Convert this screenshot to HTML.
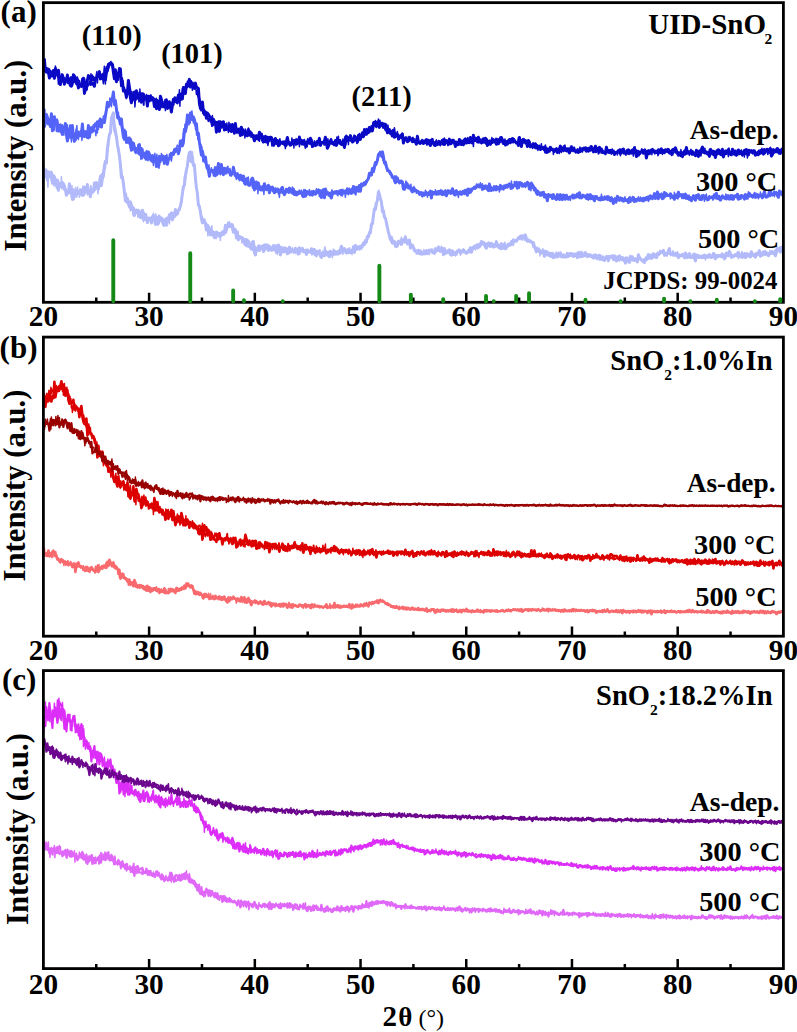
<!DOCTYPE html>
<html><head><meta charset="utf-8"><title>XRD</title>
<style>html,body{margin:0;padding:0;background:#fff;width:797px;height:1032px;overflow:hidden}svg{display:block}
text{font-family:"Liberation Serif",serif}</style></head>
<body><svg width="797" height="1032" viewBox="0 0 797 1032">
<rect width="797" height="1032" fill="#fff"/>
<polyline fill="none" stroke="#b2bafa" stroke-width="3.0" stroke-linejoin="round" points="43.4,178.0 44.4,169.4 45.4,176.8 46.4,171.0 47.4,180.1 48.4,171.7 49.4,175.7 50.4,176.8 51.4,172.1 52.4,183.3 53.4,175.4 54.4,176.8 55.4,180.0 56.4,185.1 57.4,180.0 58.4,190.3 59.4,183.7 60.4,183.3 61.4,186.8 62.4,185.8 63.4,183.6 64.4,186.4 65.4,189.7 66.4,195.3 67.4,191.4 68.4,192.7 69.4,183.7 70.4,191.2 71.4,192.6 72.4,199.4 73.4,199.2 74.4,194.4 75.4,195.8 76.4,193.5 77.4,190.8 78.4,193.0 79.4,191.2 80.4,193.3 81.4,194.2 82.4,190.8 83.4,195.1 84.4,187.1 85.4,191.0 86.4,191.7 87.4,184.6 88.4,193.1 89.4,193.4 90.4,196.8 91.4,190.4 92.4,192.1 93.4,191.6 94.4,183.0 95.4,189.0 96.4,182.4 97.4,187.6 98.4,188.3 99.4,185.7 100.4,176.3 101.4,185.5 102.4,178.0 103.4,176.4 104.4,165.9 105.4,161.3 106.4,163.1 107.4,148.7 108.4,141.2 109.4,134.8 110.4,132.9 111.4,117.9 112.4,115.5 113.4,112.8 114.4,130.2 115.4,132.3 116.4,136.6 117.4,144.3 118.4,149.4 119.4,155.8 120.4,164.4 121.4,177.7 122.4,176.8 123.4,183.2 124.4,192.1 125.4,200.8 126.4,200.8 127.4,198.3 128.4,203.9 129.4,205.2 130.4,201.9 131.4,204.9 132.4,209.4 133.4,207.8 134.4,215.6 135.4,212.0 136.4,210.1 137.4,212.2 138.4,210.3 139.4,211.9 140.4,217.4 141.4,215.4 142.4,210.2 143.4,212.8 144.4,219.6 145.4,214.5 146.4,217.6 147.4,222.6 148.4,218.6 149.4,218.6 150.4,218.3 151.4,222.9 152.4,217.1 153.4,215.3 154.4,219.4 155.4,224.3 156.4,220.4 157.4,224.4 158.4,223.6 159.4,216.5 160.4,220.4 161.4,220.1 162.4,220.7 163.4,224.7 164.4,225.4 165.4,223.2 166.4,224.3 167.4,217.9 168.4,221.4 169.4,214.7 170.4,216.1 171.4,212.7 172.4,219.8 173.4,214.0 174.4,216.9 175.4,209.6 176.4,213.4 177.4,214.0 178.4,210.4 179.4,208.9 180.4,206.3 181.4,200.8 182.4,193.8 183.4,186.3 184.4,185.3 185.4,175.5 186.4,170.0 187.4,165.8 188.4,156.9 189.4,152.6 190.4,151.8 191.4,161.8 192.4,157.1 193.4,165.6 194.4,164.9 195.4,178.0 196.4,187.7 197.4,193.3 198.4,205.0 199.4,206.8 200.4,211.8 201.4,218.6 202.4,222.8 203.4,221.4 204.4,221.2 205.4,223.7 206.4,229.9 207.4,225.0 208.4,226.7 209.4,228.2 210.4,234.9 211.4,234.2 212.4,231.3 213.4,232.5 214.4,235.0 215.4,233.6 216.4,232.1 217.4,232.7 218.4,234.5 219.4,233.3 220.4,234.9 221.4,233.6 222.4,231.9 223.4,234.2 224.4,233.2 225.4,225.5 226.4,230.1 227.4,226.2 228.4,223.0 229.4,226.6 230.4,225.1 231.4,226.7 232.4,224.9 233.4,232.3 234.4,230.6 235.4,229.6 236.4,238.1 237.4,232.4 238.4,239.9 239.4,236.5 240.4,236.9 241.4,237.7 242.4,237.8 243.4,238.9 244.4,243.0 245.4,242.6 246.4,239.4 247.4,244.6 248.4,240.9 249.4,246.4 250.4,244.4 251.4,245.3 252.4,249.2 253.4,241.5 254.4,252.4 255.4,254.9 256.4,250.2 257.4,249.1 258.4,246.1 259.4,250.6 260.4,247.5 261.4,247.3 262.4,246.1 263.4,251.6 264.4,250.2 265.4,244.7 266.4,247.9 267.4,245.0 268.4,250.5 269.4,246.1 270.4,248.2 271.4,249.8 272.4,248.0 273.4,245.6 274.4,247.7 275.4,245.7 276.4,252.5 277.4,251.4 278.4,245.1 279.4,246.7 280.4,254.9 281.4,251.2 282.4,248.9 283.4,251.9 284.4,250.6 285.4,251.7 286.4,249.0 287.4,253.8 288.4,250.6 289.4,247.2 290.4,249.9 291.4,249.3 292.4,251.0 293.4,250.8 294.4,250.5 295.4,248.3 296.4,250.8 297.4,249.0 298.4,254.1 299.4,247.8 300.4,249.9 301.4,249.4 302.4,248.4 303.4,251.7 304.4,251.6 305.4,251.4 306.4,254.5 307.4,249.9 308.4,252.3 309.4,251.6 310.4,252.2 311.4,248.8 312.4,249.1 313.4,253.8 314.4,249.4 315.4,254.6 316.4,255.6 317.4,251.1 318.4,253.2 319.4,253.0 320.4,256.0 321.4,257.5 322.4,254.7 323.4,254.9 324.4,255.7 325.4,251.0 326.4,253.0 327.4,255.1 328.4,252.2 329.4,256.8 330.4,251.2 331.4,252.8 332.4,253.4 333.4,254.5 334.4,251.0 335.4,252.1 336.4,253.6 337.4,252.9 338.4,253.8 339.4,250.7 340.4,250.0 341.4,246.2 342.4,249.2 343.4,250.7 344.4,248.5 345.4,250.5 346.4,252.9 347.4,250.0 348.4,252.7 349.4,252.1 350.4,250.4 351.4,251.6 352.4,251.7 353.4,246.8 354.4,252.6 355.4,245.4 356.4,249.2 357.4,247.1 358.4,246.8 359.4,247.9 360.4,246.2 361.4,246.0 362.4,245.6 363.4,243.0 364.4,244.3 365.4,240.5 366.4,242.1 367.4,236.6 368.4,237.0 369.4,232.5 370.4,232.9 371.4,224.2 372.4,223.9 373.4,216.0 374.4,208.7 375.4,209.4 376.4,203.6 377.4,200.4 378.4,191.9 379.4,193.9 380.4,199.1 381.4,201.3 382.4,211.5 383.4,210.5 384.4,217.4 385.4,218.2 386.4,222.7 387.4,227.4 388.4,231.8 389.4,235.7 390.4,239.5 391.4,237.2 392.4,243.0 393.4,242.9 394.4,241.5 395.4,244.0 396.4,246.6 397.4,245.8 398.4,241.3 399.4,242.1 400.4,241.7 401.4,244.4 402.4,241.0 403.4,239.7 404.4,241.0 405.4,236.8 406.4,241.9 407.4,243.9 408.4,243.4 409.4,240.0 410.4,248.1 411.4,245.5 412.4,245.2 413.4,247.1 414.4,250.8 415.4,250.8 416.4,251.5 417.4,253.1 418.4,250.4 419.4,253.8 420.4,250.8 421.4,253.2 422.4,254.2 423.4,253.2 424.4,253.7 425.4,251.5 426.4,250.7 427.4,253.7 428.4,251.5 429.4,250.1 430.4,250.5 431.4,250.0 432.4,252.4 433.4,252.0 434.4,253.4 435.4,248.8 436.4,250.7 437.4,250.4 438.4,247.0 439.4,250.4 440.4,251.5 441.4,249.1 442.4,248.4 443.4,254.7 444.4,248.5 445.4,253.5 446.4,251.6 447.4,252.0 448.4,250.5 449.4,249.9 450.4,254.3 451.4,255.2 452.4,250.8 453.4,254.4 454.4,252.5 455.4,254.0 456.4,252.4 457.4,251.7 458.4,250.3 459.4,250.0 460.4,252.8 461.4,252.5 462.4,250.7 463.4,249.7 464.4,250.9 465.4,252.6 466.4,253.1 467.4,252.9 468.4,250.9 469.4,251.6 470.4,247.8 471.4,252.2 472.4,249.2 473.4,247.2 474.4,246.5 475.4,245.8 476.4,246.6 477.4,248.0 478.4,244.7 479.4,246.9 480.4,245.0 481.4,241.5 482.4,242.2 483.4,242.4 484.4,243.3 485.4,247.2 486.4,248.2 487.4,244.8 488.4,244.9 489.4,243.2 490.4,246.6 491.4,243.4 492.4,244.2 493.4,245.3 494.4,246.7 495.4,245.9 496.4,241.6 497.4,246.3 498.4,245.2 499.4,246.6 500.4,248.5 501.4,243.6 502.4,246.8 503.4,248.1 504.4,244.0 505.4,248.8 506.4,247.4 507.4,246.4 508.4,244.0 509.4,245.3 510.4,245.0 511.4,241.6 512.4,241.1 513.4,239.9 514.4,241.2 515.4,240.7 516.4,241.1 517.4,239.6 518.4,237.8 519.4,238.0 520.4,236.1 521.4,239.0 522.4,235.7 523.4,236.0 524.4,237.8 525.4,234.9 526.4,239.2 527.4,241.2 528.4,240.6 529.4,241.3 530.4,241.6 531.4,241.8 532.4,243.0 533.4,242.6 534.4,246.7 535.4,249.0 536.4,251.9 537.4,248.8 538.4,250.8 539.4,251.7 540.4,250.9 541.4,251.4 542.4,252.0 543.4,252.7 544.4,256.3 545.4,251.1 546.4,252.2 547.4,252.0 548.4,255.1 549.4,255.6 550.4,253.2 551.4,256.5 552.4,253.3 553.4,257.7 554.4,255.4 555.4,256.9 556.4,253.1 557.4,257.0 558.4,255.7 559.4,254.6 560.4,252.9 561.4,256.8 562.4,256.7 563.4,254.9 564.4,257.0 565.4,257.0 566.4,257.1 567.4,253.5 568.4,256.3 569.4,255.3 570.4,253.8 571.4,255.1 572.4,253.9 573.4,256.6 574.4,254.4 575.4,255.2 576.4,256.0 577.4,257.6 578.4,255.6 579.4,252.4 580.4,256.9 581.4,254.9 582.4,256.5 583.4,254.9 584.4,254.2 585.4,252.6 586.4,255.4 587.4,256.7 588.4,254.6 589.4,254.8 590.4,254.8 591.4,255.9 592.4,256.6 593.4,258.0 594.4,256.3 595.4,257.3 596.4,255.4 597.4,258.9 598.4,257.5 599.4,255.2 600.4,256.0 601.4,257.3 602.4,259.6 603.4,257.8 604.4,260.5 605.4,258.6 606.4,256.4 607.4,256.6 608.4,260.7 609.4,256.6 610.4,256.6 611.4,256.4 612.4,255.8 613.4,259.3 614.4,259.6 615.4,256.3 616.4,261.0 617.4,259.9 618.4,257.7 619.4,255.9 620.4,257.8 621.4,257.9 622.4,259.8 623.4,258.1 624.4,260.4 625.4,263.1 626.4,257.8 627.4,258.2 628.4,261.4 629.4,262.5 630.4,256.3 631.4,258.6 632.4,256.9 633.4,260.4 634.4,260.0 635.4,258.6 636.4,260.4 637.4,262.0 638.4,254.7 639.4,257.3 640.4,258.7 641.4,259.9 642.4,260.5 643.4,260.0 644.4,262.5 645.4,259.3 646.4,257.6 647.4,257.1 648.4,254.6 649.4,257.4 650.4,258.3 651.4,255.0 652.4,258.0 653.4,253.8 654.4,256.8 655.4,254.9 656.4,257.7 657.4,255.0 658.4,254.5 659.4,253.1 660.4,251.6 661.4,252.2 662.4,251.4 663.4,250.4 664.4,255.0 665.4,254.6 666.4,253.8 667.4,253.9 668.4,250.7 669.4,248.5 670.4,254.2 671.4,254.3 672.4,254.6 673.4,255.3 674.4,255.2 675.4,253.1 676.4,255.6 677.4,255.7 678.4,257.6 679.4,256.2 680.4,255.7 681.4,255.8 682.4,254.3 683.4,255.3 684.4,257.5 685.4,252.9 686.4,254.7 687.4,257.6 688.4,255.2 689.4,253.6 690.4,257.2 691.4,257.5 692.4,257.1 693.4,256.9 694.4,254.0 695.4,260.9 696.4,255.1 697.4,255.2 698.4,257.5 699.4,257.5 700.4,256.5 701.4,256.8 702.4,257.6 703.4,257.1 704.4,255.0 705.4,256.7 706.4,257.0 707.4,257.0 708.4,256.3 709.4,254.6 710.4,257.1 711.4,257.5 712.4,256.9 713.4,253.5 714.4,256.8 715.4,258.8 716.4,257.0 717.4,255.3 718.4,256.6 719.4,255.9 720.4,255.5 721.4,256.9 722.4,256.5 723.4,254.7 724.4,258.9 725.4,257.5 726.4,253.0 727.4,255.6 728.4,255.7 729.4,251.4 730.4,253.6 731.4,257.5 732.4,255.6 733.4,256.3 734.4,255.9 735.4,255.6 736.4,254.6 737.4,253.3 738.4,252.4 739.4,254.0 740.4,256.7 741.4,256.9 742.4,257.4 743.4,254.9 744.4,253.7 745.4,257.6 746.4,256.8 747.4,255.9 748.4,255.7 749.4,254.1 750.4,256.9 751.4,251.8 752.4,254.1 753.4,255.7 754.4,254.7 755.4,257.2 756.4,255.2 757.4,253.2 758.4,253.0 759.4,250.6 760.4,256.2 761.4,254.3 762.4,255.1 763.4,251.9 764.4,252.0 765.4,254.6 766.4,252.7 767.4,253.3 768.4,255.8 769.4,253.9 770.4,253.7 771.4,253.3 772.4,251.9 773.4,253.6 774.4,252.5 775.4,255.8 776.4,252.6 777.4,248.3 778.4,250.1 779.4,248.7 780.4,252.2 781.4,249.1 782.4,246.8 783.4,247.8"/><polyline fill="none" stroke="#b2bafa" stroke-width="1.5" stroke-linejoin="round" points="43.4,180.4 43.9,166.0 44.4,175.3 44.9,172.4 45.4,173.1 45.9,174.2 46.4,169.0 46.9,175.0 47.4,173.6 47.9,187.1 48.4,178.0 48.9,176.7 49.4,177.4 49.9,176.6 50.4,175.7 50.9,178.1 51.4,181.1 51.9,179.2 52.4,183.2 52.9,180.0 53.4,181.0 53.9,186.0 54.4,183.2 54.9,180.2 55.4,181.4 55.9,183.9 56.4,188.4 56.9,181.8 57.4,182.1 57.9,186.1 58.4,180.5 58.9,182.6 59.4,186.5 59.9,185.8 60.4,184.7 60.9,186.8 61.4,176.6 61.9,188.9 62.4,183.3 62.9,181.7 63.4,188.2 63.9,190.0 64.4,186.9 64.9,185.4 65.4,189.2 65.9,189.3 66.4,194.1 66.9,192.4 67.4,191.0 67.9,194.1 68.4,190.4 68.9,188.5 69.4,193.4 69.9,193.6 70.4,191.5 70.9,190.0 71.4,193.4 71.9,185.4 72.4,195.3 72.9,194.9 73.4,188.7 73.9,194.0 74.4,191.0 74.9,196.3 75.4,187.8 75.9,191.1 76.4,195.9 76.9,197.1 77.4,186.9 77.9,191.7 78.4,193.9 78.9,190.9 79.4,197.3 79.9,188.7 80.4,193.2 80.9,188.9 81.4,196.1 81.9,191.6 82.4,190.4 82.9,186.2 83.4,196.3 83.9,193.4 84.4,193.3 84.9,194.4 85.4,192.0 85.9,189.1 86.4,188.6 86.9,188.6 87.4,195.0 87.9,186.6 88.4,189.2 88.9,190.0 89.4,191.6 89.9,192.6 90.4,187.1 90.9,185.6 91.4,190.5 91.9,193.9 92.4,192.2 92.9,190.3 93.4,188.4 93.9,189.8 94.4,187.9 94.9,190.7 95.4,185.6 95.9,188.0 96.4,187.0 96.9,188.6 97.4,187.3 97.9,193.8 98.4,190.2 98.9,189.7 99.4,178.8 99.9,183.1 100.4,181.5 100.9,183.7 101.4,173.8 101.9,182.3 102.4,180.1 102.9,171.2 103.4,170.1 103.9,168.3 104.4,168.3 104.9,167.4 105.4,168.7 105.9,158.9 106.4,158.3 106.9,153.1 107.4,154.5 107.9,148.2 108.4,146.7 108.9,136.2 109.4,135.5 109.9,130.4 110.4,133.9 110.9,128.3 111.4,122.3 111.9,118.3 112.4,118.0 112.9,113.0 113.4,113.0 113.9,119.7 114.4,128.9 114.9,124.6 115.4,127.1 115.9,129.0 116.4,132.4 116.9,141.5 117.4,145.9 117.9,146.8 118.4,151.1 118.9,153.9 119.4,157.6 119.9,156.7 120.4,163.6 120.9,168.8 121.4,169.5 121.9,173.4 122.4,175.4 122.9,179.8 123.4,186.5 123.9,186.5 124.4,190.7 124.9,196.2 125.4,197.7 125.9,202.5 126.4,193.2 126.9,203.1 127.4,200.4 127.9,203.2 128.4,206.1 128.9,207.5 129.4,208.1 129.9,206.2 130.4,210.9 130.9,206.0 131.4,206.9 131.9,210.1 132.4,206.7 132.9,214.9 133.4,212.1 133.9,215.8 134.4,209.9 134.9,209.3 135.4,211.3 135.9,213.3 136.4,210.0 136.9,213.1 137.4,212.4 137.9,217.4 138.4,211.4 138.9,216.6 139.4,212.2 139.9,211.7 140.4,212.8 140.9,211.8 141.4,216.0 141.9,218.9 142.4,216.8 142.9,218.5 143.4,221.7 143.9,218.2 144.4,218.3 144.9,217.2 145.4,213.7 145.9,220.5 146.4,213.7 146.9,220.6 147.4,218.9 147.9,222.3 148.4,219.1 148.9,217.1 149.4,220.5 149.9,217.9 150.4,219.0 150.9,219.6 151.4,219.0 151.9,218.8 152.4,217.0 152.9,218.7 153.4,213.2 153.9,218.6 154.4,215.7 154.9,222.1 155.4,222.5 155.9,213.7 156.4,219.5 156.9,218.9 157.4,216.5 157.9,220.9 158.4,218.4 158.9,214.9 159.4,219.1 159.9,219.6 160.4,220.4 160.9,216.8 161.4,222.0 161.9,222.4 162.4,217.4 162.9,218.8 163.4,220.5 163.9,219.2 164.4,225.5 164.9,221.4 165.4,218.0 165.9,218.5 166.4,220.2 166.9,226.2 167.4,219.1 167.9,219.5 168.4,220.0 168.9,218.1 169.4,223.9 169.9,215.9 170.4,219.0 170.9,217.1 171.4,218.1 171.9,212.9 172.4,220.5 172.9,215.1 173.4,215.2 173.9,212.2 174.4,212.4 174.9,215.4 175.4,216.0 175.9,214.9 176.4,215.6 176.9,213.8 177.4,211.3 177.9,212.8 178.4,211.4 178.9,208.7 179.4,209.9 179.9,210.3 180.4,206.1 180.9,202.4 181.4,202.6 181.9,202.7 182.4,194.1 182.9,191.3 183.4,188.2 183.9,188.5 184.4,177.0 184.9,179.4 185.4,178.3 185.9,170.0 186.4,173.3 186.9,168.3 187.4,163.1 187.9,162.9 188.4,156.3 188.9,156.7 189.4,161.2 189.9,153.2 190.4,160.3 190.9,155.6 191.4,158.7 191.9,156.7 192.4,151.8 192.9,158.5 193.4,163.7 193.9,163.6 194.4,166.6 194.9,175.3 195.4,177.2 195.9,178.8 196.4,185.4 196.9,193.2 197.4,193.5 197.9,200.5 198.4,205.3 198.9,204.7 199.4,204.6 199.9,206.6 200.4,211.7 200.9,215.7 201.4,215.7 201.9,217.8 202.4,216.6 202.9,219.7 203.4,218.9 203.9,220.4 204.4,218.9 204.9,219.2 205.4,223.0 205.9,222.4 206.4,223.7 206.9,228.6 207.4,227.5 207.9,235.9 208.4,231.6 208.9,228.5 209.4,232.6 209.9,232.1 210.4,230.0 210.9,234.9 211.4,230.8 211.9,225.7 212.4,235.6 212.9,232.5 213.4,238.0 213.9,233.1 214.4,231.9 214.9,238.7 215.4,232.3 215.9,235.4 216.4,238.4 216.9,235.2 217.4,234.7 217.9,235.1 218.4,236.9 218.9,233.0 219.4,236.4 219.9,236.3 220.4,240.4 220.9,233.9 221.4,232.3 221.9,235.9 222.4,232.8 222.9,234.0 223.4,233.2 223.9,235.1 224.4,230.3 224.9,231.2 225.4,224.9 225.9,228.0 226.4,232.9 226.9,226.7 227.4,225.8 227.9,223.6 228.4,227.0 228.9,225.4 229.4,221.8 229.9,225.8 230.4,225.0 230.9,226.4 231.4,223.6 231.9,229.7 232.4,227.2 232.9,226.6 233.4,226.3 233.9,227.8 234.4,231.2 234.9,229.6 235.4,233.6 235.9,233.4 236.4,236.1 236.9,235.7 237.4,234.4 237.9,231.0 238.4,236.6 238.9,238.4 239.4,237.6 239.9,239.1 240.4,237.4 240.9,238.2 241.4,237.4 241.9,243.0 242.4,240.8 242.9,239.8 243.4,238.4 243.9,241.4 244.4,245.3 244.9,243.5 245.4,241.2 245.9,246.3 246.4,246.6 246.9,246.0 247.4,245.9 247.9,246.9 248.4,245.9 248.9,246.6 249.4,243.5 249.9,248.6 250.4,246.0 250.9,250.1 251.4,241.5 251.9,247.6 252.4,248.4 252.9,245.7 253.4,247.6 253.9,248.4 254.4,248.2 254.9,245.9 255.4,246.9 255.9,249.5 256.4,250.2 256.9,247.8 257.4,247.8 257.9,248.2 258.4,250.0 258.9,245.7 259.4,245.1 259.9,248.3 260.4,245.7 260.9,246.8 261.4,248.2 261.9,249.1 262.4,245.8 262.9,249.8 263.4,244.4 263.9,249.3 264.4,244.8 264.9,245.5 265.4,249.5 265.9,247.3 266.4,246.5 266.9,247.3 267.4,249.2 267.9,248.1 268.4,248.2 268.9,250.4 269.4,246.8 269.9,247.3 270.4,247.2 270.9,250.8 271.4,250.5 271.9,251.1 272.4,248.4 272.9,248.2 273.4,250.4 273.9,247.9 274.4,250.5 274.9,250.3 275.4,247.5 275.9,248.8 276.4,248.8 276.9,252.7 277.4,254.5 277.9,249.1 278.4,249.4 278.9,244.7 279.4,249.9 279.9,249.5 280.4,247.3 280.9,251.2 281.4,246.4 281.9,249.2 282.4,249.9 282.9,247.2 283.4,251.5 283.9,251.9 284.4,247.0 284.9,247.0 285.4,251.0 285.9,249.8 286.4,247.4 286.9,249.3 287.4,249.7 287.9,249.7 288.4,251.6 288.9,250.8 289.4,253.5 289.9,252.8 290.4,251.4 290.9,252.2 291.4,252.7 291.9,251.5 292.4,247.7 292.9,251.9 293.4,250.3 293.9,253.4 294.4,250.4 294.9,251.3 295.4,250.9 295.9,253.6 296.4,250.7 296.9,249.8 297.4,251.0 297.9,249.5 298.4,250.7 298.9,250.4 299.4,251.0 299.9,254.3 300.4,249.7 300.9,250.6 301.4,250.2 301.9,251.9 302.4,248.4 302.9,249.4 303.4,250.7 303.9,251.9 304.4,250.8 304.9,249.9 305.4,249.3 305.9,252.0 306.4,253.9 306.9,251.7 307.4,251.5 307.9,252.1 308.4,249.5 308.9,250.8 309.4,250.9 309.9,252.0 310.4,251.5 310.9,249.3 311.4,253.8 311.9,254.9 312.4,251.3 312.9,252.6 313.4,252.4 313.9,253.4 314.4,249.2 314.9,255.1 315.4,251.2 315.9,254.6 316.4,252.4 316.9,251.6 317.4,252.1 317.9,254.1 318.4,250.8 318.9,251.8 319.4,251.7 319.9,249.4 320.4,255.1 320.9,253.8 321.4,252.7 321.9,255.0 322.4,251.1 322.9,252.8 323.4,256.2 323.9,254.8 324.4,248.9 324.9,246.8 325.4,251.1 325.9,255.1 326.4,252.2 326.9,252.7 327.4,254.3 327.9,251.5 328.4,253.6 328.9,254.7 329.4,254.1 329.9,253.9 330.4,252.1 330.9,254.1 331.4,252.4 331.9,255.5 332.4,257.8 332.9,251.7 333.4,249.1 333.9,252.3 334.4,253.7 334.9,254.9 335.4,254.9 335.9,251.4 336.4,251.4 336.9,255.0 337.4,250.7 337.9,254.6 338.4,252.2 338.9,253.9 339.4,253.7 339.9,253.8 340.4,253.8 340.9,250.5 341.4,252.8 341.9,252.2 342.4,252.7 342.9,254.2 343.4,251.5 343.9,250.6 344.4,250.5 344.9,251.2 345.4,253.0 345.9,250.1 346.4,253.5 346.9,251.9 347.4,250.8 347.9,248.8 348.4,251.5 348.9,252.2 349.4,247.7 349.9,252.8 350.4,253.5 350.9,251.1 351.4,251.2 351.9,254.5 352.4,252.3 352.9,248.4 353.4,249.8 353.9,249.4 354.4,249.3 354.9,245.3 355.4,250.6 355.9,248.0 356.4,249.2 356.9,248.5 357.4,250.1 357.9,247.8 358.4,246.8 358.9,248.8 359.4,250.1 359.9,246.9 360.4,249.6 360.9,247.4 361.4,245.7 361.9,248.9 362.4,244.5 362.9,247.2 363.4,244.1 363.9,245.3 364.4,241.9 364.9,242.0 365.4,244.6 365.9,242.3 366.4,241.2 366.9,239.4 367.4,239.8 367.9,235.5 368.4,234.7 368.9,234.9 369.4,232.1 369.9,230.6 370.4,229.9 370.9,227.9 371.4,225.7 371.9,226.7 372.4,223.2 372.9,221.2 373.4,216.6 373.9,213.3 374.4,209.3 374.9,208.6 375.4,203.1 375.9,203.0 376.4,202.8 376.9,201.9 377.4,198.6 377.9,193.1 378.4,193.3 378.9,190.1 379.4,193.3 379.9,193.4 380.4,197.4 380.9,202.6 381.4,202.1 381.9,206.9 382.4,206.0 382.9,207.7 383.4,212.7 383.9,215.7 384.4,214.2 384.9,217.4 385.4,217.1 385.9,221.2 386.4,225.0 386.9,225.4 387.4,226.7 387.9,227.2 388.4,232.0 388.9,234.4 389.4,235.7 389.9,236.8 390.4,235.9 390.9,242.2 391.4,240.6 391.9,241.3 392.4,243.4 392.9,239.4 393.4,243.3 393.9,243.7 394.4,244.9 394.9,246.8 395.4,245.6 395.9,242.1 396.4,244.4 396.9,245.1 397.4,244.7 397.9,242.1 398.4,241.0 398.9,244.1 399.4,243.4 399.9,242.5 400.4,239.6 400.9,244.8 401.4,237.2 401.9,240.9 402.4,244.5 402.9,240.8 403.4,241.3 403.9,239.1 404.4,243.0 404.9,239.0 405.4,241.6 405.9,241.6 406.4,240.0 406.9,243.3 407.4,240.0 407.9,241.4 408.4,242.7 408.9,242.3 409.4,243.9 409.9,244.9 410.4,243.3 410.9,243.3 411.4,243.7 411.9,244.4 412.4,246.7 412.9,245.9 413.4,247.9 413.9,248.2 414.4,248.1 414.9,251.7 415.4,249.5 415.9,251.6 416.4,254.0 416.9,250.3 417.4,252.0 417.9,249.8 418.4,251.6 418.9,250.2 419.4,251.9 419.9,251.7 420.4,252.7 420.9,254.9 421.4,252.9 421.9,253.4 422.4,252.3 422.9,252.0 423.4,251.1 423.9,249.6 424.4,252.4 424.9,254.6 425.4,252.9 425.9,251.3 426.4,254.5 426.9,251.3 427.4,251.0 427.9,250.0 428.4,250.3 428.9,251.3 429.4,254.6 429.9,251.2 430.4,249.9 430.9,250.5 431.4,251.0 431.9,248.7 432.4,251.3 432.9,252.1 433.4,251.5 433.9,251.8 434.4,249.0 434.9,248.3 435.4,252.7 435.9,252.3 436.4,248.4 436.9,250.9 437.4,250.6 437.9,251.4 438.4,250.8 438.9,249.8 439.4,250.8 439.9,250.7 440.4,250.4 440.9,247.8 441.4,246.1 441.9,249.4 442.4,248.2 442.9,251.0 443.4,251.8 443.9,251.1 444.4,250.3 444.9,251.0 445.4,252.7 445.9,249.9 446.4,252.5 446.9,252.2 447.4,251.7 447.9,253.5 448.4,250.4 448.9,252.9 449.4,250.3 449.9,250.6 450.4,250.2 450.9,252.6 451.4,250.6 451.9,252.2 452.4,250.5 452.9,253.9 453.4,255.1 453.9,252.8 454.4,255.0 454.9,253.4 455.4,255.9 455.9,252.9 456.4,250.4 456.9,255.1 457.4,252.7 457.9,251.4 458.4,252.0 458.9,250.6 459.4,252.7 459.9,251.4 460.4,255.2 460.9,254.0 461.4,250.5 461.9,250.6 462.4,251.9 462.9,249.8 463.4,252.4 463.9,252.4 464.4,251.2 464.9,251.4 465.4,252.8 465.9,254.0 466.4,253.9 466.9,251.5 467.4,252.6 467.9,250.0 468.4,251.5 468.9,249.2 469.4,251.5 469.9,248.4 470.4,248.6 470.9,249.8 471.4,250.4 471.9,247.2 472.4,248.3 472.9,249.1 473.4,249.0 473.9,247.2 474.4,248.4 474.9,247.6 475.4,249.9 475.9,248.4 476.4,245.3 476.9,243.7 477.4,246.9 477.9,248.1 478.4,246.3 478.9,247.1 479.4,244.7 479.9,243.2 480.4,246.0 480.9,244.8 481.4,245.5 481.9,242.3 482.4,244.5 482.9,243.3 483.4,245.4 483.9,243.4 484.4,243.3 484.9,243.4 485.4,246.2 485.9,244.4 486.4,243.2 486.9,242.9 487.4,242.9 487.9,246.7 488.4,241.9 488.9,243.4 489.4,245.7 489.9,246.6 490.4,244.7 490.9,246.1 491.4,246.1 491.9,246.6 492.4,245.2 492.9,247.7 493.4,245.6 493.9,247.7 494.4,243.8 494.9,246.9 495.4,243.7 495.9,243.4 496.4,246.5 496.9,244.6 497.4,246.5 497.9,244.4 498.4,248.4 498.9,246.1 499.4,244.5 499.9,246.5 500.4,247.7 500.9,245.3 501.4,247.3 501.9,249.6 502.4,247.9 502.9,246.7 503.4,245.9 503.9,247.6 504.4,244.5 504.9,242.3 505.4,245.8 505.9,245.1 506.4,249.1 506.9,246.6 507.4,244.6 507.9,244.1 508.4,246.3 508.9,243.9 509.4,243.9 509.9,244.3 510.4,244.1 510.9,243.7 511.4,243.4 511.9,244.7 512.4,244.9 512.9,239.5 513.4,245.4 513.9,241.4 514.4,242.8 514.9,239.6 515.4,240.9 515.9,240.4 516.4,240.0 516.9,240.8 517.4,240.2 517.9,237.5 518.4,238.5 518.9,239.5 519.4,239.2 519.9,237.5 520.4,237.4 520.9,237.4 521.4,235.9 521.9,235.6 522.4,239.8 522.9,237.0 523.4,237.8 523.9,236.6 524.4,239.8 524.9,240.6 525.4,237.9 525.9,239.2 526.4,237.5 526.9,241.5 527.4,240.5 527.9,238.2 528.4,241.5 528.9,240.5 529.4,240.9 529.9,241.1 530.4,239.9 530.9,240.5 531.4,242.8 531.9,242.4 532.4,241.8 532.9,246.9 533.4,244.4 533.9,244.6 534.4,245.2 534.9,247.9 535.4,249.0 535.9,248.6 536.4,250.1 536.9,247.0 537.4,249.0 537.9,249.3 538.4,250.3 538.9,251.4 539.4,248.0 539.9,255.9 540.4,250.4 540.9,252.5 541.4,253.5 541.9,253.8 542.4,253.1 542.9,248.7 543.4,251.7 543.9,254.6 544.4,252.3 544.9,252.3 545.4,250.5 545.9,255.9 546.4,255.0 546.9,253.0 547.4,254.2 547.9,254.4 548.4,252.9 548.9,254.2 549.4,255.1 549.9,255.6 550.4,256.7 550.9,255.0 551.4,254.3 551.9,255.6 552.4,254.2 552.9,253.3 553.4,256.9 553.9,254.7 554.4,255.5 554.9,256.3 555.4,253.7 555.9,256.3 556.4,256.1 556.9,255.3 557.4,256.1 557.9,254.4 558.4,252.3 558.9,255.1 559.4,254.2 559.9,256.8 560.4,255.9 560.9,254.7 561.4,255.6 561.9,257.5 562.4,257.1 562.9,256.0 563.4,256.1 563.9,255.0 564.4,255.2 564.9,256.2 565.4,255.1 565.9,255.7 566.4,253.6 566.9,252.7 567.4,252.7 567.9,254.5 568.4,257.0 568.9,256.8 569.4,253.5 569.9,252.6 570.4,256.1 570.9,255.5 571.4,252.8 571.9,256.3 572.4,255.0 572.9,256.6 573.4,255.1 573.9,255.9 574.4,255.0 574.9,253.1 575.4,254.1 575.9,253.5 576.4,255.6 576.9,252.9 577.4,252.1 577.9,255.4 578.4,256.0 578.9,256.5 579.4,255.9 579.9,252.1 580.4,253.3 580.9,253.5 581.4,254.3 581.9,251.2 582.4,254.4 582.9,254.9 583.4,253.1 583.9,254.8 584.4,256.4 584.9,254.8 585.4,256.4 585.9,256.4 586.4,255.6 586.9,255.7 587.4,254.7 587.9,257.1 588.4,254.7 588.9,254.5 589.4,256.7 589.9,254.7 590.4,256.5 590.9,257.5 591.4,256.2 591.9,256.4 592.4,257.7 592.9,257.5 593.4,254.3 593.9,254.7 594.4,258.7 594.9,257.4 595.4,253.9 595.9,255.1 596.4,257.2 596.9,255.8 597.4,258.0 597.9,257.5 598.4,258.1 598.9,255.7 599.4,258.4 599.9,260.4 600.4,256.4 600.9,259.5 601.4,259.0 601.9,258.6 602.4,257.5 602.9,256.0 603.4,256.4 603.9,258.8 604.4,259.1 604.9,259.5 605.4,259.1 605.9,259.1 606.4,257.1 606.9,256.0 607.4,258.1 607.9,258.5 608.4,257.9 608.9,255.6 609.4,257.1 609.9,255.7 610.4,258.1 610.9,256.4 611.4,257.7 611.9,258.4 612.4,258.1 612.9,260.0 613.4,256.4 613.9,254.8 614.4,259.4 614.9,260.1 615.4,260.2 615.9,258.5 616.4,258.9 616.9,258.3 617.4,256.3 617.9,257.4 618.4,259.0 618.9,257.5 619.4,261.1 619.9,256.1 620.4,257.8 620.9,260.1 621.4,257.6 621.9,256.9 622.4,256.6 622.9,257.6 623.4,260.9 623.9,259.4 624.4,259.6 624.9,258.1 625.4,260.2 625.9,259.2 626.4,257.7 626.9,258.5 627.4,259.5 627.9,260.9 628.4,259.2 628.9,260.1 629.4,262.3 629.9,258.3 630.4,257.7 630.9,261.0 631.4,260.2 631.9,259.5 632.4,260.1 632.9,259.2 633.4,260.5 633.9,259.3 634.4,261.0 634.9,258.2 635.4,258.7 635.9,260.1 636.4,259.3 636.9,261.0 637.4,259.9 637.9,259.2 638.4,260.3 638.9,259.3 639.4,257.8 639.9,258.4 640.4,258.9 640.9,259.3 641.4,260.1 641.9,261.3 642.4,260.7 642.9,262.4 643.4,261.6 643.9,259.3 644.4,261.9 644.9,261.1 645.4,258.5 645.9,259.5 646.4,260.5 646.9,259.1 647.4,260.0 647.9,258.9 648.4,259.2 648.9,257.5 649.4,258.3 649.9,257.0 650.4,258.4 650.9,254.7 651.4,257.4 651.9,258.5 652.4,257.4 652.9,256.3 653.4,256.9 653.9,254.6 654.4,254.4 654.9,254.9 655.4,255.0 655.9,256.4 656.4,253.5 656.9,256.1 657.4,252.2 657.9,253.1 658.4,254.1 658.9,255.6 659.4,252.9 659.9,250.5 660.4,254.1 660.9,253.3 661.4,251.7 661.9,251.7 662.4,252.1 662.9,253.2 663.4,253.9 663.9,250.8 664.4,256.2 664.9,252.8 665.4,252.3 665.9,253.9 666.4,253.1 666.9,256.3 667.4,254.6 667.9,252.5 668.4,252.5 668.9,252.4 669.4,252.7 669.9,254.2 670.4,252.3 670.9,255.7 671.4,253.3 671.9,253.3 672.4,255.0 672.9,250.8 673.4,252.4 673.9,254.7 674.4,254.0 674.9,254.1 675.4,254.8 675.9,253.4 676.4,254.1 676.9,252.5 677.4,251.9 677.9,256.5 678.4,253.4 678.9,253.9 679.4,257.0 679.9,256.6 680.4,254.4 680.9,254.5 681.4,255.3 681.9,254.1 682.4,256.4 682.9,255.9 683.4,255.9 683.9,256.9 684.4,257.0 684.9,258.7 685.4,258.2 685.9,253.6 686.4,257.5 686.9,254.6 687.4,254.2 687.9,257.3 688.4,255.3 688.9,255.9 689.4,257.9 689.9,255.4 690.4,255.1 690.9,256.8 691.4,258.1 691.9,257.1 692.4,254.1 692.9,255.4 693.4,256.1 693.9,259.1 694.4,257.6 694.9,257.6 695.4,258.1 695.9,255.9 696.4,257.0 696.9,257.0 697.4,254.9 697.9,256.3 698.4,257.1 698.9,254.7 699.4,257.5 699.9,257.4 700.4,257.8 700.9,255.2 701.4,256.4 701.9,258.4 702.4,257.4 702.9,255.1 703.4,256.6 703.9,258.3 704.4,256.1 704.9,256.8 705.4,259.9 705.9,256.1 706.4,256.0 706.9,254.7 707.4,255.2 707.9,258.3 708.4,255.9 708.9,254.4 709.4,254.8 709.9,256.1 710.4,257.2 710.9,255.0 711.4,257.1 711.9,255.4 712.4,256.6 712.9,256.8 713.4,256.9 713.9,255.4 714.4,255.7 714.9,256.7 715.4,254.1 715.9,256.2 716.4,256.7 716.9,257.4 717.4,255.8 717.9,255.6 718.4,256.1 718.9,254.8 719.4,255.5 719.9,256.4 720.4,256.2 720.9,254.3 721.4,255.3 721.9,252.7 722.4,256.9 722.9,254.9 723.4,256.0 723.9,254.1 724.4,255.5 724.9,256.3 725.4,257.0 725.9,253.6 726.4,256.8 726.9,255.3 727.4,254.4 727.9,256.2 728.4,255.1 728.9,255.1 729.4,254.5 729.9,255.8 730.4,255.5 730.9,255.2 731.4,254.0 731.9,254.6 732.4,255.9 732.9,257.2 733.4,255.3 733.9,257.3 734.4,255.3 734.9,253.7 735.4,256.2 735.9,253.8 736.4,255.8 736.9,256.7 737.4,254.7 737.9,255.0 738.4,258.7 738.9,255.5 739.4,255.5 739.9,256.2 740.4,254.9 740.9,254.9 741.4,255.6 741.9,251.5 742.4,257.0 742.9,253.4 743.4,253.4 743.9,255.7 744.4,254.9 744.9,253.1 745.4,255.2 745.9,253.2 746.4,253.8 746.9,252.6 747.4,253.6 747.9,255.3 748.4,254.9 748.9,255.1 749.4,256.0 749.9,254.6 750.4,253.6 750.9,254.2 751.4,256.9 751.9,254.6 752.4,254.9 752.9,254.3 753.4,254.8 753.9,255.0 754.4,254.3 754.9,254.1 755.4,253.1 755.9,253.0 756.4,254.8 756.9,255.2 757.4,255.4 757.9,254.2 758.4,252.8 758.9,254.9 759.4,254.8 759.9,251.7 760.4,255.0 760.9,254.7 761.4,256.2 761.9,252.1 762.4,251.8 762.9,254.8 763.4,251.0 763.9,252.5 764.4,251.9 764.9,252.0 765.4,250.6 765.9,253.0 766.4,254.6 766.9,253.8 767.4,253.8 767.9,252.5 768.4,255.1 768.9,253.7 769.4,254.4 769.9,250.6 770.4,253.2 770.9,251.0 771.4,253.0 771.9,252.7 772.4,250.7 772.9,252.4 773.4,253.7 773.9,252.6 774.4,252.6 774.9,250.3 775.4,250.4 775.9,249.6 776.4,251.2 776.9,252.5 777.4,251.3 777.9,250.4 778.4,248.6 778.9,250.6 779.4,249.4 779.9,246.8 780.4,246.9 780.9,248.6 781.4,247.6 781.9,251.0 782.4,248.5 782.9,246.7 783.4,247.3"/>
<polyline fill="none" stroke="#5464f8" stroke-width="3.0" stroke-linejoin="round" points="43.4,119.6 44.4,126.7 45.4,122.4 46.4,114.6 47.4,117.3 48.4,124.0 49.4,120.8 50.4,126.4 51.4,113.7 52.4,130.8 53.4,130.1 54.4,116.7 55.4,121.9 56.4,121.7 57.4,124.1 58.4,131.1 59.4,126.0 60.4,124.8 61.4,131.6 62.4,134.4 63.4,127.2 64.4,130.3 65.4,123.5 66.4,134.4 67.4,141.0 68.4,135.4 69.4,133.6 70.4,125.7 71.4,132.7 72.4,125.6 73.4,137.2 74.4,141.3 75.4,139.7 76.4,134.9 77.4,136.4 78.4,131.9 79.4,135.7 80.4,135.7 81.4,134.7 82.4,124.0 83.4,135.8 84.4,136.5 85.4,131.6 86.4,136.3 87.4,137.6 88.4,125.4 89.4,137.2 90.4,131.1 91.4,127.6 92.4,131.7 93.4,126.7 94.4,126.8 95.4,123.8 96.4,124.5 97.4,121.8 98.4,123.7 99.4,121.0 100.4,119.0 101.4,126.9 102.4,120.8 103.4,120.0 104.4,122.5 105.4,115.8 106.4,110.0 107.4,102.3 108.4,106.9 109.4,103.0 110.4,104.3 111.4,99.6 112.4,98.5 113.4,92.1 114.4,104.6 115.4,100.5 116.4,108.6 117.4,115.6 118.4,116.9 119.4,119.1 120.4,124.1 121.4,118.9 122.4,129.2 123.4,136.9 124.4,139.3 125.4,131.4 126.4,142.4 127.4,142.1 128.4,138.2 129.4,138.0 130.4,143.6 131.4,150.2 132.4,147.6 133.4,143.0 134.4,147.7 135.4,152.0 136.4,148.8 137.4,148.5 138.4,152.9 139.4,144.4 140.4,154.5 141.4,148.5 142.4,153.8 143.4,156.0 144.4,154.7 145.4,152.9 146.4,154.7 147.4,159.4 148.4,152.0 149.4,154.0 150.4,158.6 151.4,160.7 152.4,158.0 153.4,156.5 154.4,161.2 155.4,157.5 156.4,166.5 157.4,164.1 158.4,166.3 159.4,156.3 160.4,158.2 161.4,159.0 162.4,155.7 163.4,158.3 164.4,163.5 165.4,156.6 166.4,158.8 167.4,164.3 168.4,159.3 169.4,159.1 170.4,156.6 171.4,153.4 172.4,153.3 173.4,154.5 174.4,150.5 175.4,151.6 176.4,148.9 177.4,149.1 178.4,153.7 179.4,149.1 180.4,140.9 181.4,142.1 182.4,145.9 183.4,142.5 184.4,129.3 185.4,131.6 186.4,126.9 187.4,115.1 188.4,120.4 189.4,122.8 190.4,113.1 191.4,114.9 192.4,119.7 193.4,116.9 194.4,119.6 195.4,125.1 196.4,123.7 197.4,134.8 198.4,133.2 199.4,141.9 200.4,148.5 201.4,155.0 202.4,151.0 203.4,157.9 204.4,161.2 205.4,157.0 206.4,164.7 207.4,167.9 208.4,170.5 209.4,176.2 210.4,170.7 211.4,170.4 212.4,170.5 213.4,170.8 214.4,172.4 215.4,175.8 216.4,167.7 217.4,171.0 218.4,163.6 219.4,165.8 220.4,171.4 221.4,164.5 222.4,171.9 223.4,174.7 224.4,168.3 225.4,168.8 226.4,171.1 227.4,169.8 228.4,171.6 229.4,170.1 230.4,175.0 231.4,173.8 232.4,173.0 233.4,167.2 234.4,172.0 235.4,174.6 236.4,176.9 237.4,173.6 238.4,177.6 239.4,178.8 240.4,175.3 241.4,179.6 242.4,177.8 243.4,176.0 244.4,179.7 245.4,184.3 246.4,182.5 247.4,182.3 248.4,185.1 249.4,185.4 250.4,184.5 251.4,179.5 252.4,178.1 253.4,180.8 254.4,189.9 255.4,187.7 256.4,182.0 257.4,188.5 258.4,183.0 259.4,187.5 260.4,189.6 261.4,187.2 262.4,189.8 263.4,190.2 264.4,183.7 265.4,188.1 266.4,189.7 267.4,187.3 268.4,185.3 269.4,192.7 270.4,189.8 271.4,187.8 272.4,187.2 273.4,189.5 274.4,192.8 275.4,188.7 276.4,191.4 277.4,191.0 278.4,189.9 279.4,190.6 280.4,190.8 281.4,188.4 282.4,187.3 283.4,192.7 284.4,194.6 285.4,192.6 286.4,189.2 287.4,191.4 288.4,190.2 289.4,188.1 290.4,189.1 291.4,190.3 292.4,193.1 293.4,189.1 294.4,194.6 295.4,192.0 296.4,194.9 297.4,194.4 298.4,192.6 299.4,192.4 300.4,192.9 301.4,193.0 302.4,194.0 303.4,196.7 304.4,193.9 305.4,196.1 306.4,194.7 307.4,191.7 308.4,193.7 309.4,194.1 310.4,194.6 311.4,191.7 312.4,195.1 313.4,191.3 314.4,192.3 315.4,194.2 316.4,193.1 317.4,190.8 318.4,189.8 319.4,191.6 320.4,191.2 321.4,197.6 322.4,190.4 323.4,189.6 324.4,197.8 325.4,189.1 326.4,191.5 327.4,193.9 328.4,192.9 329.4,193.5 330.4,196.3 331.4,198.0 332.4,193.3 333.4,193.6 334.4,192.2 335.4,191.7 336.4,191.9 337.4,193.3 338.4,191.7 339.4,193.4 340.4,191.7 341.4,190.3 342.4,191.8 343.4,191.9 344.4,191.2 345.4,191.1 346.4,193.0 347.4,188.8 348.4,193.4 349.4,189.9 350.4,190.7 351.4,193.4 352.4,192.5 353.4,186.4 354.4,190.7 355.4,192.5 356.4,187.3 357.4,188.0 358.4,191.3 359.4,185.4 360.4,191.2 361.4,184.0 362.4,184.4 363.4,183.6 364.4,182.7 365.4,184.0 366.4,181.9 367.4,180.0 368.4,178.6 369.4,173.2 370.4,173.5 371.4,175.1 372.4,168.6 373.4,171.8 374.4,166.5 375.4,162.6 376.4,163.4 377.4,160.3 378.4,154.8 379.4,153.3 380.4,152.5 381.4,153.8 382.4,151.9 383.4,156.7 384.4,162.9 385.4,162.1 386.4,166.6 387.4,169.7 388.4,170.5 389.4,171.2 390.4,173.0 391.4,174.5 392.4,177.4 393.4,177.0 394.4,180.1 395.4,182.8 396.4,181.1 397.4,178.0 398.4,181.8 399.4,181.2 400.4,181.2 401.4,180.9 402.4,182.2 403.4,189.1 404.4,189.3 405.4,187.3 406.4,182.9 407.4,185.6 408.4,188.0 409.4,186.1 410.4,188.6 411.4,190.3 412.4,191.8 413.4,190.4 414.4,190.7 415.4,190.2 416.4,190.4 417.4,191.7 418.4,191.7 419.4,193.8 420.4,193.3 421.4,192.7 422.4,196.0 423.4,193.0 424.4,194.8 425.4,194.6 426.4,192.6 427.4,193.6 428.4,194.0 429.4,192.4 430.4,191.0 431.4,198.0 432.4,192.0 433.4,192.5 434.4,192.5 435.4,192.8 436.4,194.3 437.4,194.1 438.4,191.6 439.4,193.2 440.4,193.8 441.4,192.2 442.4,194.6 443.4,193.1 444.4,194.2 445.4,190.8 446.4,195.8 447.4,192.4 448.4,190.9 449.4,191.1 450.4,191.3 451.4,193.3 452.4,188.7 453.4,191.0 454.4,194.7 455.4,195.0 456.4,190.9 457.4,193.1 458.4,193.2 459.4,192.4 460.4,191.9 461.4,194.3 462.4,192.2 463.4,192.9 464.4,193.7 465.4,190.3 466.4,190.1 467.4,195.3 468.4,189.2 469.4,192.6 470.4,192.3 471.4,190.0 472.4,188.8 473.4,188.8 474.4,187.1 475.4,187.7 476.4,186.6 477.4,185.4 478.4,185.1 479.4,186.9 480.4,185.4 481.4,185.2 482.4,189.3 483.4,186.3 484.4,188.0 485.4,185.9 486.4,186.2 487.4,189.3 488.4,190.6 489.4,183.9 490.4,190.3 491.4,190.5 492.4,189.1 493.4,190.0 494.4,186.9 495.4,189.3 496.4,186.5 497.4,187.9 498.4,187.5 499.4,188.2 500.4,185.4 501.4,188.1 502.4,188.0 503.4,189.1 504.4,185.9 505.4,187.5 506.4,185.2 507.4,187.1 508.4,184.8 509.4,183.9 510.4,184.6 511.4,188.2 512.4,187.9 513.4,185.4 514.4,185.3 515.4,185.7 516.4,182.3 517.4,188.3 518.4,183.1 519.4,182.6 520.4,184.4 521.4,183.1 522.4,185.3 523.4,186.0 524.4,184.3 525.4,185.3 526.4,184.1 527.4,182.3 528.4,183.3 529.4,189.0 530.4,185.6 531.4,183.1 532.4,185.0 533.4,186.3 534.4,190.0 535.4,189.8 536.4,192.9 537.4,194.4 538.4,192.8 539.4,193.4 540.4,195.3 541.4,193.1 542.4,194.0 543.4,192.2 544.4,197.0 545.4,194.6 546.4,196.9 547.4,200.8 548.4,194.4 549.4,196.1 550.4,195.3 551.4,195.2 552.4,198.5 553.4,194.6 554.4,198.0 555.4,197.7 556.4,199.5 557.4,194.6 558.4,195.6 559.4,199.5 560.4,194.6 561.4,198.0 562.4,199.6 563.4,195.0 564.4,195.7 565.4,199.0 566.4,195.2 567.4,198.7 568.4,199.2 569.4,197.2 570.4,196.9 571.4,196.8 572.4,195.6 573.4,198.1 574.4,197.9 575.4,196.5 576.4,197.0 577.4,194.0 578.4,194.7 579.4,192.7 580.4,195.3 581.4,197.9 582.4,196.9 583.4,195.6 584.4,195.8 585.4,195.9 586.4,198.5 587.4,194.8 588.4,199.0 589.4,198.0 590.4,194.6 591.4,198.4 592.4,198.7 593.4,196.9 594.4,200.8 595.4,196.5 596.4,197.3 597.4,198.5 598.4,199.1 599.4,198.0 600.4,200.0 601.4,197.5 602.4,199.5 603.4,198.5 604.4,198.9 605.4,197.3 606.4,198.9 607.4,196.6 608.4,196.8 609.4,199.1 610.4,200.8 611.4,197.7 612.4,200.4 613.4,203.5 614.4,200.6 615.4,200.7 616.4,199.4 617.4,196.4 618.4,199.0 619.4,199.8 620.4,197.8 621.4,200.1 622.4,198.5 623.4,201.2 624.4,200.0 625.4,200.2 626.4,200.5 627.4,199.6 628.4,202.6 629.4,198.0 630.4,198.5 631.4,199.8 632.4,200.1 633.4,197.6 634.4,201.6 635.4,199.6 636.4,201.0 637.4,198.9 638.4,199.1 639.4,200.4 640.4,199.2 641.4,198.7 642.4,200.3 643.4,200.9 644.4,199.0 645.4,199.8 646.4,197.5 647.4,199.2 648.4,196.8 649.4,198.5 650.4,195.8 651.4,197.6 652.4,198.6 653.4,196.8 654.4,193.6 655.4,198.5 656.4,194.8 657.4,192.0 658.4,198.7 659.4,194.4 660.4,196.6 661.4,195.9 662.4,198.7 663.4,198.2 664.4,192.6 665.4,196.3 666.4,193.8 667.4,195.5 668.4,195.4 669.4,195.5 670.4,193.8 671.4,197.0 672.4,197.4 673.4,197.4 674.4,199.3 675.4,195.9 676.4,194.8 677.4,196.6 678.4,192.2 679.4,196.1 680.4,194.6 681.4,194.8 682.4,194.6 683.4,194.8 684.4,197.4 685.4,194.1 686.4,195.4 687.4,197.2 688.4,196.7 689.4,199.5 690.4,197.5 691.4,200.7 692.4,198.9 693.4,195.7 694.4,197.3 695.4,200.2 696.4,195.4 697.4,196.0 698.4,194.6 699.4,197.5 700.4,199.3 701.4,199.6 702.4,197.4 703.4,195.4 704.4,198.1 705.4,197.4 706.4,199.0 707.4,198.0 708.4,199.6 709.4,196.7 710.4,197.7 711.4,197.4 712.4,196.8 713.4,198.3 714.4,194.7 715.4,195.0 716.4,193.3 717.4,197.5 718.4,198.7 719.4,198.1 720.4,200.0 721.4,197.5 722.4,195.8 723.4,197.8 724.4,197.5 725.4,197.5 726.4,199.0 727.4,195.7 728.4,195.8 729.4,197.0 730.4,199.0 731.4,195.7 732.4,199.2 733.4,199.2 734.4,196.2 735.4,195.8 736.4,196.6 737.4,194.2 738.4,199.3 739.4,197.0 740.4,198.5 741.4,195.5 742.4,196.9 743.4,196.2 744.4,199.1 745.4,194.6 746.4,198.3 747.4,196.3 748.4,196.2 749.4,193.3 750.4,195.8 751.4,195.3 752.4,196.9 753.4,195.1 754.4,194.8 755.4,197.3 756.4,196.1 757.4,194.9 758.4,195.9 759.4,196.3 760.4,195.1 761.4,195.2 762.4,197.8 763.4,195.1 764.4,191.5 765.4,196.4 766.4,197.1 767.4,196.5 768.4,196.3 769.4,191.3 770.4,193.1 771.4,194.6 772.4,194.6 773.4,194.2 774.4,192.1 775.4,193.0 776.4,193.4 777.4,195.4 778.4,197.3 779.4,191.1 780.4,193.7 781.4,192.0 782.4,195.0 783.4,193.7"/><polyline fill="none" stroke="#5464f8" stroke-width="1.5" stroke-linejoin="round" points="43.4,117.7 43.9,115.4 44.4,116.2 44.9,109.2 45.4,124.9 45.9,122.9 46.4,117.9 46.9,122.3 47.4,120.8 47.9,118.1 48.4,124.0 48.9,119.6 49.4,119.8 49.9,118.4 50.4,123.1 50.9,121.3 51.4,123.7 51.9,119.7 52.4,122.5 52.9,119.0 53.4,125.3 53.9,123.1 54.4,123.8 54.9,124.3 55.4,119.6 55.9,126.4 56.4,131.5 56.9,119.1 57.4,119.5 57.9,121.0 58.4,130.0 58.9,128.0 59.4,131.8 59.9,130.8 60.4,129.1 60.9,129.5 61.4,127.9 61.9,131.7 62.4,124.7 62.9,127.2 63.4,129.6 63.9,135.1 64.4,126.2 64.9,125.2 65.4,127.2 65.9,132.9 66.4,129.3 66.9,135.3 67.4,124.8 67.9,136.0 68.4,136.3 68.9,128.2 69.4,134.1 69.9,137.9 70.4,134.0 70.9,137.2 71.4,141.9 71.9,134.6 72.4,132.7 72.9,131.0 73.4,135.9 73.9,133.0 74.4,133.1 74.9,133.3 75.4,136.0 75.9,130.1 76.4,128.6 76.9,125.6 77.4,138.2 77.9,134.4 78.4,139.5 78.9,134.4 79.4,131.9 79.9,136.1 80.4,134.2 80.9,130.2 81.4,131.5 81.9,140.5 82.4,135.7 82.9,135.9 83.4,133.6 83.9,132.2 84.4,137.5 84.9,134.1 85.4,131.9 85.9,134.0 86.4,131.3 86.9,134.9 87.4,138.0 87.9,131.2 88.4,138.7 88.9,131.5 89.4,134.0 89.9,130.5 90.4,132.4 90.9,132.9 91.4,130.8 91.9,129.4 92.4,128.9 92.9,127.8 93.4,124.7 93.9,128.5 94.4,130.2 94.9,131.4 95.4,130.2 95.9,135.8 96.4,128.4 96.9,125.6 97.4,133.0 97.9,123.1 98.4,129.5 98.9,122.8 99.4,126.7 99.9,118.6 100.4,127.5 100.9,123.3 101.4,119.8 101.9,127.5 102.4,123.4 102.9,119.9 103.4,116.1 103.9,117.1 104.4,115.4 104.9,117.0 105.4,115.9 105.9,109.5 106.4,108.3 106.9,106.6 107.4,102.3 107.9,103.3 108.4,103.6 108.9,104.7 109.4,105.5 109.9,97.9 110.4,102.2 110.9,98.8 111.4,106.8 111.9,99.9 112.4,101.6 112.9,97.0 113.4,97.6 113.9,101.8 114.4,101.4 114.9,105.6 115.4,101.5 115.9,110.7 116.4,107.7 116.9,117.9 117.4,113.0 117.9,118.9 118.4,112.3 118.9,119.6 119.4,116.8 119.9,119.6 120.4,122.7 120.9,123.2 121.4,126.7 121.9,129.9 122.4,131.3 122.9,130.6 123.4,128.1 123.9,131.3 124.4,134.5 124.9,129.6 125.4,139.7 125.9,137.5 126.4,138.3 126.9,142.9 127.4,142.8 127.9,142.1 128.4,139.0 128.9,143.7 129.4,144.4 129.9,141.1 130.4,147.7 130.9,146.4 131.4,139.1 131.9,146.0 132.4,142.1 132.9,149.9 133.4,149.3 133.9,143.7 134.4,144.8 134.9,148.2 135.4,147.6 135.9,153.6 136.4,151.6 136.9,149.0 137.4,152.2 137.9,144.7 138.4,152.4 138.9,154.5 139.4,151.8 139.9,150.5 140.4,154.8 140.9,159.4 141.4,154.4 141.9,150.6 142.4,158.8 142.9,148.9 143.4,156.4 143.9,153.4 144.4,158.2 144.9,153.1 145.4,159.9 145.9,157.0 146.4,151.1 146.9,150.5 147.4,155.8 147.9,160.8 148.4,157.5 148.9,157.5 149.4,156.7 149.9,159.8 150.4,158.9 150.9,158.7 151.4,155.1 151.9,161.7 152.4,162.4 152.9,154.6 153.4,165.5 153.9,160.9 154.4,157.4 154.9,153.3 155.4,161.1 155.9,160.9 156.4,157.6 156.9,154.2 157.4,162.9 157.9,157.9 158.4,158.4 158.9,168.3 159.4,166.2 159.9,162.8 160.4,158.7 160.9,162.0 161.4,153.4 161.9,160.5 162.4,158.0 162.9,156.5 163.4,155.7 163.9,161.9 164.4,160.7 164.9,160.9 165.4,162.8 165.9,157.7 166.4,156.4 166.9,154.5 167.4,158.3 167.9,161.1 168.4,158.0 168.9,159.8 169.4,154.1 169.9,155.7 170.4,154.4 170.9,152.6 171.4,161.1 171.9,157.7 172.4,152.6 172.9,152.0 173.4,153.6 173.9,149.0 174.4,153.9 174.9,148.4 175.4,150.5 175.9,148.1 176.4,149.2 176.9,146.3 177.4,145.1 177.9,146.3 178.4,146.5 178.9,147.0 179.4,147.3 179.9,150.7 180.4,147.8 180.9,143.5 181.4,145.0 181.9,139.4 182.4,143.9 182.9,139.7 183.4,132.7 183.9,137.0 184.4,135.7 184.9,124.2 185.4,128.1 185.9,127.3 186.4,121.6 186.9,122.4 187.4,121.0 187.9,123.1 188.4,120.4 188.9,125.0 189.4,115.2 189.9,118.8 190.4,115.9 190.9,116.5 191.4,112.7 191.9,110.9 192.4,114.5 192.9,119.6 193.4,122.9 193.9,121.5 194.4,122.6 194.9,120.4 195.4,128.6 195.9,130.0 196.4,127.1 196.9,130.8 197.4,130.6 197.9,139.6 198.4,138.8 198.9,139.5 199.4,143.0 199.9,145.1 200.4,144.8 200.9,144.4 201.4,146.2 201.9,146.9 202.4,154.8 202.9,161.5 203.4,152.7 203.9,159.3 204.4,161.6 204.9,159.1 205.4,163.5 205.9,161.1 206.4,168.4 206.9,164.6 207.4,167.5 207.9,169.9 208.4,167.8 208.9,164.8 209.4,168.6 209.9,172.3 210.4,170.2 210.9,171.1 211.4,167.8 211.9,171.1 212.4,172.7 212.9,171.0 213.4,175.9 213.9,170.4 214.4,168.3 214.9,166.8 215.4,174.0 215.9,170.8 216.4,173.6 216.9,172.2 217.4,175.2 217.9,174.3 218.4,170.0 218.9,171.7 219.4,173.8 219.9,167.8 220.4,174.7 220.9,174.1 221.4,173.5 221.9,170.5 222.4,171.8 222.9,168.2 223.4,171.1 223.9,169.5 224.4,171.2 224.9,169.8 225.4,171.7 225.9,174.0 226.4,167.9 226.9,173.6 227.4,166.6 227.9,166.3 228.4,171.6 228.9,172.1 229.4,173.4 229.9,168.4 230.4,172.5 230.9,173.1 231.4,176.1 231.9,172.9 232.4,174.7 232.9,171.2 233.4,173.3 233.9,172.9 234.4,175.9 234.9,172.0 235.4,172.6 235.9,176.2 236.4,179.4 236.9,176.2 237.4,176.3 237.9,175.0 238.4,178.7 238.9,177.6 239.4,180.7 239.9,177.6 240.4,174.9 240.9,176.1 241.4,175.4 241.9,175.2 242.4,181.4 242.9,180.7 243.4,176.3 243.9,183.8 244.4,180.6 244.9,178.2 245.4,181.7 245.9,181.0 246.4,179.8 246.9,177.5 247.4,182.4 247.9,183.3 248.4,177.1 248.9,184.6 249.4,185.0 249.9,182.8 250.4,184.3 250.9,183.7 251.4,182.6 251.9,183.9 252.4,188.0 252.9,181.9 253.4,185.9 253.9,185.9 254.4,184.1 254.9,184.9 255.4,182.9 255.9,184.3 256.4,186.4 256.9,187.3 257.4,184.7 257.9,193.7 258.4,185.7 258.9,187.4 259.4,186.7 259.9,186.5 260.4,190.4 260.9,186.6 261.4,190.7 261.9,190.4 262.4,185.7 262.9,190.4 263.4,186.8 263.9,194.4 264.4,187.6 264.9,186.5 265.4,184.4 265.9,185.9 266.4,187.6 266.9,186.7 267.4,186.3 267.9,187.6 268.4,188.8 268.9,192.5 269.4,185.7 269.9,188.3 270.4,187.5 270.9,186.4 271.4,187.0 271.9,187.9 272.4,191.5 272.9,189.6 273.4,188.9 273.9,191.5 274.4,190.9 274.9,189.8 275.4,191.2 275.9,188.7 276.4,191.9 276.9,191.6 277.4,189.8 277.9,188.1 278.4,194.1 278.9,191.1 279.4,197.5 279.9,189.6 280.4,192.9 280.9,190.2 281.4,191.7 281.9,193.0 282.4,189.5 282.9,191.1 283.4,191.7 283.9,191.6 284.4,192.7 284.9,193.6 285.4,193.3 285.9,192.1 286.4,190.9 286.9,189.2 287.4,190.1 287.9,190.6 288.4,193.2 288.9,191.0 289.4,189.2 289.9,193.2 290.4,190.2 290.9,190.3 291.4,191.5 291.9,193.0 292.4,187.0 292.9,189.7 293.4,192.5 293.9,191.4 294.4,190.4 294.9,191.1 295.4,195.1 295.9,191.3 296.4,193.7 296.9,193.9 297.4,191.4 297.9,193.2 298.4,191.4 298.9,191.1 299.4,190.1 299.9,194.2 300.4,191.6 300.9,191.3 301.4,190.1 301.9,196.2 302.4,194.0 302.9,192.2 303.4,191.1 303.9,189.4 304.4,193.1 304.9,193.1 305.4,189.7 305.9,194.9 306.4,194.2 306.9,190.7 307.4,191.5 307.9,191.8 308.4,193.0 308.9,192.4 309.4,189.4 309.9,195.7 310.4,193.3 310.9,195.3 311.4,195.3 311.9,192.3 312.4,193.4 312.9,194.2 313.4,194.3 313.9,192.5 314.4,191.6 314.9,192.9 315.4,191.2 315.9,191.7 316.4,188.8 316.9,193.0 317.4,190.8 317.9,191.8 318.4,192.8 318.9,193.5 319.4,196.6 319.9,193.3 320.4,190.1 320.9,193.2 321.4,191.8 321.9,193.7 322.4,191.6 322.9,191.6 323.4,192.0 323.9,191.7 324.4,189.4 324.9,191.7 325.4,193.0 325.9,195.3 326.4,192.4 326.9,192.3 327.4,194.1 327.9,194.0 328.4,196.1 328.9,194.1 329.4,193.0 329.9,195.6 330.4,195.9 330.9,192.1 331.4,193.3 331.9,189.8 332.4,192.3 332.9,191.3 333.4,192.6 333.9,192.1 334.4,192.7 334.9,192.8 335.4,193.9 335.9,193.4 336.4,191.9 336.9,190.6 337.4,195.3 337.9,195.7 338.4,192.1 338.9,194.1 339.4,190.1 339.9,190.1 340.4,192.5 340.9,195.7 341.4,191.0 341.9,191.3 342.4,195.9 342.9,189.3 343.4,193.9 343.9,193.6 344.4,192.2 344.9,192.8 345.4,197.3 345.9,190.2 346.4,191.6 346.9,191.6 347.4,190.7 347.9,189.4 348.4,194.7 348.9,192.0 349.4,188.3 349.9,190.1 350.4,192.1 350.9,191.9 351.4,188.4 351.9,190.8 352.4,191.3 352.9,191.4 353.4,191.3 353.9,187.1 354.4,193.7 354.9,190.5 355.4,193.3 355.9,195.0 356.4,189.4 356.9,187.2 357.4,190.9 357.9,188.8 358.4,188.1 358.9,186.8 359.4,191.4 359.9,187.4 360.4,185.4 360.9,186.7 361.4,185.0 361.9,186.9 362.4,185.4 362.9,183.7 363.4,186.1 363.9,183.3 364.4,185.2 364.9,185.6 365.4,182.1 365.9,180.9 366.4,181.8 366.9,182.3 367.4,180.0 367.9,179.5 368.4,178.4 368.9,178.2 369.4,177.9 369.9,174.7 370.4,174.3 370.9,174.3 371.4,172.1 371.9,172.6 372.4,172.3 372.9,170.3 373.4,168.2 373.9,166.9 374.4,170.2 374.9,167.6 375.4,163.0 375.9,162.2 376.4,165.4 376.9,163.2 377.4,159.3 377.9,159.7 378.4,153.9 378.9,155.4 379.4,156.0 379.9,151.2 380.4,153.1 380.9,156.2 381.4,157.3 381.9,155.0 382.4,157.3 382.9,160.3 383.4,157.7 383.9,157.2 384.4,160.6 384.9,161.4 385.4,165.6 385.9,165.1 386.4,164.8 386.9,171.3 387.4,167.5 387.9,170.2 388.4,171.6 388.9,172.8 389.4,172.8 389.9,174.4 390.4,174.2 390.9,172.7 391.4,175.5 391.9,176.2 392.4,176.7 392.9,177.8 393.4,177.0 393.9,180.7 394.4,181.5 394.9,175.7 395.4,179.7 395.9,178.9 396.4,176.0 396.9,181.3 397.4,179.9 397.9,180.6 398.4,180.3 398.9,183.4 399.4,183.8 399.9,182.5 400.4,183.3 400.9,182.2 401.4,182.8 401.9,181.5 402.4,183.0 402.9,181.9 403.4,183.9 403.9,184.8 404.4,184.2 404.9,185.9 405.4,188.5 405.9,181.1 406.4,184.8 406.9,184.2 407.4,184.7 407.9,183.6 408.4,186.3 408.9,186.1 409.4,185.9 409.9,186.9 410.4,186.7 410.9,184.3 411.4,190.1 411.9,188.3 412.4,187.6 412.9,189.9 413.4,188.7 413.9,186.6 414.4,191.7 414.9,187.9 415.4,190.4 415.9,191.2 416.4,193.3 416.9,193.3 417.4,191.9 417.9,190.7 418.4,191.5 418.9,194.0 419.4,195.3 419.9,193.6 420.4,191.9 420.9,194.7 421.4,192.7 421.9,192.8 422.4,193.1 422.9,194.6 423.4,194.2 423.9,195.4 424.4,195.9 424.9,194.7 425.4,190.3 425.9,191.3 426.4,194.1 426.9,193.8 427.4,197.2 427.9,193.7 428.4,193.5 428.9,195.2 429.4,195.3 429.9,193.3 430.4,194.3 430.9,191.8 431.4,192.0 431.9,195.3 432.4,191.2 432.9,194.7 433.4,194.3 433.9,194.4 434.4,194.6 434.9,194.0 435.4,189.7 435.9,191.4 436.4,192.0 436.9,194.3 437.4,191.1 437.9,191.8 438.4,192.3 438.9,194.9 439.4,190.6 439.9,190.7 440.4,193.8 440.9,189.5 441.4,193.3 441.9,192.1 442.4,190.4 442.9,192.2 443.4,191.3 443.9,193.1 444.4,193.4 444.9,195.1 445.4,192.8 445.9,193.0 446.4,191.9 446.9,192.8 447.4,194.4 447.9,189.8 448.4,193.8 448.9,192.0 449.4,192.9 449.9,193.3 450.4,194.1 450.9,193.2 451.4,192.2 451.9,193.3 452.4,192.8 452.9,192.5 453.4,193.1 453.9,194.1 454.4,193.0 454.9,193.0 455.4,190.8 455.9,192.6 456.4,189.9 456.9,193.9 457.4,191.4 457.9,194.8 458.4,197.4 458.9,192.2 459.4,194.8 459.9,193.4 460.4,191.9 460.9,191.5 461.4,193.6 461.9,194.8 462.4,193.1 462.9,190.2 463.4,190.8 463.9,191.9 464.4,194.3 464.9,192.5 465.4,192.4 465.9,193.6 466.4,191.3 466.9,191.3 467.4,190.9 467.9,188.3 468.4,191.6 468.9,191.3 469.4,191.9 469.9,188.4 470.4,188.8 470.9,191.3 471.4,190.1 471.9,191.5 472.4,187.9 472.9,189.3 473.4,187.8 473.9,189.0 474.4,187.5 474.9,188.7 475.4,189.2 475.9,188.2 476.4,184.1 476.9,187.9 477.4,186.8 477.9,184.2 478.4,184.2 478.9,185.4 479.4,186.1 479.9,184.5 480.4,182.7 480.9,185.7 481.4,185.7 481.9,189.3 482.4,183.8 482.9,189.8 483.4,188.9 483.9,186.9 484.4,189.3 484.9,187.2 485.4,188.8 485.9,186.5 486.4,188.0 486.9,186.6 487.4,186.0 487.9,188.2 488.4,187.7 488.9,189.7 489.4,190.9 489.9,188.7 490.4,189.1 490.9,189.3 491.4,186.4 491.9,189.3 492.4,188.9 492.9,188.8 493.4,187.1 493.9,185.7 494.4,188.3 494.9,189.1 495.4,190.6 495.9,190.2 496.4,190.6 496.9,188.9 497.4,190.0 497.9,187.8 498.4,189.0 498.9,189.4 499.4,192.0 499.9,188.2 500.4,185.8 500.9,189.8 501.4,186.3 501.9,187.4 502.4,186.9 502.9,185.8 503.4,189.1 503.9,187.9 504.4,185.9 504.9,186.9 505.4,186.0 505.9,187.4 506.4,185.8 506.9,185.1 507.4,185.2 507.9,185.4 508.4,186.4 508.9,184.5 509.4,185.7 509.9,186.4 510.4,189.2 510.9,186.9 511.4,181.0 511.9,184.7 512.4,184.8 512.9,185.8 513.4,187.6 513.9,186.3 514.4,181.6 514.9,185.5 515.4,185.1 515.9,185.6 516.4,186.9 516.9,183.2 517.4,186.5 517.9,182.3 518.4,184.8 518.9,185.3 519.4,188.2 519.9,183.6 520.4,182.1 520.9,185.8 521.4,183.7 521.9,187.1 522.4,183.7 522.9,183.5 523.4,186.7 523.9,185.0 524.4,186.4 524.9,182.8 525.4,187.5 525.9,184.2 526.4,186.4 526.9,183.7 527.4,182.9 527.9,185.0 528.4,185.7 528.9,187.9 529.4,186.1 529.9,186.8 530.4,186.8 530.9,190.7 531.4,185.0 531.9,188.5 532.4,186.7 532.9,187.7 533.4,186.9 533.9,190.0 534.4,186.8 534.9,187.1 535.4,189.2 535.9,188.2 536.4,191.4 536.9,192.1 537.4,189.9 537.9,192.6 538.4,190.7 538.9,192.0 539.4,192.5 539.9,195.6 540.4,193.1 540.9,192.1 541.4,192.4 541.9,196.0 542.4,192.0 542.9,194.1 543.4,194.5 543.9,191.7 544.4,194.9 544.9,197.4 545.4,196.4 545.9,194.9 546.4,197.4 546.9,197.3 547.4,199.6 547.9,195.5 548.4,196.2 548.9,196.9 549.4,196.7 549.9,197.1 550.4,196.9 550.9,196.1 551.4,194.8 551.9,196.4 552.4,195.2 552.9,195.8 553.4,196.6 553.9,198.2 554.4,198.8 554.9,196.0 555.4,198.1 555.9,198.8 556.4,197.6 556.9,195.2 557.4,194.5 557.9,198.9 558.4,199.1 558.9,198.2 559.4,196.2 559.9,200.0 560.4,199.6 560.9,197.7 561.4,197.4 561.9,194.8 562.4,198.8 562.9,195.3 563.4,198.7 563.9,198.7 564.4,197.7 564.9,199.9 565.4,197.0 565.9,198.4 566.4,198.6 566.9,197.8 567.4,196.7 567.9,199.2 568.4,197.9 568.9,196.9 569.4,196.9 569.9,197.3 570.4,200.5 570.9,197.2 571.4,196.6 571.9,195.3 572.4,195.0 572.9,194.0 573.4,197.1 573.9,196.8 574.4,195.2 574.9,194.4 575.4,196.1 575.9,195.8 576.4,194.6 576.9,197.0 577.4,196.7 577.9,196.4 578.4,197.6 578.9,195.5 579.4,198.5 579.9,194.9 580.4,197.2 580.9,197.4 581.4,196.1 581.9,197.0 582.4,194.6 582.9,194.3 583.4,196.3 583.9,195.5 584.4,197.5 584.9,196.7 585.4,197.6 585.9,197.2 586.4,197.1 586.9,197.0 587.4,196.4 587.9,196.3 588.4,200.1 588.9,194.4 589.4,196.9 589.9,198.7 590.4,197.9 590.9,199.4 591.4,198.2 591.9,195.6 592.4,197.0 592.9,195.5 593.4,199.1 593.9,199.9 594.4,197.1 594.9,198.7 595.4,197.3 595.9,195.8 596.4,197.4 596.9,195.7 597.4,197.3 597.9,198.5 598.4,199.4 598.9,200.3 599.4,197.9 599.9,198.8 600.4,199.1 600.9,199.4 601.4,194.3 601.9,197.5 602.4,199.9 602.9,197.1 603.4,199.1 603.9,200.1 604.4,196.1 604.9,198.7 605.4,199.3 605.9,199.1 606.4,196.8 606.9,199.7 607.4,198.4 607.9,200.5 608.4,199.9 608.9,198.5 609.4,199.7 609.9,198.4 610.4,198.4 610.9,197.2 611.4,199.2 611.9,200.8 612.4,199.8 612.9,199.6 613.4,198.7 613.9,198.9 614.4,200.8 614.9,197.4 615.4,202.8 615.9,199.6 616.4,202.9 616.9,201.4 617.4,199.1 617.9,200.8 618.4,200.1 618.9,200.4 619.4,200.9 619.9,198.9 620.4,198.8 620.9,199.1 621.4,197.7 621.9,199.3 622.4,200.1 622.9,200.1 623.4,200.0 623.9,199.2 624.4,200.9 624.9,196.7 625.4,199.2 625.9,199.3 626.4,201.1 626.9,200.7 627.4,200.9 627.9,199.8 628.4,201.2 628.9,198.3 629.4,199.9 629.9,196.6 630.4,202.3 630.9,202.1 631.4,198.9 631.9,198.5 632.4,196.6 632.9,197.5 633.4,199.9 633.9,199.5 634.4,197.6 634.9,199.0 635.4,198.8 635.9,200.5 636.4,200.8 636.9,199.5 637.4,199.9 637.9,199.8 638.4,196.7 638.9,200.0 639.4,199.7 639.9,200.9 640.4,197.1 640.9,200.9 641.4,198.8 641.9,200.1 642.4,201.4 642.9,197.4 643.4,197.5 643.9,200.8 644.4,197.6 644.9,197.7 645.4,199.9 645.9,198.6 646.4,199.9 646.9,199.0 647.4,198.4 647.9,199.7 648.4,201.4 648.9,197.8 649.4,200.0 649.9,199.3 650.4,197.6 650.9,198.0 651.4,195.8 651.9,196.1 652.4,197.2 652.9,196.6 653.4,198.4 653.9,194.5 654.4,195.8 654.9,195.2 655.4,195.8 655.9,197.6 656.4,194.0 656.9,196.9 657.4,194.7 657.9,195.1 658.4,197.0 658.9,195.0 659.4,196.4 659.9,195.6 660.4,195.2 660.9,194.9 661.4,192.9 661.9,194.3 662.4,195.7 662.9,195.7 663.4,193.3 663.9,197.0 664.4,196.3 664.9,193.6 665.4,194.0 665.9,196.3 666.4,193.0 666.9,194.5 667.4,195.6 667.9,195.5 668.4,195.6 668.9,196.3 669.4,194.6 669.9,195.1 670.4,198.9 670.9,193.8 671.4,195.2 671.9,196.1 672.4,195.0 672.9,197.8 673.4,196.2 673.9,197.2 674.4,192.3 674.9,197.9 675.4,197.9 675.9,195.2 676.4,198.2 676.9,196.8 677.4,197.8 677.9,199.1 678.4,196.7 678.9,195.1 679.4,196.6 679.9,194.8 680.4,195.5 680.9,195.6 681.4,195.7 681.9,198.5 682.4,198.1 682.9,195.6 683.4,198.6 683.9,194.5 684.4,196.1 684.9,196.9 685.4,198.9 685.9,198.3 686.4,197.9 686.9,199.2 687.4,198.4 687.9,199.4 688.4,196.2 688.9,195.0 689.4,196.9 689.9,198.7 690.4,197.9 690.9,198.9 691.4,198.7 691.9,198.4 692.4,198.9 692.9,196.7 693.4,199.3 693.9,196.3 694.4,197.6 694.9,195.7 695.4,198.6 695.9,195.6 696.4,199.9 696.9,195.9 697.4,198.3 697.9,197.7 698.4,196.6 698.9,199.7 699.4,197.3 699.9,200.1 700.4,196.4 700.9,196.7 701.4,195.0 701.9,198.7 702.4,199.2 702.9,198.2 703.4,197.7 703.9,196.5 704.4,201.3 704.9,199.0 705.4,195.2 705.9,197.4 706.4,194.0 706.9,200.2 707.4,200.7 707.9,200.0 708.4,197.7 708.9,197.0 709.4,195.8 709.9,198.6 710.4,196.7 710.9,197.2 711.4,196.8 711.9,197.3 712.4,199.0 712.9,200.2 713.4,197.9 713.9,197.7 714.4,196.1 714.9,195.9 715.4,196.1 715.9,198.9 716.4,198.0 716.9,199.0 717.4,198.2 717.9,197.0 718.4,195.7 718.9,197.0 719.4,195.4 719.9,200.4 720.4,197.9 720.9,196.9 721.4,200.4 721.9,196.9 722.4,198.2 722.9,197.2 723.4,197.9 723.9,196.8 724.4,198.1 724.9,199.4 725.4,195.4 725.9,194.0 726.4,199.2 726.9,197.5 727.4,198.5 727.9,196.8 728.4,199.4 728.9,199.8 729.4,195.4 729.9,198.1 730.4,196.2 730.9,194.7 731.4,196.6 731.9,197.8 732.4,195.0 732.9,195.1 733.4,198.7 733.9,196.9 734.4,197.5 734.9,195.2 735.4,195.9 735.9,197.0 736.4,197.0 736.9,196.9 737.4,199.0 737.9,196.9 738.4,194.4 738.9,195.3 739.4,196.5 739.9,198.4 740.4,195.5 740.9,195.9 741.4,196.4 741.9,195.4 742.4,195.2 742.9,196.1 743.4,197.8 743.9,197.1 744.4,195.9 744.9,196.9 745.4,194.4 745.9,197.7 746.4,197.3 746.9,196.6 747.4,193.8 747.9,199.1 748.4,191.8 748.9,194.6 749.4,194.7 749.9,197.0 750.4,193.8 750.9,196.3 751.4,195.7 751.9,195.4 752.4,197.1 752.9,197.9 753.4,196.4 753.9,195.3 754.4,192.4 754.9,197.8 755.4,195.2 755.9,192.9 756.4,195.8 756.9,197.7 757.4,195.3 757.9,193.8 758.4,198.7 758.9,196.3 759.4,195.9 759.9,196.8 760.4,192.1 760.9,195.2 761.4,195.0 761.9,198.5 762.4,194.3 762.9,194.3 763.4,193.1 763.9,193.9 764.4,194.7 764.9,195.4 765.4,194.6 765.9,197.8 766.4,195.6 766.9,195.8 767.4,196.8 767.9,195.7 768.4,193.9 768.9,192.4 769.4,195.1 769.9,193.4 770.4,196.5 770.9,193.4 771.4,191.2 771.9,194.5 772.4,195.9 772.9,194.0 773.4,194.5 773.9,194.5 774.4,196.7 774.9,194.6 775.4,194.0 775.9,193.2 776.4,191.6 776.9,196.0 777.4,195.6 777.9,192.5 778.4,194.7 778.9,194.3 779.4,193.2 779.9,193.2 780.4,194.7 780.9,191.8 781.4,192.8 781.9,193.4 782.4,193.4 782.9,193.1 783.4,193.7"/>
<polyline fill="none" stroke="#0a0ac6" stroke-width="3.0" stroke-linejoin="round" points="43.4,62.9 44.4,59.5 45.4,70.8 46.4,72.2 47.4,68.8 48.4,72.1 49.4,78.0 50.4,76.1 51.4,75.4 52.4,75.9 53.4,70.5 54.4,78.2 55.4,68.6 56.4,74.4 57.4,74.6 58.4,70.2 59.4,77.1 60.4,84.6 61.4,77.6 62.4,75.0 63.4,80.1 64.4,84.2 65.4,81.7 66.4,80.8 67.4,75.1 68.4,82.3 69.4,82.1 70.4,85.5 71.4,86.2 72.4,83.5 73.4,74.8 74.4,76.0 75.4,77.6 76.4,83.4 77.4,79.5 78.4,88.0 79.4,84.1 80.4,84.8 81.4,86.4 82.4,85.0 83.4,78.2 84.4,93.4 85.4,89.5 86.4,89.5 87.4,80.3 88.4,75.6 89.4,76.4 90.4,77.6 91.4,84.3 92.4,83.3 93.4,84.3 94.4,86.2 95.4,79.4 96.4,78.5 97.4,75.3 98.4,75.2 99.4,71.6 100.4,78.8 101.4,78.6 102.4,76.1 103.4,74.1 104.4,78.0 105.4,80.0 106.4,72.2 107.4,70.9 108.4,64.3 109.4,63.7 110.4,63.1 111.4,64.3 112.4,64.5 113.4,72.3 114.4,78.7 115.4,69.8 116.4,81.7 117.4,74.6 118.4,75.5 119.4,68.6 120.4,69.0 121.4,85.2 122.4,81.0 123.4,91.0 124.4,89.8 125.4,92.0 126.4,97.1 127.4,92.3 128.4,80.5 129.4,86.9 130.4,98.0 131.4,102.8 132.4,95.6 133.4,94.0 134.4,92.0 135.4,99.7 136.4,90.8 137.4,93.0 138.4,98.4 139.4,98.3 140.4,97.1 141.4,102.3 142.4,93.7 143.4,94.1 144.4,97.1 145.4,98.9 146.4,97.4 147.4,106.1 148.4,96.3 149.4,100.9 150.4,96.3 151.4,100.0 152.4,97.6 153.4,98.5 154.4,106.6 155.4,100.0 156.4,108.7 157.4,100.8 158.4,102.9 159.4,109.5 160.4,96.3 161.4,99.2 162.4,105.2 163.4,106.7 164.4,106.9 165.4,103.6 166.4,99.8 167.4,108.4 168.4,107.3 169.4,101.8 170.4,106.3 171.4,112.1 172.4,105.1 173.4,99.3 174.4,101.0 175.4,100.3 176.4,101.9 177.4,102.8 178.4,95.0 179.4,94.9 180.4,99.8 181.4,97.7 182.4,98.8 183.4,87.5 184.4,87.9 185.4,93.4 186.4,84.3 187.4,86.6 188.4,83.5 189.4,79.4 190.4,87.1 191.4,83.0 192.4,83.0 193.4,85.7 194.4,88.4 195.4,83.1 196.4,87.0 197.4,87.7 198.4,88.4 199.4,103.4 200.4,108.2 201.4,110.0 202.4,102.0 203.4,111.7 204.4,114.5 205.4,111.9 206.4,118.3 207.4,113.0 208.4,114.4 209.4,116.4 210.4,117.8 211.4,117.8 212.4,125.3 213.4,119.3 214.4,122.1 215.4,122.3 216.4,132.2 217.4,122.2 218.4,126.9 219.4,131.4 220.4,121.7 221.4,123.0 222.4,124.8 223.4,121.7 224.4,130.0 225.4,124.6 226.4,129.6 227.4,128.1 228.4,126.7 229.4,130.1 230.4,126.7 231.4,131.5 232.4,124.6 233.4,126.8 234.4,133.2 235.4,123.4 236.4,131.6 237.4,129.3 238.4,129.2 239.4,129.1 240.4,135.4 241.4,127.3 242.4,134.7 243.4,133.9 244.4,131.5 245.4,132.8 246.4,135.4 247.4,131.9 248.4,129.5 249.4,135.0 250.4,132.0 251.4,133.5 252.4,135.2 253.4,137.4 254.4,140.8 255.4,136.8 256.4,136.5 257.4,138.8 258.4,137.5 259.4,132.2 260.4,135.6 261.4,134.1 262.4,140.0 263.4,142.0 264.4,139.8 265.4,136.3 266.4,141.9 267.4,137.3 268.4,141.1 269.4,137.4 270.4,137.2 271.4,137.4 272.4,141.6 273.4,140.0 274.4,143.2 275.4,138.4 276.4,143.5 277.4,140.5 278.4,145.7 279.4,145.1 280.4,141.8 281.4,142.7 282.4,143.2 283.4,143.8 284.4,141.9 285.4,145.6 286.4,141.3 287.4,137.5 288.4,143.4 289.4,142.5 290.4,145.1 291.4,144.5 292.4,143.2 293.4,143.2 294.4,143.3 295.4,141.2 296.4,139.7 297.4,140.8 298.4,142.8 299.4,137.0 300.4,141.9 301.4,140.4 302.4,142.8 303.4,140.9 304.4,143.2 305.4,142.4 306.4,146.4 307.4,142.1 308.4,142.3 309.4,143.0 310.4,138.2 311.4,140.2 312.4,146.6 313.4,144.2 314.4,143.1 315.4,145.7 316.4,142.4 317.4,142.2 318.4,142.1 319.4,138.4 320.4,145.2 321.4,142.4 322.4,142.6 323.4,142.0 324.4,141.2 325.4,137.2 326.4,143.2 327.4,148.2 328.4,145.3 329.4,142.1 330.4,140.5 331.4,142.9 332.4,143.7 333.4,142.5 334.4,144.8 335.4,140.5 336.4,145.4 337.4,143.2 338.4,141.5 339.4,142.1 340.4,143.6 341.4,144.5 342.4,142.6 343.4,143.5 344.4,147.5 345.4,137.4 346.4,136.1 347.4,140.7 348.4,137.7 349.4,140.0 350.4,135.6 351.4,139.5 352.4,142.0 353.4,141.3 354.4,135.9 355.4,137.6 356.4,140.2 357.4,142.1 358.4,135.3 359.4,135.2 360.4,139.4 361.4,135.3 362.4,132.9 363.4,136.8 364.4,129.6 365.4,131.1 366.4,134.3 367.4,130.0 368.4,132.6 369.4,127.4 370.4,131.1 371.4,129.4 372.4,130.8 373.4,125.5 374.4,124.3 375.4,124.3 376.4,126.4 377.4,121.9 378.4,122.9 379.4,127.4 380.4,124.8 381.4,125.2 382.4,123.3 383.4,127.4 384.4,124.1 385.4,124.3 386.4,126.5 387.4,132.8 388.4,131.1 389.4,129.6 390.4,131.6 391.4,133.9 392.4,136.0 393.4,130.3 394.4,137.2 395.4,136.8 396.4,133.8 397.4,135.0 398.4,137.4 399.4,136.2 400.4,137.4 401.4,135.2 402.4,133.9 403.4,143.1 404.4,138.6 405.4,138.9 406.4,139.7 407.4,141.7 408.4,141.0 409.4,137.2 410.4,139.4 411.4,140.0 412.4,141.7 413.4,139.3 414.4,141.6 415.4,141.6 416.4,144.2 417.4,136.3 418.4,142.0 419.4,142.6 420.4,143.4 421.4,142.1 422.4,140.5 423.4,143.5 424.4,143.0 425.4,140.6 426.4,139.6 427.4,143.5 428.4,140.6 429.4,143.7 430.4,145.5 431.4,142.9 432.4,143.0 433.4,142.8 434.4,145.3 435.4,145.4 436.4,142.7 437.4,144.1 438.4,142.7 439.4,141.6 440.4,144.1 441.4,142.4 442.4,140.9 443.4,139.6 444.4,144.6 445.4,140.7 446.4,140.4 447.4,142.1 448.4,144.1 449.4,139.1 450.4,143.9 451.4,143.4 452.4,140.2 453.4,140.3 454.4,142.2 455.4,146.5 456.4,142.1 457.4,144.8 458.4,144.5 459.4,139.4 460.4,142.6 461.4,144.5 462.4,141.4 463.4,144.7 464.4,139.9 465.4,138.9 466.4,140.7 467.4,142.6 468.4,140.3 469.4,142.7 470.4,137.5 471.4,139.2 472.4,143.0 473.4,135.2 474.4,140.6 475.4,138.2 476.4,138.5 477.4,139.4 478.4,137.2 479.4,142.1 480.4,141.6 481.4,143.0 482.4,141.0 483.4,138.9 484.4,142.2 485.4,138.3 486.4,139.3 487.4,145.4 488.4,143.4 489.4,142.2 490.4,144.3 491.4,140.7 492.4,142.5 493.4,139.7 494.4,140.6 495.4,141.5 496.4,144.3 497.4,139.9 498.4,143.4 499.4,141.3 500.4,137.8 501.4,137.5 502.4,139.9 503.4,143.5 504.4,141.8 505.4,145.0 506.4,141.7 507.4,144.2 508.4,141.8 509.4,139.5 510.4,142.8 511.4,139.8 512.4,138.5 513.4,139.8 514.4,140.5 515.4,141.8 516.4,143.0 517.4,142.5 518.4,145.5 519.4,137.4 520.4,141.0 521.4,146.6 522.4,140.9 523.4,139.3 524.4,140.5 525.4,140.4 526.4,141.7 527.4,146.5 528.4,140.5 529.4,142.3 530.4,146.8 531.4,144.9 532.4,145.3 533.4,144.3 534.4,147.3 535.4,143.7 536.4,148.1 537.4,146.7 538.4,146.5 539.4,146.1 540.4,149.5 541.4,148.7 542.4,147.6 543.4,149.0 544.4,147.0 545.4,152.0 546.4,152.4 547.4,152.2 548.4,150.6 549.4,151.2 550.4,147.4 551.4,149.4 552.4,149.7 553.4,149.9 554.4,151.4 555.4,149.3 556.4,148.7 557.4,152.6 558.4,149.5 559.4,148.9 560.4,146.1 561.4,147.4 562.4,149.7 563.4,150.7 564.4,146.6 565.4,150.1 566.4,150.8 567.4,149.1 568.4,150.3 569.4,152.9 570.4,148.6 571.4,146.7 572.4,149.3 573.4,148.3 574.4,149.9 575.4,151.3 576.4,151.6 577.4,150.4 578.4,152.5 579.4,150.3 580.4,151.5 581.4,150.1 582.4,149.9 583.4,148.2 584.4,149.2 585.4,147.9 586.4,148.4 587.4,149.1 588.4,151.2 589.4,148.4 590.4,150.2 591.4,146.6 592.4,148.6 593.4,151.9 594.4,150.3 595.4,146.2 596.4,150.0 597.4,149.9 598.4,148.2 599.4,147.3 600.4,149.0 601.4,148.9 602.4,152.5 603.4,152.4 604.4,152.6 605.4,153.6 606.4,147.2 607.4,151.1 608.4,152.4 609.4,150.5 610.4,150.6 611.4,150.3 612.4,152.3 613.4,151.9 614.4,154.5 615.4,152.8 616.4,152.4 617.4,152.0 618.4,150.5 619.4,152.2 620.4,153.6 621.4,152.9 622.4,149.9 623.4,149.0 624.4,153.3 625.4,152.3 626.4,152.5 627.4,150.2 628.4,153.3 629.4,153.3 630.4,151.3 631.4,153.0 632.4,150.0 633.4,151.6 634.4,147.8 635.4,151.2 636.4,156.6 637.4,153.1 638.4,155.1 639.4,152.8 640.4,152.1 641.4,152.1 642.4,150.9 643.4,153.1 644.4,150.2 645.4,151.7 646.4,158.1 647.4,152.6 648.4,150.7 649.4,153.7 650.4,152.5 651.4,151.1 652.4,149.4 653.4,151.3 654.4,150.8 655.4,151.8 656.4,152.4 657.4,152.3 658.4,149.8 659.4,152.7 660.4,152.5 661.4,148.9 662.4,152.4 663.4,151.6 664.4,152.6 665.4,149.7 666.4,151.2 667.4,151.4 668.4,149.5 669.4,152.9 670.4,151.4 671.4,152.8 672.4,150.0 673.4,149.3 674.4,149.8 675.4,147.8 676.4,150.6 677.4,153.0 678.4,155.1 679.4,154.6 680.4,154.9 681.4,154.9 682.4,156.6 683.4,152.8 684.4,154.3 685.4,153.8 686.4,147.4 687.4,152.9 688.4,152.7 689.4,153.4 690.4,151.6 691.4,151.1 692.4,151.6 693.4,154.1 694.4,153.6 695.4,155.6 696.4,150.2 697.4,154.9 698.4,156.5 699.4,150.9 700.4,152.8 701.4,149.5 702.4,147.1 703.4,149.9 704.4,152.7 705.4,153.0 706.4,151.8 707.4,153.9 708.4,153.3 709.4,156.4 710.4,149.7 711.4,150.8 712.4,151.4 713.4,151.3 714.4,151.6 715.4,157.4 716.4,151.9 717.4,153.9 718.4,149.7 719.4,151.2 720.4,154.3 721.4,154.6 722.4,149.3 723.4,156.9 724.4,153.5 725.4,151.0 726.4,153.5 727.4,151.3 728.4,149.6 729.4,153.0 730.4,154.3 731.4,154.8 732.4,149.2 733.4,150.6 734.4,152.2 735.4,154.7 736.4,155.3 737.4,151.8 738.4,150.1 739.4,153.8 740.4,151.6 741.4,153.5 742.4,154.8 743.4,153.9 744.4,150.5 745.4,150.1 746.4,149.5 747.4,154.1 748.4,154.9 749.4,150.5 750.4,151.5 751.4,150.6 752.4,152.3 753.4,150.8 754.4,150.8 755.4,155.1 756.4,154.3 757.4,152.5 758.4,154.7 759.4,151.1 760.4,153.3 761.4,150.3 762.4,150.7 763.4,154.1 764.4,149.6 765.4,151.2 766.4,149.6 767.4,149.3 768.4,151.9 769.4,151.9 770.4,148.6 771.4,156.0 772.4,154.7 773.4,149.6 774.4,152.2 775.4,151.6 776.4,150.0 777.4,148.5 778.4,151.1 779.4,150.7 780.4,153.4 781.4,151.2 782.4,148.8 783.4,149.4"/><polyline fill="none" stroke="#0a0ac6" stroke-width="1.5" stroke-linejoin="round" points="43.4,67.2 43.9,69.6 44.4,68.6 44.9,63.6 45.4,71.5 45.9,70.4 46.4,67.5 46.9,71.6 47.4,71.2 47.9,71.3 48.4,70.7 48.9,72.8 49.4,68.8 49.9,71.1 50.4,70.3 50.9,74.3 51.4,72.8 51.9,71.9 52.4,70.6 52.9,72.7 53.4,73.9 53.9,73.2 54.4,78.8 54.9,78.1 55.4,65.9 55.9,69.0 56.4,75.1 56.9,74.6 57.4,77.0 57.9,77.3 58.4,84.1 58.9,73.5 59.4,76.3 59.9,84.7 60.4,80.4 60.9,80.8 61.4,77.2 61.9,73.8 62.4,80.3 62.9,80.5 63.4,76.3 63.9,78.4 64.4,80.7 64.9,77.8 65.4,80.7 65.9,81.3 66.4,81.0 66.9,79.0 67.4,82.6 67.9,83.5 68.4,81.5 68.9,77.5 69.4,82.7 69.9,78.5 70.4,83.2 70.9,76.7 71.4,83.5 71.9,80.5 72.4,76.5 72.9,79.9 73.4,81.4 73.9,82.3 74.4,78.3 74.9,78.0 75.4,82.6 75.9,80.5 76.4,83.1 76.9,85.0 77.4,77.0 77.9,83.6 78.4,87.1 78.9,82.1 79.4,80.4 79.9,85.8 80.4,84.2 80.9,86.5 81.4,82.3 81.9,78.6 82.4,83.3 82.9,82.2 83.4,86.4 83.9,84.4 84.4,78.3 84.9,79.8 85.4,86.8 85.9,86.0 86.4,81.4 86.9,83.4 87.4,84.8 87.9,84.6 88.4,85.8 88.9,83.4 89.4,82.0 89.9,81.2 90.4,85.3 90.9,73.7 91.4,80.4 91.9,80.4 92.4,74.9 92.9,80.3 93.4,76.4 93.9,81.1 94.4,77.4 94.9,79.8 95.4,81.5 95.9,78.5 96.4,74.0 96.9,71.6 97.4,83.0 97.9,76.3 98.4,74.2 98.9,77.1 99.4,75.8 99.9,79.6 100.4,76.7 100.9,76.9 101.4,74.5 101.9,79.3 102.4,73.9 102.9,80.6 103.4,83.7 103.9,71.0 104.4,66.2 104.9,77.3 105.4,84.1 105.9,68.8 106.4,66.7 106.9,73.1 107.4,66.1 107.9,66.2 108.4,65.5 108.9,68.1 109.4,63.2 109.9,65.7 110.4,63.9 110.9,61.4 111.4,64.3 111.9,62.4 112.4,67.4 112.9,64.2 113.4,66.0 113.9,77.7 114.4,72.5 114.9,73.3 115.4,76.2 115.9,73.1 116.4,74.5 116.9,77.5 117.4,77.5 117.9,72.3 118.4,80.2 118.9,75.2 119.4,73.9 119.9,75.1 120.4,77.8 120.9,86.4 121.4,77.9 121.9,84.4 122.4,77.9 122.9,86.8 123.4,90.9 123.9,87.9 124.4,87.4 124.9,91.1 125.4,93.3 125.9,93.7 126.4,98.6 126.9,93.0 127.4,90.6 127.9,92.4 128.4,92.9 128.9,93.7 129.4,93.5 129.9,94.5 130.4,88.7 130.9,97.4 131.4,93.2 131.9,91.6 132.4,98.1 132.9,100.8 133.4,98.4 133.9,97.6 134.4,94.2 134.9,107.0 135.4,100.5 135.9,93.8 136.4,95.1 136.9,98.0 137.4,92.6 137.9,98.4 138.4,96.3 138.9,101.9 139.4,101.1 139.9,89.0 140.4,98.2 140.9,92.8 141.4,101.9 141.9,98.9 142.4,100.2 142.9,95.0 143.4,104.6 143.9,105.3 144.4,95.2 144.9,99.9 145.4,96.5 145.9,98.6 146.4,94.5 146.9,104.7 147.4,95.4 147.9,97.6 148.4,100.2 148.9,96.4 149.4,97.7 149.9,96.7 150.4,98.1 150.9,94.8 151.4,97.4 151.9,98.4 152.4,98.2 152.9,99.8 153.4,99.0 153.9,102.7 154.4,99.6 154.9,100.5 155.4,99.2 155.9,100.1 156.4,98.3 156.9,104.6 157.4,99.9 157.9,101.7 158.4,105.8 158.9,106.4 159.4,104.1 159.9,99.0 160.4,106.8 160.9,106.3 161.4,100.9 161.9,107.7 162.4,102.9 162.9,101.5 163.4,105.3 163.9,104.3 164.4,105.5 164.9,99.7 165.4,110.6 165.9,103.0 166.4,100.2 166.9,107.1 167.4,104.2 167.9,106.6 168.4,104.6 168.9,105.7 169.4,106.7 169.9,103.6 170.4,108.1 170.9,104.3 171.4,102.8 171.9,105.4 172.4,106.1 172.9,103.5 173.4,100.9 173.9,105.0 174.4,97.1 174.9,98.9 175.4,101.7 175.9,96.9 176.4,100.7 176.9,99.9 177.4,102.3 177.9,96.2 178.4,96.5 178.9,98.9 179.4,89.7 179.9,106.3 180.4,94.0 180.9,93.3 181.4,97.7 181.9,94.4 182.4,88.4 182.9,95.3 183.4,95.4 183.9,90.7 184.4,90.5 184.9,92.1 185.4,87.0 185.9,90.1 186.4,88.3 186.9,84.5 187.4,81.2 187.9,83.9 188.4,81.0 188.9,85.9 189.4,82.5 189.9,84.1 190.4,82.2 190.9,83.1 191.4,80.7 191.9,86.0 192.4,90.3 192.9,84.7 193.4,84.5 193.9,86.4 194.4,86.0 194.9,85.9 195.4,89.1 195.9,88.5 196.4,94.4 196.9,91.0 197.4,93.2 197.9,96.7 198.4,94.9 198.9,102.2 199.4,98.0 199.9,99.3 200.4,102.1 200.9,104.2 201.4,101.7 201.9,107.0 202.4,103.3 202.9,113.4 203.4,110.1 203.9,109.4 204.4,109.5 204.9,112.0 205.4,113.3 205.9,111.7 206.4,112.8 206.9,115.6 207.4,115.3 207.9,120.2 208.4,121.4 208.9,118.7 209.4,120.6 209.9,115.9 210.4,122.1 210.9,120.6 211.4,122.6 211.9,126.2 212.4,115.5 212.9,123.2 213.4,119.7 213.9,125.0 214.4,120.0 214.9,122.7 215.4,125.0 215.9,126.4 216.4,125.1 216.9,122.8 217.4,123.6 217.9,127.8 218.4,125.4 218.9,120.7 219.4,127.9 219.9,126.7 220.4,128.1 220.9,124.7 221.4,128.0 221.9,122.8 222.4,127.4 222.9,124.5 223.4,127.8 223.9,128.8 224.4,124.0 224.9,125.9 225.4,126.2 225.9,129.4 226.4,128.2 226.9,123.0 227.4,127.6 227.9,128.5 228.4,132.4 228.9,122.2 229.4,125.6 229.9,130.9 230.4,124.0 230.9,124.7 231.4,129.6 231.9,131.2 232.4,126.9 232.9,130.3 233.4,129.4 233.9,133.3 234.4,129.5 234.9,132.3 235.4,127.4 235.9,129.5 236.4,129.9 236.9,133.4 237.4,132.1 237.9,128.7 238.4,132.7 238.9,133.1 239.4,130.9 239.9,130.7 240.4,131.0 240.9,127.3 241.4,132.3 241.9,132.6 242.4,129.9 242.9,134.2 243.4,128.9 243.9,131.2 244.4,131.5 244.9,138.0 245.4,129.0 245.9,134.6 246.4,135.7 246.9,134.4 247.4,136.6 247.9,131.2 248.4,128.1 248.9,136.0 249.4,131.2 249.9,133.5 250.4,131.5 250.9,137.2 251.4,136.9 251.9,133.1 252.4,137.3 252.9,135.5 253.4,134.9 253.9,135.6 254.4,135.1 254.9,137.2 255.4,136.6 255.9,135.1 256.4,138.6 256.9,134.8 257.4,137.1 257.9,137.6 258.4,140.4 258.9,135.6 259.4,141.3 259.9,137.6 260.4,136.8 260.9,135.8 261.4,139.1 261.9,138.0 262.4,135.3 262.9,135.4 263.4,137.0 263.9,136.9 264.4,141.5 264.9,142.4 265.4,141.3 265.9,140.3 266.4,138.6 266.9,139.9 267.4,142.1 267.9,145.4 268.4,142.6 268.9,139.9 269.4,140.8 269.9,139.7 270.4,139.2 270.9,140.8 271.4,141.8 271.9,145.9 272.4,141.7 272.9,145.0 273.4,146.1 273.9,142.1 274.4,145.8 274.9,143.7 275.4,141.0 275.9,142.7 276.4,142.2 276.9,141.6 277.4,141.7 277.9,142.6 278.4,143.3 278.9,140.2 279.4,142.3 279.9,138.7 280.4,143.0 280.9,143.9 281.4,142.8 281.9,143.1 282.4,143.9 282.9,140.9 283.4,142.0 283.9,143.8 284.4,145.0 284.9,143.6 285.4,148.6 285.9,142.5 286.4,145.0 286.9,145.7 287.4,142.4 287.9,140.8 288.4,140.0 288.9,143.2 289.4,145.4 289.9,143.5 290.4,143.2 290.9,142.0 291.4,144.2 291.9,137.9 292.4,143.4 292.9,143.0 293.4,139.8 293.9,148.0 294.4,139.7 294.9,140.5 295.4,140.2 295.9,145.5 296.4,140.9 296.9,144.5 297.4,144.3 297.9,143.6 298.4,140.0 298.9,141.6 299.4,146.8 299.9,140.0 300.4,141.1 300.9,142.6 301.4,144.8 301.9,143.6 302.4,144.7 302.9,140.6 303.4,145.1 303.9,144.3 304.4,139.4 304.9,146.5 305.4,148.2 305.9,141.2 306.4,143.1 306.9,146.1 307.4,139.6 307.9,138.5 308.4,140.0 308.9,141.7 309.4,141.7 309.9,144.3 310.4,143.5 310.9,140.2 311.4,144.2 311.9,147.1 312.4,145.6 312.9,145.1 313.4,143.0 313.9,145.1 314.4,140.8 314.9,144.6 315.4,142.7 315.9,145.4 316.4,143.9 316.9,140.5 317.4,143.2 317.9,145.6 318.4,140.4 318.9,141.6 319.4,141.2 319.9,139.6 320.4,145.0 320.9,145.7 321.4,144.6 321.9,143.4 322.4,142.7 322.9,143.4 323.4,141.2 323.9,144.8 324.4,145.1 324.9,144.8 325.4,141.7 325.9,143.0 326.4,142.4 326.9,146.7 327.4,143.2 327.9,138.7 328.4,143.7 328.9,146.9 329.4,144.3 329.9,144.7 330.4,142.9 330.9,138.6 331.4,138.9 331.9,140.1 332.4,142.5 332.9,143.5 333.4,144.3 333.9,142.1 334.4,144.8 334.9,142.2 335.4,141.3 335.9,144.6 336.4,140.9 336.9,137.0 337.4,140.6 337.9,143.0 338.4,136.3 338.9,142.0 339.4,142.1 339.9,139.8 340.4,139.7 340.9,141.8 341.4,141.5 341.9,145.2 342.4,143.2 342.9,139.0 343.4,140.3 343.9,143.4 344.4,145.7 344.9,142.4 345.4,142.0 345.9,145.0 346.4,140.8 346.9,140.0 347.4,137.5 347.9,139.2 348.4,144.6 348.9,136.9 349.4,139.7 349.9,136.6 350.4,139.7 350.9,141.1 351.4,138.6 351.9,140.5 352.4,140.4 352.9,139.7 353.4,142.2 353.9,140.2 354.4,137.9 354.9,137.0 355.4,136.6 355.9,139.2 356.4,137.4 356.9,143.5 357.4,141.6 357.9,137.3 358.4,136.9 358.9,140.8 359.4,133.4 359.9,136.1 360.4,138.7 360.9,134.7 361.4,135.2 361.9,135.0 362.4,136.6 362.9,135.1 363.4,135.2 363.9,135.1 364.4,133.5 364.9,135.3 365.4,131.3 365.9,129.5 366.4,128.5 366.9,128.5 367.4,130.4 367.9,133.2 368.4,131.2 368.9,129.3 369.4,128.0 369.9,128.7 370.4,128.6 370.9,127.7 371.4,125.5 371.9,126.8 372.4,129.1 372.9,122.3 373.4,125.5 373.9,121.4 374.4,125.4 374.9,123.3 375.4,120.4 375.9,124.4 376.4,127.5 376.9,124.0 377.4,125.8 377.9,123.2 378.4,119.1 378.9,124.1 379.4,122.2 379.9,120.2 380.4,124.6 380.9,123.8 381.4,122.5 381.9,125.6 382.4,122.8 382.9,126.2 383.4,123.7 383.9,127.1 384.4,124.5 384.9,129.9 385.4,128.1 385.9,130.8 386.4,127.0 386.9,128.2 387.4,131.3 387.9,125.0 388.4,128.7 388.9,133.2 389.4,132.5 389.9,133.9 390.4,131.8 390.9,133.7 391.4,131.6 391.9,130.6 392.4,130.2 392.9,132.6 393.4,132.8 393.9,132.9 394.4,127.7 394.9,130.8 395.4,133.8 395.9,135.6 396.4,134.2 396.9,134.0 397.4,131.6 397.9,139.8 398.4,134.3 398.9,139.7 399.4,139.6 399.9,137.5 400.4,136.1 400.9,137.5 401.4,135.3 401.9,138.1 402.4,137.7 402.9,138.8 403.4,139.7 403.9,141.3 404.4,137.5 404.9,140.2 405.4,137.0 405.9,136.9 406.4,137.6 406.9,137.0 407.4,140.7 407.9,140.7 408.4,141.4 408.9,139.2 409.4,139.8 409.9,138.4 410.4,137.5 410.9,140.5 411.4,140.4 411.9,138.1 412.4,141.2 412.9,137.2 413.4,140.2 413.9,139.5 414.4,139.9 414.9,139.0 415.4,142.8 415.9,142.2 416.4,143.5 416.9,141.7 417.4,139.3 417.9,141.1 418.4,139.7 418.9,142.7 419.4,144.0 419.9,142.5 420.4,141.0 420.9,141.4 421.4,142.4 421.9,139.6 422.4,142.4 422.9,142.5 423.4,141.2 423.9,141.4 424.4,142.5 424.9,140.8 425.4,140.8 425.9,143.6 426.4,142.7 426.9,145.2 427.4,140.6 427.9,139.2 428.4,144.0 428.9,144.0 429.4,141.1 429.9,139.8 430.4,142.3 430.9,139.4 431.4,141.8 431.9,138.6 432.4,142.0 432.9,138.8 433.4,142.1 433.9,145.1 434.4,142.0 434.9,143.8 435.4,141.4 435.9,141.0 436.4,139.9 436.9,144.3 437.4,142.4 437.9,145.4 438.4,140.5 438.9,142.1 439.4,142.7 439.9,145.0 440.4,145.7 440.9,141.4 441.4,140.5 441.9,139.5 442.4,144.8 442.9,142.4 443.4,141.4 443.9,142.4 444.4,138.1 444.9,139.5 445.4,144.1 445.9,143.2 446.4,142.8 446.9,140.8 447.4,143.5 447.9,145.6 448.4,140.4 448.9,142.5 449.4,141.7 449.9,143.1 450.4,142.5 450.9,142.3 451.4,141.0 451.9,142.5 452.4,141.4 452.9,142.3 453.4,142.4 453.9,143.6 454.4,141.5 454.9,141.9 455.4,144.4 455.9,142.1 456.4,142.0 456.9,144.0 457.4,143.0 457.9,142.7 458.4,142.9 458.9,140.3 459.4,143.3 459.9,144.8 460.4,143.5 460.9,139.8 461.4,142.9 461.9,140.8 462.4,141.9 462.9,142.5 463.4,140.1 463.9,144.4 464.4,141.9 464.9,143.3 465.4,142.9 465.9,144.0 466.4,143.6 466.9,138.8 467.4,141.3 467.9,137.4 468.4,140.2 468.9,142.1 469.4,142.3 469.9,142.9 470.4,139.9 470.9,141.0 471.4,140.5 471.9,142.4 472.4,142.9 472.9,139.5 473.4,146.6 473.9,140.0 474.4,139.3 474.9,141.0 475.4,141.3 475.9,140.9 476.4,138.9 476.9,142.6 477.4,140.1 477.9,142.8 478.4,142.5 478.9,138.0 479.4,138.5 479.9,138.5 480.4,140.8 480.9,140.5 481.4,140.9 481.9,139.1 482.4,141.3 482.9,143.1 483.4,138.4 483.9,140.5 484.4,141.3 484.9,140.7 485.4,140.6 485.9,144.1 486.4,143.3 486.9,142.6 487.4,139.8 487.9,145.1 488.4,141.9 488.9,140.3 489.4,140.7 489.9,140.4 490.4,145.0 490.9,141.6 491.4,141.4 491.9,137.5 492.4,142.6 492.9,139.4 493.4,139.3 493.9,142.3 494.4,139.8 494.9,142.7 495.4,143.2 495.9,138.2 496.4,141.0 496.9,138.5 497.4,141.2 497.9,142.9 498.4,138.9 498.9,144.4 499.4,140.7 499.9,139.2 500.4,141.1 500.9,142.6 501.4,138.9 501.9,141.3 502.4,138.9 502.9,143.4 503.4,141.5 503.9,140.5 504.4,143.1 504.9,139.0 505.4,140.6 505.9,144.5 506.4,141.1 506.9,143.6 507.4,141.6 507.9,140.1 508.4,140.8 508.9,141.4 509.4,140.6 509.9,139.8 510.4,139.9 510.9,138.7 511.4,141.5 511.9,141.9 512.4,142.6 512.9,138.1 513.4,142.7 513.9,141.2 514.4,138.8 514.9,141.4 515.4,142.7 515.9,142.2 516.4,142.5 516.9,142.9 517.4,142.8 517.9,141.2 518.4,137.7 518.9,139.9 519.4,141.9 519.9,140.4 520.4,142.5 520.9,142.7 521.4,141.4 521.9,144.7 522.4,139.8 522.9,143.2 523.4,140.9 523.9,140.5 524.4,143.0 524.9,141.0 525.4,143.8 525.9,140.4 526.4,142.7 526.9,141.3 527.4,142.5 527.9,142.4 528.4,141.3 528.9,144.6 529.4,141.4 529.9,142.0 530.4,145.4 530.9,145.7 531.4,145.4 531.9,145.0 532.4,148.5 532.9,142.7 533.4,143.7 533.9,143.4 534.4,146.9 534.9,146.0 535.4,147.6 535.9,147.6 536.4,145.7 536.9,144.8 537.4,144.7 537.9,150.4 538.4,148.4 538.9,148.0 539.4,146.5 539.9,147.0 540.4,146.9 540.9,147.2 541.4,143.8 541.9,148.0 542.4,147.6 542.9,149.0 543.4,149.0 543.9,150.3 544.4,149.0 544.9,150.6 545.4,144.9 545.9,147.6 546.4,152.6 546.9,147.6 547.4,149.3 547.9,151.1 548.4,148.4 548.9,151.3 549.4,147.6 549.9,146.8 550.4,147.8 550.9,147.2 551.4,150.0 551.9,149.5 552.4,150.6 552.9,148.3 553.4,154.5 553.9,149.9 554.4,150.0 554.9,150.9 555.4,149.7 555.9,149.0 556.4,150.2 556.9,151.7 557.4,151.2 557.9,151.7 558.4,149.1 558.9,148.7 559.4,153.5 559.9,149.7 560.4,150.9 560.9,151.4 561.4,152.5 561.9,147.7 562.4,149.3 562.9,149.3 563.4,149.6 563.9,145.9 564.4,149.9 564.9,145.1 565.4,150.6 565.9,151.0 566.4,151.1 566.9,148.0 567.4,151.7 567.9,148.6 568.4,148.0 568.9,148.4 569.4,148.6 569.9,150.4 570.4,151.5 570.9,146.5 571.4,149.1 571.9,151.6 572.4,150.4 572.9,150.9 573.4,147.4 573.9,151.6 574.4,147.2 574.9,150.2 575.4,152.2 575.9,153.1 576.4,150.7 576.9,151.3 577.4,148.7 577.9,148.9 578.4,151.7 578.9,149.6 579.4,149.3 579.9,147.1 580.4,149.7 580.9,150.5 581.4,148.0 581.9,148.5 582.4,152.0 582.9,149.6 583.4,148.7 583.9,147.2 584.4,148.1 584.9,148.7 585.4,151.4 585.9,148.0 586.4,152.1 586.9,147.4 587.4,148.3 587.9,150.4 588.4,148.5 588.9,147.5 589.4,148.7 589.9,149.7 590.4,146.0 590.9,148.5 591.4,148.8 591.9,148.4 592.4,150.4 592.9,148.2 593.4,148.7 593.9,149.5 594.4,150.8 594.9,149.3 595.4,152.4 595.9,148.4 596.4,152.3 596.9,148.7 597.4,150.0 597.9,151.1 598.4,154.1 598.9,152.2 599.4,150.0 599.9,153.0 600.4,150.5 600.9,149.5 601.4,151.7 601.9,151.2 602.4,152.7 602.9,150.2 603.4,151.8 603.9,152.3 604.4,151.8 604.9,151.3 605.4,150.2 605.9,153.0 606.4,151.7 606.9,152.4 607.4,151.0 607.9,151.7 608.4,149.9 608.9,151.9 609.4,153.1 609.9,152.0 610.4,153.3 610.9,152.4 611.4,154.2 611.9,151.6 612.4,149.1 612.9,152.7 613.4,151.7 613.9,150.3 614.4,153.1 614.9,152.5 615.4,152.8 615.9,151.4 616.4,152.3 616.9,152.4 617.4,155.0 617.9,150.8 618.4,152.0 618.9,152.6 619.4,149.0 619.9,149.2 620.4,155.7 620.9,148.9 621.4,152.9 621.9,150.5 622.4,150.6 622.9,148.5 623.4,150.4 623.9,153.3 624.4,149.5 624.9,152.9 625.4,152.4 625.9,155.3 626.4,151.1 626.9,154.0 627.4,153.4 627.9,151.4 628.4,149.0 628.9,154.4 629.4,149.5 629.9,151.0 630.4,153.3 630.9,153.7 631.4,150.3 631.9,151.7 632.4,151.3 632.9,153.8 633.4,156.0 633.9,148.6 634.4,153.3 634.9,146.8 635.4,151.7 635.9,149.8 636.4,155.1 636.9,151.9 637.4,150.4 637.9,150.8 638.4,150.6 638.9,151.9 639.4,151.3 639.9,152.7 640.4,154.2 640.9,152.8 641.4,149.5 641.9,148.8 642.4,150.3 642.9,153.4 643.4,151.0 643.9,150.4 644.4,151.8 644.9,149.1 645.4,149.6 645.9,152.4 646.4,151.0 646.9,150.7 647.4,152.1 647.9,150.5 648.4,150.3 648.9,150.7 649.4,152.5 649.9,151.6 650.4,149.5 650.9,151.0 651.4,152.6 651.9,154.7 652.4,149.6 652.9,152.1 653.4,151.1 653.9,152.9 654.4,152.3 654.9,154.0 655.4,152.4 655.9,150.6 656.4,150.6 656.9,152.3 657.4,152.2 657.9,155.7 658.4,154.4 658.9,149.6 659.4,152.2 659.9,149.3 660.4,148.8 660.9,152.9 661.4,152.6 661.9,149.9 662.4,154.5 662.9,150.0 663.4,149.7 663.9,152.8 664.4,152.1 664.9,151.5 665.4,151.6 665.9,152.1 666.4,151.5 666.9,151.5 667.4,148.6 667.9,149.5 668.4,152.9 668.9,150.6 669.4,152.8 669.9,154.0 670.4,151.3 670.9,152.4 671.4,155.5 671.9,153.1 672.4,155.1 672.9,154.6 673.4,153.3 673.9,151.8 674.4,150.6 674.9,150.1 675.4,152.9 675.9,152.9 676.4,151.8 676.9,153.6 677.4,151.1 677.9,154.0 678.4,152.2 678.9,152.1 679.4,152.2 679.9,152.0 680.4,156.5 680.9,149.5 681.4,152.6 681.9,154.4 682.4,153.5 682.9,151.8 683.4,155.3 683.9,150.5 684.4,150.1 684.9,153.3 685.4,149.9 685.9,148.3 686.4,153.9 686.9,153.7 687.4,153.7 687.9,151.6 688.4,152.8 688.9,150.8 689.4,155.4 689.9,153.8 690.4,153.8 690.9,149.2 691.4,153.9 691.9,155.1 692.4,154.6 692.9,153.9 693.4,152.5 693.9,152.0 694.4,153.6 694.9,153.2 695.4,153.0 695.9,152.1 696.4,155.4 696.9,150.6 697.4,152.6 697.9,151.6 698.4,154.4 698.9,155.0 699.4,154.7 699.9,153.9 700.4,150.2 700.9,156.1 701.4,153.5 701.9,152.4 702.4,152.6 702.9,152.0 703.4,153.3 703.9,153.1 704.4,152.0 704.9,148.2 705.4,152.5 705.9,153.4 706.4,153.5 706.9,152.3 707.4,153.4 707.9,154.4 708.4,151.8 708.9,155.1 709.4,149.3 709.9,150.5 710.4,151.1 710.9,148.4 711.4,150.9 711.9,154.7 712.4,154.7 712.9,152.8 713.4,155.5 713.9,153.0 714.4,151.8 714.9,153.0 715.4,152.4 715.9,153.9 716.4,150.0 716.9,154.3 717.4,151.8 717.9,154.1 718.4,150.0 718.9,151.9 719.4,152.7 719.9,154.1 720.4,150.5 720.9,155.4 721.4,153.4 721.9,151.7 722.4,154.7 722.9,152.8 723.4,154.6 723.9,156.5 724.4,153.9 724.9,151.7 725.4,151.9 725.9,153.6 726.4,153.1 726.9,151.2 727.4,151.5 727.9,153.7 728.4,156.6 728.9,148.1 729.4,153.8 729.9,152.2 730.4,153.9 730.9,154.1 731.4,152.7 731.9,150.9 732.4,150.2 732.9,149.4 733.4,154.7 733.9,152.2 734.4,151.7 734.9,152.1 735.4,150.3 735.9,153.1 736.4,154.8 736.9,154.5 737.4,149.9 737.9,154.9 738.4,151.3 738.9,149.4 739.4,150.5 739.9,151.0 740.4,152.6 740.9,150.8 741.4,150.0 741.9,152.2 742.4,155.9 742.9,151.4 743.4,153.4 743.9,152.7 744.4,157.1 744.9,149.4 745.4,154.5 745.9,150.4 746.4,151.6 746.9,152.4 747.4,158.0 747.9,151.3 748.4,149.4 748.9,154.8 749.4,151.2 749.9,152.2 750.4,152.6 750.9,152.8 751.4,152.3 751.9,153.0 752.4,153.2 752.9,154.0 753.4,151.9 753.9,151.3 754.4,150.8 754.9,153.6 755.4,152.5 755.9,153.5 756.4,153.4 756.9,155.4 757.4,152.8 757.9,153.7 758.4,150.4 758.9,150.6 759.4,151.9 759.9,150.3 760.4,153.5 760.9,150.1 761.4,152.5 761.9,148.2 762.4,150.4 762.9,151.7 763.4,151.8 763.9,149.2 764.4,152.4 764.9,153.8 765.4,153.2 765.9,151.0 766.4,151.1 766.9,150.1 767.4,153.1 767.9,154.5 768.4,151.1 768.9,149.1 769.4,152.3 769.9,153.1 770.4,147.3 770.9,152.1 771.4,155.5 771.9,153.2 772.4,152.7 772.9,152.4 773.4,153.5 773.9,150.0 774.4,150.2 774.9,152.3 775.4,150.4 775.9,151.9 776.4,148.2 776.9,152.7 777.4,152.8 777.9,151.4 778.4,151.6 778.9,154.0 779.4,149.4 779.9,149.7 780.4,149.4 780.9,150.5 781.4,149.4 781.9,151.2 782.4,150.0 782.9,148.6 783.4,148.4"/>
<polyline fill="none" stroke="#f86a6e" stroke-width="2.6" stroke-linejoin="round" points="43.4,554.0 44.4,553.9 45.4,554.5 46.4,553.2 47.4,555.9 48.4,550.5 49.4,556.4 50.4,553.4 51.4,553.7 52.4,551.9 53.4,550.7 54.4,553.4 55.4,556.2 56.4,556.4 57.4,559.3 58.4,558.7 59.4,561.0 60.4,560.8 61.4,559.1 62.4,561.3 63.4,560.7 64.4,563.5 65.4,561.6 66.4,562.3 67.4,564.0 68.4,565.2 69.4,563.5 70.4,563.9 71.4,564.9 72.4,567.1 73.4,563.5 74.4,563.5 75.4,572.0 76.4,566.0 77.4,566.7 78.4,562.4 79.4,565.9 80.4,566.8 81.4,566.3 82.4,567.0 83.4,568.0 84.4,569.4 85.4,570.9 86.4,566.9 87.4,567.1 88.4,570.9 89.4,570.3 90.4,568.3 91.4,567.2 92.4,568.4 93.4,569.9 94.4,571.1 95.4,571.9 96.4,571.1 97.4,567.3 98.4,572.1 99.4,569.5 100.4,567.6 101.4,567.1 102.4,568.7 103.4,565.8 104.4,565.6 105.4,565.9 106.4,567.9 107.4,561.9 108.4,565.9 109.4,559.8 110.4,562.0 111.4,564.2 112.4,566.1 113.4,562.4 114.4,567.3 115.4,568.4 116.4,566.8 117.4,569.0 118.4,571.1 119.4,569.7 120.4,578.7 121.4,576.2 122.4,573.7 123.4,577.8 124.4,578.3 125.4,578.0 126.4,579.3 127.4,581.5 128.4,579.7 129.4,579.5 130.4,584.9 131.4,583.1 132.4,582.2 133.4,586.3 134.4,580.1 135.4,582.5 136.4,585.9 137.4,585.6 138.4,586.1 139.4,585.0 140.4,585.2 141.4,585.7 142.4,586.4 143.4,588.5 144.4,589.4 145.4,589.0 146.4,590.7 147.4,585.8 148.4,588.6 149.4,587.3 150.4,592.1 151.4,588.9 152.4,590.5 153.4,589.9 154.4,588.4 155.4,588.3 156.4,590.7 157.4,591.1 158.4,589.2 159.4,593.0 160.4,590.3 161.4,591.7 162.4,591.0 163.4,592.2 164.4,588.3 165.4,593.2 166.4,592.3 167.4,592.4 168.4,593.2 169.4,592.2 170.4,588.8 171.4,590.2 172.4,589.2 173.4,590.0 174.4,591.7 175.4,592.9 176.4,588.0 177.4,588.3 178.4,589.9 179.4,590.4 180.4,589.7 181.4,588.0 182.4,588.9 183.4,588.2 184.4,585.7 185.4,588.3 186.4,583.5 187.4,585.5 188.4,585.4 189.4,586.2 190.4,587.4 191.4,585.4 192.4,586.7 193.4,589.8 194.4,593.8 195.4,591.4 196.4,594.0 197.4,593.6 198.4,592.3 199.4,594.8 200.4,592.8 201.4,594.6 202.4,595.1 203.4,598.5 204.4,594.1 205.4,596.8 206.4,596.5 207.4,596.2 208.4,596.1 209.4,599.0 210.4,596.2 211.4,598.5 212.4,597.2 213.4,598.7 214.4,599.1 215.4,595.8 216.4,596.8 217.4,598.1 218.4,598.5 219.4,596.4 220.4,599.0 221.4,599.8 222.4,598.3 223.4,598.7 224.4,596.7 225.4,600.0 226.4,601.1 227.4,602.4 228.4,598.7 229.4,601.1 230.4,597.8 231.4,599.2 232.4,598.8 233.4,596.7 234.4,598.1 235.4,599.2 236.4,599.4 237.4,598.9 238.4,599.7 239.4,601.1 240.4,601.5 241.4,597.1 242.4,599.6 243.4,600.5 244.4,597.3 245.4,601.3 246.4,602.6 247.4,599.1 248.4,598.0 249.4,600.5 250.4,603.1 251.4,605.1 252.4,602.2 253.4,601.8 254.4,600.8 255.4,603.0 256.4,601.2 257.4,602.5 258.4,603.8 259.4,602.7 260.4,601.4 261.4,603.3 262.4,604.4 263.4,604.6 264.4,601.0 265.4,603.8 266.4,604.0 267.4,603.1 268.4,602.2 269.4,602.8 270.4,602.7 271.4,606.5 272.4,604.3 273.4,603.8 274.4,604.7 275.4,606.0 276.4,604.3 277.4,605.5 278.4,605.4 279.4,604.0 280.4,606.6 281.4,605.1 282.4,606.2 283.4,606.5 284.4,604.4 285.4,604.1 286.4,604.3 287.4,607.7 288.4,605.3 289.4,604.8 290.4,607.2 291.4,604.6 292.4,607.7 293.4,604.7 294.4,606.0 295.4,605.7 296.4,606.1 297.4,606.8 298.4,606.7 299.4,604.5 300.4,604.7 301.4,605.8 302.4,606.9 303.4,605.6 304.4,605.4 305.4,604.0 306.4,606.8 307.4,606.5 308.4,605.1 309.4,605.9 310.4,608.0 311.4,605.7 312.4,605.6 313.4,607.2 314.4,604.5 315.4,606.1 316.4,606.3 317.4,605.7 318.4,606.1 319.4,606.2 320.4,606.8 321.4,606.4 322.4,607.4 323.4,607.5 324.4,606.7 325.4,606.4 326.4,604.3 327.4,607.8 328.4,607.0 329.4,606.9 330.4,607.8 331.4,606.1 332.4,606.0 333.4,607.4 334.4,603.0 335.4,607.5 336.4,606.9 337.4,605.2 338.4,605.7 339.4,607.6 340.4,605.8 341.4,607.3 342.4,606.8 343.4,606.5 344.4,606.3 345.4,606.2 346.4,605.9 347.4,606.6 348.4,607.2 349.4,604.2 350.4,607.7 351.4,608.4 352.4,604.6 353.4,607.3 354.4,606.2 355.4,606.8 356.4,605.9 357.4,604.8 358.4,606.5 359.4,606.0 360.4,606.2 361.4,604.7 362.4,605.4 363.4,606.4 364.4,603.8 365.4,605.4 366.4,603.2 367.4,605.4 368.4,606.4 369.4,602.5 370.4,603.4 371.4,603.8 372.4,602.0 373.4,603.5 374.4,602.5 375.4,601.5 376.4,602.4 377.4,601.2 378.4,603.2 379.4,601.7 380.4,600.9 381.4,601.2 382.4,600.4 383.4,601.4 384.4,601.8 385.4,603.6 386.4,604.0 387.4,603.1 388.4,604.9 389.4,605.1 390.4,605.1 391.4,606.7 392.4,606.3 393.4,606.3 394.4,606.7 395.4,607.6 396.4,606.2 397.4,607.0 398.4,608.0 399.4,608.5 400.4,608.1 401.4,607.9 402.4,606.8 403.4,609.1 404.4,607.6 405.4,607.5 406.4,609.3 407.4,607.9 408.4,607.8 409.4,608.9 410.4,609.4 411.4,609.2 412.4,607.5 413.4,609.2 414.4,608.7 415.4,608.7 416.4,609.6 417.4,609.8 418.4,608.0 419.4,610.1 420.4,609.2 421.4,609.3 422.4,608.8 423.4,609.6 424.4,610.2 425.4,609.2 426.4,608.4 427.4,611.7 428.4,610.7 429.4,610.4 430.4,611.1 431.4,609.3 432.4,609.6 433.4,609.2 434.4,610.1 435.4,612.7 436.4,611.6 437.4,609.7 438.4,611.5 439.4,611.2 440.4,611.6 441.4,609.9 442.4,610.5 443.4,609.6 444.4,610.6 445.4,611.3 446.4,610.4 447.4,610.6 448.4,611.4 449.4,610.3 450.4,609.8 451.4,611.3 452.4,609.2 453.4,611.8 454.4,609.9 455.4,610.4 456.4,609.7 457.4,612.0 458.4,612.0 459.4,611.1 460.4,611.3 461.4,612.2 462.4,611.1 463.4,609.9 464.4,610.2 465.4,610.5 466.4,608.8 467.4,610.7 468.4,610.6 469.4,611.4 470.4,611.0 471.4,612.2 472.4,610.5 473.4,611.2 474.4,611.8 475.4,611.0 476.4,611.2 477.4,609.7 478.4,611.2 479.4,610.9 480.4,612.0 481.4,611.0 482.4,611.3 483.4,612.5 484.4,610.1 485.4,611.2 486.4,610.1 487.4,610.7 488.4,610.9 489.4,610.4 490.4,611.7 491.4,610.4 492.4,610.7 493.4,611.0 494.4,610.8 495.4,611.2 496.4,610.3 497.4,611.8 498.4,611.2 499.4,611.2 500.4,611.1 501.4,610.6 502.4,610.7 503.4,611.0 504.4,611.5 505.4,611.1 506.4,610.2 507.4,610.8 508.4,609.6 509.4,610.6 510.4,610.1 511.4,610.2 512.4,610.2 513.4,609.4 514.4,609.8 515.4,609.9 516.4,610.2 517.4,610.3 518.4,609.8 519.4,609.5 520.4,610.9 521.4,609.0 522.4,611.7 523.4,611.0 524.4,610.2 525.4,609.6 526.4,609.7 527.4,609.4 528.4,610.8 529.4,610.4 530.4,609.5 531.4,609.8 532.4,609.9 533.4,609.5 534.4,610.1 535.4,609.7 536.4,610.6 537.4,610.1 538.4,609.2 539.4,610.1 540.4,611.1 541.4,610.1 542.4,609.7 543.4,609.1 544.4,609.6 545.4,610.4 546.4,610.2 547.4,608.8 548.4,610.4 549.4,609.0 550.4,610.1 551.4,610.0 552.4,610.2 553.4,610.1 554.4,609.6 555.4,609.6 556.4,610.5 557.4,610.1 558.4,611.1 559.4,610.2 560.4,611.0 561.4,610.4 562.4,610.0 563.4,611.6 564.4,609.5 565.4,609.9 566.4,611.0 567.4,611.3 568.4,610.6 569.4,610.3 570.4,610.4 571.4,611.4 572.4,609.2 573.4,609.1 574.4,610.0 575.4,609.7 576.4,610.2 577.4,610.4 578.4,610.1 579.4,610.7 580.4,610.5 581.4,610.3 582.4,610.5 583.4,610.6 584.4,610.3 585.4,611.7 586.4,611.2 587.4,610.1 588.4,612.1 589.4,611.3 590.4,610.5 591.4,610.9 592.4,609.9 593.4,610.4 594.4,610.4 595.4,611.5 596.4,612.7 597.4,611.6 598.4,611.3 599.4,611.1 600.4,611.7 601.4,611.6 602.4,610.4 603.4,610.4 604.4,610.8 605.4,611.7 606.4,611.0 607.4,609.3 608.4,611.5 609.4,612.4 610.4,611.5 611.4,610.8 612.4,611.6 613.4,611.8 614.4,611.4 615.4,611.1 616.4,610.1 617.4,612.2 618.4,610.7 619.4,612.0 620.4,610.6 621.4,610.4 622.4,613.1 623.4,610.1 624.4,611.6 625.4,611.0 626.4,612.4 627.4,611.3 628.4,611.4 629.4,612.9 630.4,611.1 631.4,611.3 632.4,611.8 633.4,610.6 634.4,611.7 635.4,610.9 636.4,612.3 637.4,611.5 638.4,610.2 639.4,610.9 640.4,610.6 641.4,612.3 642.4,610.8 643.4,612.2 644.4,610.9 645.4,611.5 646.4,611.5 647.4,612.9 648.4,610.8 649.4,611.3 650.4,610.7 651.4,614.2 652.4,611.5 653.4,612.0 654.4,611.2 655.4,612.0 656.4,612.0 657.4,611.2 658.4,612.0 659.4,611.3 660.4,610.8 661.4,612.7 662.4,612.2 663.4,611.6 664.4,610.4 665.4,613.0 666.4,611.3 667.4,611.1 668.4,611.5 669.4,611.9 670.4,611.1 671.4,610.5 672.4,611.8 673.4,612.0 674.4,611.1 675.4,611.7 676.4,612.4 677.4,611.8 678.4,611.2 679.4,612.1 680.4,611.0 681.4,611.7 682.4,611.8 683.4,611.8 684.4,612.2 685.4,611.2 686.4,612.0 687.4,610.4 688.4,611.8 689.4,609.9 690.4,611.4 691.4,612.2 692.4,610.1 693.4,611.5 694.4,612.2 695.4,611.6 696.4,611.2 697.4,612.3 698.4,611.7 699.4,611.8 700.4,611.4 701.4,612.2 702.4,612.2 703.4,611.6 704.4,612.3 705.4,611.8 706.4,612.5 707.4,610.2 708.4,610.8 709.4,611.4 710.4,612.6 711.4,612.7 712.4,611.8 713.4,611.6 714.4,612.8 715.4,611.7 716.4,610.9 717.4,611.5 718.4,612.4 719.4,612.1 720.4,613.2 721.4,611.8 722.4,613.1 723.4,611.3 724.4,612.1 725.4,611.8 726.4,612.7 727.4,610.6 728.4,612.5 729.4,611.9 730.4,612.4 731.4,613.7 732.4,610.9 733.4,613.0 734.4,611.9 735.4,611.3 736.4,612.2 737.4,611.3 738.4,611.4 739.4,613.0 740.4,612.5 741.4,612.2 742.4,612.9 743.4,610.8 744.4,611.9 745.4,611.2 746.4,612.4 747.4,612.4 748.4,611.1 749.4,612.9 750.4,613.6 751.4,611.6 752.4,612.5 753.4,612.3 754.4,611.3 755.4,612.2 756.4,611.9 757.4,611.3 758.4,612.6 759.4,613.0 760.4,610.7 761.4,610.9 762.4,612.0 763.4,610.9 764.4,613.2 765.4,611.7 766.4,613.1 767.4,611.6 768.4,611.9 769.4,612.2 770.4,613.2 771.4,612.7 772.4,611.0 773.4,612.0 774.4,612.1 775.4,612.3 776.4,614.0 777.4,612.8 778.4,611.7 779.4,611.8 780.4,612.1 781.4,611.4 782.4,611.9 783.4,611.5"/><polyline fill="none" stroke="#f86a6e" stroke-width="1.5" stroke-linejoin="round" points="43.4,554.1 43.9,556.4 44.4,548.2 44.9,553.0 45.4,555.4 45.9,556.2 46.4,554.9 46.9,556.6 47.4,554.3 47.9,554.9 48.4,554.2 48.9,551.8 49.4,552.3 49.9,554.7 50.4,552.9 50.9,556.5 51.4,556.6 51.9,557.6 52.4,554.2 52.9,556.9 53.4,552.6 53.9,552.8 54.4,554.6 54.9,555.0 55.4,551.6 55.9,551.9 56.4,556.4 56.9,555.0 57.4,559.7 57.9,559.1 58.4,559.8 58.9,560.4 59.4,562.3 59.9,560.7 60.4,563.2 60.9,560.3 61.4,560.9 61.9,560.2 62.4,562.6 62.9,561.7 63.4,560.1 63.9,565.5 64.4,561.2 64.9,561.8 65.4,562.8 65.9,565.5 66.4,562.2 66.9,564.0 67.4,563.1 67.9,560.4 68.4,564.8 68.9,565.4 69.4,563.3 69.9,563.9 70.4,561.4 70.9,561.6 71.4,563.9 71.9,566.0 72.4,564.2 72.9,565.8 73.4,567.2 73.9,565.8 74.4,566.9 74.9,568.6 75.4,563.9 75.9,567.5 76.4,562.9 76.9,567.2 77.4,566.8 77.9,565.6 78.4,564.7 78.9,566.6 79.4,566.1 79.9,567.1 80.4,565.5 80.9,568.3 81.4,565.7 81.9,567.2 82.4,567.3 82.9,570.4 83.4,565.8 83.9,567.9 84.4,570.9 84.9,567.8 85.4,566.9 85.9,569.7 86.4,568.9 86.9,571.0 87.4,568.0 87.9,570.1 88.4,571.0 88.9,571.7 89.4,568.1 89.9,572.5 90.4,568.5 90.9,567.4 91.4,568.4 91.9,570.3 92.4,569.4 92.9,570.8 93.4,570.8 93.9,570.5 94.4,569.6 94.9,573.1 95.4,566.2 95.9,566.9 96.4,568.9 96.9,567.4 97.4,565.0 97.9,567.7 98.4,567.5 98.9,564.4 99.4,569.7 99.9,570.2 100.4,569.9 100.9,566.8 101.4,567.7 101.9,565.4 102.4,567.4 102.9,565.7 103.4,567.3 103.9,565.9 104.4,568.0 104.9,567.4 105.4,567.9 105.9,562.9 106.4,562.3 106.9,565.6 107.4,563.7 107.9,565.0 108.4,564.6 108.9,564.2 109.4,565.3 109.9,564.6 110.4,564.5 110.9,562.4 111.4,566.7 111.9,564.3 112.4,566.1 112.9,565.1 113.4,567.0 113.9,565.5 114.4,565.9 114.9,566.1 115.4,565.2 115.9,566.1 116.4,567.5 116.9,568.4 117.4,568.0 117.9,574.3 118.4,570.0 118.9,571.9 119.4,577.1 119.9,572.8 120.4,575.6 120.9,575.9 121.4,575.0 121.9,573.5 122.4,573.7 122.9,576.5 123.4,577.5 123.9,573.8 124.4,577.8 124.9,576.9 125.4,579.7 125.9,579.0 126.4,577.8 126.9,578.8 127.4,579.9 127.9,582.3 128.4,585.2 128.9,581.5 129.4,581.4 129.9,582.6 130.4,581.9 130.9,583.2 131.4,583.1 131.9,582.8 132.4,581.9 132.9,583.6 133.4,584.9 133.9,583.9 134.4,586.3 134.9,585.7 135.4,584.3 135.9,587.3 136.4,583.3 136.9,586.9 137.4,588.1 137.9,585.2 138.4,585.6 138.9,587.4 139.4,588.3 139.9,587.0 140.4,586.9 140.9,588.0 141.4,587.3 141.9,585.3 142.4,587.0 142.9,587.4 143.4,585.4 143.9,588.3 144.4,586.8 144.9,589.2 145.4,586.1 145.9,587.1 146.4,586.4 146.9,590.5 147.4,590.7 147.9,591.1 148.4,591.2 148.9,590.5 149.4,590.6 149.9,586.9 150.4,589.9 150.9,588.8 151.4,589.1 151.9,587.9 152.4,591.6 152.9,590.0 153.4,587.7 153.9,590.6 154.4,589.8 154.9,588.4 155.4,589.5 155.9,588.8 156.4,586.7 156.9,587.8 157.4,590.7 157.9,590.5 158.4,590.5 158.9,588.4 159.4,589.3 159.9,590.3 160.4,591.2 160.9,589.1 161.4,588.9 161.9,592.0 162.4,590.6 162.9,590.0 163.4,589.6 163.9,589.8 164.4,593.0 164.9,592.2 165.4,590.3 165.9,589.2 166.4,593.3 166.9,593.2 167.4,592.8 167.9,592.3 168.4,588.5 168.9,589.4 169.4,592.0 169.9,590.8 170.4,591.6 170.9,590.4 171.4,590.2 171.9,591.9 172.4,590.5 172.9,591.0 173.4,591.3 173.9,591.2 174.4,592.4 174.9,592.6 175.4,588.7 175.9,590.2 176.4,589.5 176.9,591.4 177.4,588.7 177.9,591.2 178.4,591.0 178.9,590.7 179.4,588.4 179.9,589.3 180.4,588.0 180.9,589.8 181.4,590.3 181.9,586.7 182.4,587.3 182.9,587.9 183.4,587.0 183.9,589.5 184.4,586.9 184.9,587.1 185.4,584.9 185.9,588.3 186.4,586.2 186.9,586.8 187.4,585.8 187.9,582.7 188.4,583.4 188.9,583.9 189.4,586.4 189.9,585.1 190.4,586.6 190.9,586.5 191.4,586.7 191.9,587.8 192.4,587.2 192.9,585.7 193.4,588.1 193.9,592.5 194.4,589.9 194.9,594.0 195.4,594.7 195.9,591.9 196.4,593.5 196.9,591.3 197.4,594.5 197.9,592.5 198.4,592.0 198.9,593.4 199.4,593.4 199.9,593.4 200.4,594.6 200.9,594.2 201.4,593.7 201.9,596.0 202.4,598.1 202.9,595.1 203.4,594.3 203.9,594.0 204.4,596.3 204.9,595.3 205.4,595.8 205.9,593.3 206.4,594.6 206.9,594.7 207.4,597.6 207.9,596.1 208.4,593.3 208.9,597.4 209.4,598.3 209.9,598.7 210.4,593.4 210.9,597.4 211.4,598.4 211.9,598.2 212.4,597.2 212.9,595.3 213.4,597.1 213.9,597.4 214.4,598.6 214.9,598.8 215.4,597.7 215.9,599.2 216.4,596.8 216.9,597.3 217.4,598.2 217.9,599.0 218.4,597.9 218.9,599.9 219.4,598.9 219.9,597.2 220.4,598.5 220.9,597.3 221.4,597.2 221.9,596.6 222.4,600.2 222.9,599.6 223.4,596.4 223.9,599.8 224.4,599.6 224.9,598.0 225.4,599.1 225.9,601.2 226.4,598.8 226.9,599.0 227.4,599.9 227.9,597.2 228.4,596.9 228.9,596.7 229.4,598.4 229.9,599.6 230.4,597.5 230.9,596.9 231.4,598.8 231.9,598.2 232.4,599.5 232.9,598.6 233.4,598.6 233.9,598.9 234.4,599.1 234.9,598.0 235.4,597.9 235.9,601.3 236.4,603.2 236.9,600.9 237.4,597.7 237.9,599.8 238.4,601.2 238.9,598.0 239.4,599.4 239.9,599.6 240.4,599.0 240.9,599.2 241.4,601.5 241.9,599.8 242.4,600.1 242.9,602.5 243.4,599.5 243.9,598.3 244.4,601.4 244.9,603.1 245.4,601.0 245.9,601.2 246.4,599.4 246.9,599.9 247.4,602.8 247.9,602.6 248.4,601.9 248.9,600.5 249.4,599.9 249.9,600.2 250.4,600.1 250.9,602.2 251.4,600.6 251.9,601.0 252.4,602.5 252.9,602.5 253.4,601.9 253.9,602.4 254.4,601.9 254.9,599.8 255.4,601.9 255.9,601.6 256.4,601.8 256.9,602.5 257.4,601.6 257.9,603.7 258.4,602.2 258.9,602.6 259.4,602.9 259.9,602.4 260.4,603.4 260.9,603.5 261.4,603.5 261.9,602.0 262.4,601.9 262.9,602.2 263.4,603.0 263.9,600.9 264.4,602.1 264.9,601.9 265.4,602.4 265.9,602.2 266.4,604.2 266.9,603.8 267.4,604.4 267.9,602.4 268.4,602.6 268.9,603.2 269.4,605.4 269.9,605.5 270.4,603.0 270.9,604.4 271.4,606.1 271.9,602.7 272.4,603.7 272.9,605.3 273.4,604.8 273.9,603.0 274.4,605.7 274.9,605.2 275.4,604.9 275.9,602.9 276.4,604.1 276.9,605.7 277.4,604.8 277.9,605.2 278.4,604.1 278.9,606.0 279.4,604.2 279.9,605.5 280.4,604.9 280.9,603.5 281.4,606.1 281.9,603.3 282.4,603.9 282.9,604.8 283.4,603.3 283.9,602.9 284.4,604.7 284.9,604.4 285.4,604.6 285.9,605.4 286.4,607.2 286.9,604.5 287.4,607.5 287.9,605.2 288.4,604.9 288.9,602.3 289.4,603.5 289.9,605.4 290.4,605.7 290.9,604.3 291.4,605.5 291.9,606.1 292.4,604.7 292.9,603.7 293.4,604.3 293.9,605.0 294.4,605.7 294.9,606.2 295.4,604.5 295.9,605.5 296.4,605.2 296.9,605.6 297.4,606.6 297.9,606.9 298.4,605.1 298.9,605.0 299.4,605.0 299.9,605.2 300.4,605.3 300.9,605.6 301.4,605.3 301.9,604.8 302.4,604.7 302.9,605.9 303.4,608.3 303.9,606.5 304.4,606.6 304.9,606.3 305.4,605.8 305.9,608.0 306.4,605.7 306.9,605.1 307.4,604.9 307.9,606.3 308.4,605.2 308.9,605.3 309.4,605.3 309.9,604.9 310.4,606.4 310.9,604.6 311.4,608.5 311.9,603.6 312.4,605.0 312.9,606.4 313.4,606.7 313.9,606.0 314.4,606.7 314.9,606.6 315.4,606.5 315.9,607.0 316.4,606.7 316.9,606.4 317.4,606.4 317.9,607.3 318.4,606.4 318.9,607.1 319.4,608.0 319.9,606.9 320.4,607.7 320.9,606.2 321.4,606.9 321.9,607.1 322.4,606.9 322.9,607.1 323.4,608.0 323.9,606.4 324.4,606.0 324.9,607.0 325.4,605.3 325.9,606.7 326.4,607.8 326.9,606.7 327.4,607.2 327.9,607.0 328.4,607.8 328.9,607.2 329.4,606.9 329.9,603.6 330.4,606.2 330.9,607.3 331.4,606.6 331.9,606.0 332.4,607.5 332.9,605.9 333.4,606.4 333.9,607.3 334.4,606.2 334.9,606.8 335.4,606.6 335.9,605.5 336.4,606.1 336.9,606.3 337.4,606.0 337.9,607.6 338.4,606.6 338.9,606.0 339.4,605.3 339.9,606.3 340.4,607.7 340.9,606.2 341.4,607.2 341.9,606.9 342.4,606.0 342.9,605.6 343.4,606.9 343.9,604.9 344.4,606.9 344.9,605.4 345.4,607.2 345.9,606.0 346.4,606.3 346.9,607.3 347.4,605.4 347.9,606.4 348.4,606.0 348.9,606.7 349.4,606.9 349.9,606.5 350.4,606.4 350.9,605.8 351.4,606.7 351.9,605.9 352.4,606.2 352.9,606.3 353.4,604.9 353.9,605.1 354.4,606.2 354.9,606.0 355.4,607.1 355.9,603.9 356.4,606.1 356.9,606.8 357.4,605.9 357.9,606.5 358.4,605.8 358.9,605.7 359.4,606.5 359.9,604.6 360.4,603.8 360.9,606.1 361.4,605.7 361.9,605.7 362.4,605.8 362.9,606.0 363.4,605.0 363.9,605.7 364.4,605.5 364.9,604.2 365.4,604.9 365.9,605.1 366.4,604.1 366.9,605.4 367.4,604.2 367.9,604.9 368.4,605.3 368.9,602.7 369.4,602.7 369.9,604.1 370.4,603.3 370.9,603.7 371.4,604.6 371.9,602.6 372.4,603.6 372.9,602.5 373.4,602.0 373.9,602.7 374.4,602.3 374.9,602.8 375.4,602.0 375.9,602.2 376.4,601.7 376.9,599.7 377.4,600.7 377.9,600.5 378.4,601.4 378.9,599.7 379.4,600.7 379.9,600.2 380.4,599.1 380.9,600.5 381.4,601.4 381.9,600.8 382.4,602.1 382.9,602.0 383.4,602.3 383.9,602.0 384.4,602.6 384.9,603.3 385.4,603.2 385.9,602.5 386.4,603.6 386.9,604.3 387.4,605.1 387.9,605.2 388.4,604.0 388.9,605.6 389.4,604.1 389.9,605.1 390.4,605.2 390.9,607.3 391.4,606.9 391.9,606.8 392.4,606.3 392.9,607.9 393.4,606.9 393.9,607.6 394.4,608.3 394.9,607.3 395.4,608.0 395.9,606.1 396.4,608.1 396.9,606.5 397.4,608.2 397.9,608.1 398.4,608.3 398.9,609.8 399.4,606.2 399.9,608.5 400.4,607.9 400.9,608.8 401.4,608.5 401.9,608.4 402.4,608.0 402.9,607.9 403.4,608.8 403.9,607.4 404.4,609.4 404.9,608.2 405.4,609.0 405.9,607.8 406.4,609.1 406.9,608.7 407.4,609.5 407.9,609.8 408.4,608.5 408.9,609.1 409.4,609.2 409.9,610.1 410.4,608.1 410.9,609.6 411.4,609.1 411.9,608.3 412.4,609.0 412.9,608.8 413.4,610.1 413.9,608.6 414.4,610.1 414.9,609.0 415.4,609.9 415.9,608.2 416.4,608.9 416.9,609.6 417.4,608.8 417.9,608.4 418.4,609.6 418.9,610.2 419.4,609.6 419.9,609.5 420.4,609.9 420.9,609.4 421.4,610.4 421.9,610.5 422.4,608.8 422.9,610.5 423.4,610.3 423.9,610.0 424.4,610.3 424.9,610.9 425.4,611.3 425.9,611.1 426.4,609.7 426.9,610.9 427.4,608.7 427.9,610.6 428.4,610.5 428.9,610.7 429.4,609.4 429.9,611.1 430.4,611.0 430.9,610.2 431.4,609.1 431.9,610.4 432.4,609.5 432.9,609.0 433.4,609.6 433.9,611.9 434.4,609.1 434.9,610.0 435.4,610.4 435.9,610.9 436.4,609.5 436.9,609.6 437.4,610.9 437.9,610.5 438.4,611.2 438.9,609.5 439.4,610.3 439.9,611.0 440.4,610.5 440.9,609.6 441.4,610.5 441.9,609.1 442.4,609.9 442.9,611.0 443.4,611.1 443.9,610.8 444.4,611.0 444.9,609.4 445.4,610.1 445.9,611.3 446.4,612.2 446.9,610.9 447.4,609.9 447.9,609.9 448.4,611.5 448.9,611.4 449.4,609.8 449.9,610.8 450.4,611.7 450.9,611.7 451.4,610.3 451.9,610.6 452.4,611.1 452.9,610.0 453.4,609.6 453.9,610.3 454.4,611.7 454.9,611.6 455.4,611.2 455.9,610.0 456.4,609.4 456.9,610.1 457.4,610.9 457.9,611.6 458.4,610.3 458.9,610.9 459.4,609.6 459.9,609.4 460.4,610.9 460.9,610.1 461.4,610.2 461.9,609.3 462.4,611.5 462.9,609.7 463.4,611.0 463.9,609.9 464.4,610.7 464.9,611.9 465.4,611.1 465.9,611.1 466.4,611.6 466.9,611.4 467.4,612.0 467.9,610.0 468.4,612.0 468.9,611.1 469.4,610.3 469.9,611.5 470.4,611.4 470.9,611.1 471.4,611.7 471.9,610.1 472.4,609.9 472.9,610.7 473.4,611.9 473.9,611.5 474.4,611.1 474.9,610.7 475.4,611.1 475.9,612.0 476.4,610.7 476.9,610.7 477.4,611.5 477.9,611.6 478.4,611.3 478.9,612.2 479.4,611.3 479.9,610.5 480.4,609.6 480.9,612.0 481.4,611.1 481.9,611.4 482.4,611.5 482.9,612.1 483.4,611.9 483.9,611.9 484.4,611.4 484.9,611.0 485.4,611.3 485.9,610.6 486.4,611.4 486.9,611.9 487.4,611.6 487.9,611.2 488.4,610.5 488.9,610.5 489.4,610.6 489.9,610.8 490.4,611.4 490.9,611.4 491.4,611.4 491.9,611.7 492.4,610.3 492.9,610.8 493.4,611.3 493.9,611.5 494.4,610.5 494.9,610.4 495.4,611.7 495.9,611.4 496.4,611.2 496.9,610.6 497.4,610.1 497.9,610.8 498.4,611.0 498.9,611.1 499.4,611.4 499.9,610.8 500.4,611.6 500.9,610.4 501.4,610.9 501.9,610.7 502.4,609.4 502.9,609.7 503.4,610.2 503.9,610.7 504.4,610.8 504.9,611.4 505.4,610.5 505.9,610.2 506.4,610.7 506.9,609.6 507.4,610.3 507.9,609.7 508.4,610.4 508.9,609.8 509.4,610.0 509.9,611.6 510.4,611.0 510.9,612.0 511.4,610.4 511.9,610.1 512.4,609.6 512.9,610.1 513.4,608.9 513.9,610.2 514.4,609.7 514.9,609.2 515.4,608.8 515.9,609.4 516.4,609.8 516.9,610.0 517.4,608.9 517.9,610.0 518.4,610.2 518.9,611.5 519.4,610.2 519.9,610.6 520.4,609.4 520.9,609.9 521.4,609.4 521.9,609.3 522.4,610.2 522.9,609.7 523.4,610.9 523.9,609.8 524.4,610.1 524.9,609.0 525.4,609.1 525.9,610.3 526.4,609.3 526.9,610.7 527.4,609.2 527.9,609.2 528.4,611.1 528.9,608.6 529.4,609.4 529.9,610.2 530.4,610.2 530.9,609.0 531.4,611.3 531.9,609.5 532.4,608.5 532.9,610.4 533.4,609.5 533.9,609.9 534.4,610.3 534.9,609.2 535.4,609.3 535.9,609.7 536.4,610.4 536.9,608.9 537.4,610.8 537.9,610.1 538.4,609.1 538.9,609.9 539.4,610.2 539.9,610.7 540.4,610.5 540.9,610.7 541.4,609.8 541.9,610.4 542.4,608.0 542.9,610.6 543.4,609.9 543.9,611.0 544.4,609.5 544.9,609.6 545.4,610.0 545.9,610.5 546.4,610.2 546.9,610.7 547.4,610.0 547.9,610.7 548.4,611.9 548.9,610.9 549.4,610.4 549.9,609.0 550.4,610.5 550.9,610.8 551.4,609.9 551.9,610.8 552.4,608.6 552.9,609.6 553.4,609.5 553.9,610.5 554.4,609.6 554.9,609.5 555.4,611.2 555.9,609.2 556.4,610.5 556.9,610.9 557.4,610.0 557.9,609.6 558.4,610.1 558.9,609.8 559.4,609.7 559.9,610.4 560.4,610.2 560.9,612.4 561.4,611.2 561.9,610.4 562.4,610.7 562.9,611.5 563.4,611.2 563.9,610.4 564.4,609.8 564.9,611.6 565.4,610.4 565.9,610.6 566.4,611.4 566.9,610.6 567.4,611.3 567.9,610.3 568.4,610.6 568.9,610.4 569.4,611.9 569.9,609.5 570.4,610.4 570.9,609.9 571.4,610.0 571.9,609.7 572.4,610.0 572.9,611.4 573.4,611.6 573.9,610.1 574.4,609.8 574.9,610.3 575.4,611.8 575.9,610.6 576.4,609.2 576.9,611.2 577.4,610.6 577.9,611.1 578.4,611.0 578.9,609.8 579.4,611.4 579.9,611.2 580.4,610.3 580.9,609.2 581.4,610.0 581.9,610.0 582.4,611.3 582.9,610.4 583.4,610.5 583.9,610.8 584.4,610.5 584.9,611.1 585.4,611.1 585.9,611.5 586.4,610.0 586.9,611.1 587.4,610.7 587.9,612.4 588.4,611.9 588.9,610.7 589.4,611.6 589.9,609.7 590.4,610.2 590.9,610.8 591.4,611.2 591.9,610.2 592.4,611.0 592.9,611.9 593.4,609.9 593.9,610.1 594.4,609.7 594.9,611.8 595.4,610.3 595.9,610.8 596.4,610.4 596.9,611.0 597.4,610.8 597.9,611.2 598.4,611.2 598.9,612.2 599.4,610.4 599.9,611.2 600.4,611.0 600.9,610.5 601.4,611.7 601.9,612.3 602.4,610.3 602.9,612.8 603.4,611.0 603.9,611.0 604.4,609.3 604.9,611.2 605.4,611.0 605.9,610.9 606.4,611.6 606.9,611.0 607.4,611.4 607.9,610.7 608.4,610.4 608.9,611.2 609.4,611.5 609.9,611.6 610.4,611.2 610.9,610.7 611.4,611.2 611.9,611.0 612.4,610.3 612.9,611.4 613.4,611.1 613.9,610.4 614.4,611.0 614.9,611.6 615.4,612.2 615.9,610.0 616.4,611.0 616.9,611.6 617.4,612.0 617.9,611.5 618.4,610.5 618.9,610.9 619.4,611.2 619.9,610.7 620.4,610.5 620.9,610.4 621.4,613.0 621.9,611.3 622.4,611.1 622.9,611.7 623.4,611.3 623.9,611.2 624.4,611.4 624.9,610.8 625.4,611.0 625.9,611.9 626.4,611.7 626.9,610.6 627.4,612.3 627.9,611.1 628.4,610.3 628.9,611.8 629.4,611.8 629.9,611.6 630.4,610.7 630.9,612.2 631.4,611.7 631.9,611.6 632.4,611.5 632.9,611.6 633.4,612.9 633.9,611.1 634.4,611.6 634.9,612.2 635.4,611.9 635.9,610.9 636.4,611.4 636.9,611.2 637.4,610.5 637.9,611.3 638.4,612.1 638.9,611.6 639.4,612.2 639.9,611.8 640.4,611.0 640.9,611.8 641.4,610.3 641.9,612.3 642.4,611.2 642.9,612.6 643.4,610.6 643.9,610.8 644.4,611.2 644.9,611.3 645.4,610.4 645.9,610.6 646.4,611.8 646.9,610.9 647.4,612.1 647.9,612.6 648.4,610.5 648.9,611.2 649.4,612.7 649.9,612.2 650.4,610.6 650.9,611.8 651.4,612.6 651.9,610.1 652.4,611.8 652.9,612.3 653.4,611.2 653.9,611.1 654.4,612.1 654.9,610.5 655.4,611.9 655.9,612.4 656.4,611.6 656.9,610.5 657.4,612.6 657.9,611.6 658.4,612.0 658.9,611.0 659.4,611.5 659.9,612.3 660.4,610.6 660.9,610.7 661.4,610.2 661.9,611.9 662.4,611.9 662.9,611.0 663.4,611.8 663.9,611.6 664.4,612.9 664.9,610.8 665.4,611.8 665.9,611.3 666.4,612.9 666.9,611.9 667.4,610.8 667.9,611.9 668.4,611.5 668.9,611.0 669.4,611.9 669.9,611.7 670.4,610.9 670.9,611.4 671.4,612.4 671.9,612.3 672.4,611.6 672.9,611.4 673.4,611.9 673.9,611.6 674.4,610.9 674.9,612.1 675.4,611.2 675.9,612.7 676.4,612.1 676.9,612.2 677.4,611.5 677.9,611.8 678.4,611.3 678.9,611.5 679.4,611.0 679.9,612.7 680.4,611.0 680.9,612.9 681.4,612.2 681.9,611.1 682.4,612.6 682.9,612.0 683.4,611.2 683.9,611.9 684.4,611.5 684.9,611.3 685.4,611.7 685.9,612.0 686.4,611.6 686.9,611.8 687.4,612.3 687.9,611.7 688.4,611.5 688.9,610.9 689.4,611.8 689.9,611.5 690.4,611.7 690.9,612.3 691.4,612.4 691.9,611.8 692.4,611.4 692.9,611.9 693.4,612.0 693.9,612.0 694.4,610.9 694.9,612.0 695.4,611.2 695.9,612.0 696.4,612.1 696.9,611.9 697.4,612.6 697.9,611.9 698.4,612.1 698.9,611.3 699.4,611.8 699.9,611.7 700.4,611.9 700.9,611.8 701.4,610.3 701.9,612.4 702.4,612.3 702.9,610.5 703.4,612.0 703.9,612.5 704.4,612.4 704.9,612.4 705.4,611.8 705.9,611.6 706.4,613.1 706.9,612.2 707.4,613.0 707.9,611.9 708.4,612.5 708.9,612.5 709.4,612.4 709.9,611.1 710.4,613.5 710.9,612.1 711.4,611.7 711.9,612.1 712.4,610.8 712.9,612.8 713.4,611.7 713.9,612.1 714.4,612.1 714.9,610.8 715.4,611.8 715.9,612.8 716.4,611.5 716.9,612.1 717.4,612.6 717.9,613.0 718.4,611.4 718.9,612.7 719.4,612.4 719.9,612.4 720.4,612.6 720.9,612.5 721.4,611.4 721.9,612.3 722.4,611.6 722.9,612.2 723.4,611.8 723.9,613.0 724.4,612.6 724.9,612.4 725.4,611.6 725.9,612.3 726.4,611.3 726.9,611.5 727.4,611.0 727.9,612.6 728.4,611.7 728.9,612.6 729.4,612.8 729.9,612.7 730.4,611.8 730.9,613.0 731.4,612.8 731.9,611.3 732.4,612.3 732.9,611.6 733.4,612.0 733.9,612.9 734.4,612.3 734.9,613.1 735.4,612.5 735.9,612.6 736.4,613.2 736.9,612.9 737.4,612.6 737.9,613.0 738.4,612.9 738.9,611.2 739.4,611.4 739.9,612.2 740.4,612.8 740.9,611.6 741.4,611.0 741.9,612.1 742.4,611.7 742.9,613.1 743.4,610.6 743.9,612.6 744.4,612.5 744.9,610.4 745.4,611.5 745.9,611.9 746.4,612.3 746.9,612.1 747.4,612.5 747.9,612.2 748.4,611.6 748.9,613.2 749.4,612.3 749.9,611.6 750.4,612.4 750.9,612.0 751.4,611.8 751.9,611.7 752.4,611.2 752.9,611.5 753.4,611.3 753.9,610.8 754.4,612.4 754.9,612.3 755.4,612.0 755.9,611.4 756.4,611.6 756.9,613.1 757.4,611.6 757.9,612.7 758.4,612.3 758.9,612.4 759.4,611.8 759.9,612.0 760.4,612.1 760.9,611.4 761.4,613.0 761.9,611.6 762.4,612.2 762.9,613.2 763.4,613.1 763.9,611.7 764.4,612.5 764.9,612.8 765.4,610.9 765.9,613.4 766.4,612.5 766.9,612.0 767.4,612.1 767.9,610.7 768.4,612.6 768.9,613.1 769.4,612.0 769.9,613.2 770.4,612.6 770.9,611.3 771.4,612.5 771.9,610.9 772.4,610.9 772.9,612.6 773.4,612.5 773.9,612.1 774.4,612.1 774.9,611.2 775.4,612.8 775.9,612.1 776.4,612.0 776.9,614.4 777.4,612.3 777.9,612.1 778.4,613.4 778.9,612.3 779.4,611.9 779.9,613.1 780.4,612.1 780.9,611.7 781.4,611.9 781.9,612.2 782.4,612.8 782.9,613.0 783.4,611.4"/>
<polyline fill="none" stroke="#dc0000" stroke-width="2.6" stroke-linejoin="round" points="43.4,398.7 44.4,404.1 45.4,406.8 46.4,396.4 47.4,395.0 48.4,400.5 49.4,395.3 50.4,398.3 51.4,401.5 52.4,396.1 53.4,398.2 54.4,381.9 55.4,397.2 56.4,391.3 57.4,387.5 58.4,390.9 59.4,385.9 60.4,385.6 61.4,381.3 62.4,387.6 63.4,384.7 64.4,387.8 65.4,395.8 66.4,394.1 67.4,390.1 68.4,399.6 69.4,403.8 70.4,401.3 71.4,402.5 72.4,402.9 73.4,399.8 74.4,409.5 75.4,408.0 76.4,406.8 77.4,408.2 78.4,409.1 79.4,417.1 80.4,410.6 81.4,406.0 82.4,415.6 83.4,421.8 84.4,424.1 85.4,422.0 86.4,418.5 87.4,435.3 88.4,424.6 89.4,431.7 90.4,433.1 91.4,433.7 92.4,436.9 93.4,436.1 94.4,438.7 95.4,442.1 96.4,445.5 97.4,457.5 98.4,445.7 99.4,456.0 100.4,453.7 101.4,453.7 102.4,451.6 103.4,458.8 104.4,456.8 105.4,463.6 106.4,465.5 107.4,461.1 108.4,471.6 109.4,468.1 110.4,470.3 111.4,472.8 112.4,471.7 113.4,478.5 114.4,482.0 115.4,477.9 116.4,481.9 117.4,486.6 118.4,483.3 119.4,481.1 120.4,487.4 121.4,484.7 122.4,484.7 123.4,481.3 124.4,488.0 125.4,485.4 126.4,490.3 127.4,482.6 128.4,486.7 129.4,497.0 130.4,498.7 131.4,494.5 132.4,494.9 133.4,486.4 134.4,497.0 135.4,493.6 136.4,488.9 137.4,493.7 138.4,494.1 139.4,500.9 140.4,499.8 141.4,508.1 142.4,505.5 143.4,501.1 144.4,503.3 145.4,497.6 146.4,505.5 147.4,501.8 148.4,504.2 149.4,505.3 150.4,504.8 151.4,503.8 152.4,508.3 153.4,508.9 154.4,498.1 155.4,505.2 156.4,507.2 157.4,506.3 158.4,509.4 159.4,512.3 160.4,510.4 161.4,509.9 162.4,514.5 163.4,512.8 164.4,513.1 165.4,519.8 166.4,517.0 167.4,510.5 168.4,518.9 169.4,512.5 170.4,516.2 171.4,509.7 172.4,519.9 173.4,511.2 174.4,519.0 175.4,525.1 176.4,520.6 177.4,519.2 178.4,516.2 179.4,518.9 180.4,523.3 181.4,513.0 182.4,517.4 183.4,525.3 184.4,520.0 185.4,525.5 186.4,524.2 187.4,519.5 188.4,522.3 189.4,527.8 190.4,522.5 191.4,523.9 192.4,526.3 193.4,523.2 194.4,524.7 195.4,527.8 196.4,526.1 197.4,527.2 198.4,529.9 199.4,534.3 200.4,528.8 201.4,527.7 202.4,539.6 203.4,533.9 204.4,525.4 205.4,530.4 206.4,527.3 207.4,535.4 208.4,529.9 209.4,532.6 210.4,539.7 211.4,533.0 212.4,535.5 213.4,537.1 214.4,539.6 215.4,540.1 216.4,541.9 217.4,535.7 218.4,539.4 219.4,533.2 220.4,538.7 221.4,538.4 222.4,544.4 223.4,540.4 224.4,538.6 225.4,538.8 226.4,537.4 227.4,538.8 228.4,538.4 229.4,540.5 230.4,539.1 231.4,541.0 232.4,544.0 233.4,537.9 234.4,539.1 235.4,537.8 236.4,547.4 237.4,546.5 238.4,543.3 239.4,542.1 240.4,539.5 241.4,545.1 242.4,542.7 243.4,543.7 244.4,542.9 245.4,534.9 246.4,538.4 247.4,541.6 248.4,544.6 249.4,540.6 250.4,543.9 251.4,542.7 252.4,540.8 253.4,545.6 254.4,541.1 255.4,540.9 256.4,548.8 257.4,548.4 258.4,545.4 259.4,547.9 260.4,543.2 261.4,544.4 262.4,546.1 263.4,546.2 264.4,546.8 265.4,542.0 266.4,547.9 267.4,542.7 268.4,545.4 269.4,552.3 270.4,548.3 271.4,544.5 272.4,546.7 273.4,544.0 274.4,544.2 275.4,543.9 276.4,545.2 277.4,546.1 278.4,547.8 279.4,551.7 280.4,547.5 281.4,547.1 282.4,543.7 283.4,549.7 284.4,547.0 285.4,550.6 286.4,547.1 287.4,551.0 288.4,545.6 289.4,546.2 290.4,546.7 291.4,546.6 292.4,548.1 293.4,547.8 294.4,542.7 295.4,544.7 296.4,545.6 297.4,548.9 298.4,546.8 299.4,549.3 300.4,549.2 301.4,548.3 302.4,543.3 303.4,552.6 304.4,549.4 305.4,547.2 306.4,549.4 307.4,547.7 308.4,549.0 309.4,547.1 310.4,553.9 311.4,548.6 312.4,550.3 313.4,548.0 314.4,551.4 315.4,552.9 316.4,550.3 317.4,548.2 318.4,550.6 319.4,549.8 320.4,552.1 321.4,551.0 322.4,551.2 323.4,550.1 324.4,550.0 325.4,550.6 326.4,553.4 327.4,550.6 328.4,551.9 329.4,549.7 330.4,550.1 331.4,548.2 332.4,550.4 333.4,549.4 334.4,546.2 335.4,548.9 336.4,547.7 337.4,550.2 338.4,550.0 339.4,553.4 340.4,551.2 341.4,549.8 342.4,550.2 343.4,550.3 344.4,550.2 345.4,552.2 346.4,550.2 347.4,551.9 348.4,553.4 349.4,550.5 350.4,551.6 351.4,554.9 352.4,552.8 353.4,551.2 354.4,553.1 355.4,551.5 356.4,550.4 357.4,553.7 358.4,550.4 359.4,550.9 360.4,551.9 361.4,553.8 362.4,553.5 363.4,551.1 364.4,552.3 365.4,551.7 366.4,553.9 367.4,553.0 368.4,551.2 369.4,554.0 370.4,550.2 371.4,551.9 372.4,549.2 373.4,554.3 374.4,552.4 375.4,553.8 376.4,557.5 377.4,553.3 378.4,553.2 379.4,551.8 380.4,553.3 381.4,552.0 382.4,553.8 383.4,553.7 384.4,553.3 385.4,552.4 386.4,552.5 387.4,552.7 388.4,552.5 389.4,553.7 390.4,551.6 391.4,552.3 392.4,553.4 393.4,555.6 394.4,553.3 395.4,552.5 396.4,552.4 397.4,555.2 398.4,551.7 399.4,551.8 400.4,552.5 401.4,551.5 402.4,552.2 403.4,553.4 404.4,552.4 405.4,549.8 406.4,553.5 407.4,554.2 408.4,552.1 409.4,555.9 410.4,553.3 411.4,553.5 412.4,550.9 413.4,556.8 414.4,556.2 415.4,555.1 416.4,555.7 417.4,552.0 418.4,552.2 419.4,553.7 420.4,553.1 421.4,551.4 422.4,553.4 423.4,554.4 424.4,552.7 425.4,555.4 426.4,553.7 427.4,552.5 428.4,551.8 429.4,551.4 430.4,554.5 431.4,551.0 432.4,554.1 433.4,554.1 434.4,551.2 435.4,554.2 436.4,553.4 437.4,556.1 438.4,554.0 439.4,553.1 440.4,554.2 441.4,555.4 442.4,552.1 443.4,552.2 444.4,554.7 445.4,556.6 446.4,551.4 447.4,555.9 448.4,554.2 449.4,554.8 450.4,554.5 451.4,552.9 452.4,552.6 453.4,557.0 454.4,551.6 455.4,553.7 456.4,555.9 457.4,553.4 458.4,554.7 459.4,553.7 460.4,552.4 461.4,554.5 462.4,553.6 463.4,552.7 464.4,554.7 465.4,553.1 466.4,554.0 467.4,552.9 468.4,555.9 469.4,555.1 470.4,554.1 471.4,553.4 472.4,553.4 473.4,553.4 474.4,552.3 475.4,556.0 476.4,552.4 477.4,555.1 478.4,555.1 479.4,553.4 480.4,553.6 481.4,551.8 482.4,553.5 483.4,552.9 484.4,555.1 485.4,552.8 486.4,552.9 487.4,554.8 488.4,551.1 489.4,552.8 490.4,555.6 491.4,553.6 492.4,555.1 493.4,549.4 494.4,552.8 495.4,553.6 496.4,551.7 497.4,555.2 498.4,551.7 499.4,553.0 500.4,554.4 501.4,554.1 502.4,553.5 503.4,552.5 504.4,554.2 505.4,552.8 506.4,556.1 507.4,553.6 508.4,552.6 509.4,555.7 510.4,556.8 511.4,554.8 512.4,553.4 513.4,551.9 514.4,553.3 515.4,555.6 516.4,555.2 517.4,551.6 518.4,554.7 519.4,551.9 520.4,555.4 521.4,557.1 522.4,554.2 523.4,556.2 524.4,553.8 525.4,554.4 526.4,555.9 527.4,556.2 528.4,554.1 529.4,556.8 530.4,554.8 531.4,550.2 532.4,555.8 533.4,555.9 534.4,550.6 535.4,554.8 536.4,556.3 537.4,555.5 538.4,554.1 539.4,553.9 540.4,555.4 541.4,554.9 542.4,556.5 543.4,556.0 544.4,557.9 545.4,554.8 546.4,556.5 547.4,556.5 548.4,555.8 549.4,557.0 550.4,553.4 551.4,555.4 552.4,558.8 553.4,556.9 554.4,556.1 555.4,557.6 556.4,555.9 557.4,554.4 558.4,556.4 559.4,557.5 560.4,555.6 561.4,558.6 562.4,556.6 563.4,556.2 564.4,555.4 565.4,559.4 566.4,559.9 567.4,554.6 568.4,556.3 569.4,555.3 570.4,558.2 571.4,556.3 572.4,557.9 573.4,556.3 574.4,555.1 575.4,558.9 576.4,556.9 577.4,556.4 578.4,555.4 579.4,557.2 580.4,558.5 581.4,556.3 582.4,560.2 583.4,559.4 584.4,557.2 585.4,557.9 586.4,556.4 587.4,557.9 588.4,555.4 589.4,555.5 590.4,560.7 591.4,557.5 592.4,558.5 593.4,556.0 594.4,557.9 595.4,557.1 596.4,554.1 597.4,556.9 598.4,557.3 599.4,557.2 600.4,559.0 601.4,558.3 602.4,555.3 603.4,556.4 604.4,557.2 605.4,557.6 606.4,557.5 607.4,555.5 608.4,557.9 609.4,557.1 610.4,554.4 611.4,554.3 612.4,555.4 613.4,556.5 614.4,555.8 615.4,556.3 616.4,555.8 617.4,557.1 618.4,558.8 619.4,558.7 620.4,555.6 621.4,559.4 622.4,560.3 623.4,557.2 624.4,561.0 625.4,558.5 626.4,556.7 627.4,560.8 628.4,558.3 629.4,557.9 630.4,561.6 631.4,561.0 632.4,558.4 633.4,557.8 634.4,558.9 635.4,559.3 636.4,560.3 637.4,555.3 638.4,559.6 639.4,559.5 640.4,558.7 641.4,559.6 642.4,560.4 643.4,557.0 644.4,557.4 645.4,559.2 646.4,559.1 647.4,559.4 648.4,560.1 649.4,562.7 650.4,559.0 651.4,560.0 652.4,561.0 653.4,559.2 654.4,559.1 655.4,560.3 656.4,560.5 657.4,558.7 658.4,560.7 659.4,560.6 660.4,560.4 661.4,561.5 662.4,558.0 663.4,561.3 664.4,559.4 665.4,560.1 666.4,559.8 667.4,558.8 668.4,561.0 669.4,563.3 670.4,560.7 671.4,562.3 672.4,559.4 673.4,559.5 674.4,560.6 675.4,559.8 676.4,559.6 677.4,561.8 678.4,561.5 679.4,562.1 680.4,561.0 681.4,560.6 682.4,560.3 683.4,562.5 684.4,560.9 685.4,562.8 686.4,562.6 687.4,564.4 688.4,560.7 689.4,563.4 690.4,559.8 691.4,563.4 692.4,562.6 693.4,563.5 694.4,558.9 695.4,564.0 696.4,561.4 697.4,561.3 698.4,559.4 699.4,560.6 700.4,563.6 701.4,564.3 702.4,562.6 703.4,560.9 704.4,562.8 705.4,559.7 706.4,561.5 707.4,561.0 708.4,563.6 709.4,559.7 710.4,561.4 711.4,562.6 712.4,563.0 713.4,560.2 714.4,561.3 715.4,559.0 716.4,563.4 717.4,561.5 718.4,561.6 719.4,561.4 720.4,564.6 721.4,562.2 722.4,561.0 723.4,563.9 724.4,563.3 725.4,562.4 726.4,561.1 727.4,562.6 728.4,563.3 729.4,562.4 730.4,562.5 731.4,564.0 732.4,561.5 733.4,563.8 734.4,562.2 735.4,561.0 736.4,564.1 737.4,564.0 738.4,561.8 739.4,561.8 740.4,564.7 741.4,563.3 742.4,560.4 743.4,561.8 744.4,563.7 745.4,562.4 746.4,564.6 747.4,562.6 748.4,564.1 749.4,563.4 750.4,563.9 751.4,563.6 752.4,563.4 753.4,561.6 754.4,565.2 755.4,562.8 756.4,561.9 757.4,565.8 758.4,562.7 759.4,565.7 760.4,560.5 761.4,564.1 762.4,563.7 763.4,562.6 764.4,565.3 765.4,562.2 766.4,563.9 767.4,563.0 768.4,565.0 769.4,562.2 770.4,564.1 771.4,564.0 772.4,560.9 773.4,568.4 774.4,564.2 775.4,564.6 776.4,565.1 777.4,563.4 778.4,563.2 779.4,560.8 780.4,563.2 781.4,563.9 782.4,564.8 783.4,564.2"/><polyline fill="none" stroke="#dc0000" stroke-width="1.5" stroke-linejoin="round" points="43.4,395.7 43.9,393.0 44.4,397.1 44.9,399.4 45.4,402.0 45.9,397.5 46.4,394.4 46.9,393.2 47.4,399.2 47.9,402.5 48.4,396.6 48.9,390.2 49.4,391.1 49.9,401.3 50.4,395.3 50.9,387.2 51.4,393.7 51.9,389.1 52.4,391.0 52.9,391.4 53.4,390.2 53.9,395.1 54.4,392.5 54.9,390.2 55.4,394.0 55.9,395.5 56.4,385.5 56.9,390.9 57.4,387.9 57.9,391.0 58.4,386.5 58.9,391.5 59.4,391.1 59.9,389.9 60.4,386.8 60.9,389.2 61.4,386.2 61.9,385.1 62.4,391.3 62.9,386.2 63.4,395.3 63.9,393.8 64.4,383.6 64.9,392.8 65.4,387.9 65.9,393.0 66.4,394.0 66.9,387.2 67.4,394.9 67.9,395.7 68.4,401.3 68.9,394.0 69.4,402.3 69.9,396.2 70.4,399.9 70.9,398.7 71.4,407.9 71.9,405.1 72.4,412.5 72.9,406.2 73.4,407.4 73.9,407.7 74.4,402.8 74.9,405.2 75.4,411.1 75.9,405.2 76.4,408.0 76.9,407.8 77.4,410.8 77.9,407.8 78.4,409.2 78.9,411.2 79.4,411.3 79.9,408.3 80.4,415.3 80.9,407.9 81.4,408.9 81.9,409.5 82.4,418.7 82.9,415.3 83.4,414.7 83.9,415.8 84.4,423.0 84.9,419.0 85.4,419.2 85.9,426.8 86.4,421.1 86.9,425.0 87.4,426.9 87.9,426.2 88.4,428.7 88.9,434.8 89.4,429.5 89.9,428.2 90.4,427.5 90.9,434.6 91.4,435.4 91.9,438.7 92.4,437.2 92.9,438.2 93.4,438.3 93.9,440.0 94.4,443.2 94.9,442.3 95.4,444.8 95.9,452.0 96.4,448.0 96.9,441.9 97.4,454.1 97.9,450.3 98.4,446.8 98.9,454.1 99.4,451.9 99.9,450.7 100.4,451.6 100.9,451.3 101.4,455.8 101.9,460.2 102.4,456.5 102.9,459.9 103.4,465.7 103.9,456.3 104.4,462.1 104.9,461.1 105.4,459.5 105.9,460.4 106.4,464.5 106.9,466.8 107.4,464.4 107.9,467.1 108.4,470.0 108.9,469.4 109.4,472.0 109.9,471.4 110.4,472.2 110.9,477.2 111.4,474.0 111.9,473.2 112.4,475.7 112.9,471.2 113.4,473.7 113.9,478.0 114.4,478.2 114.9,481.7 115.4,477.4 115.9,473.3 116.4,484.7 116.9,482.6 117.4,476.3 117.9,484.5 118.4,480.9 118.9,475.6 119.4,480.5 119.9,480.8 120.4,487.9 120.9,481.0 121.4,483.3 121.9,483.8 122.4,484.1 122.9,483.0 123.4,487.0 123.9,490.2 124.4,489.3 124.9,485.0 125.4,484.8 125.9,489.2 126.4,487.1 126.9,487.8 127.4,485.0 127.9,496.6 128.4,493.8 128.9,488.3 129.4,494.5 129.9,496.2 130.4,485.2 130.9,491.2 131.4,492.1 131.9,495.6 132.4,493.6 132.9,493.7 133.4,494.6 133.9,500.8 134.4,502.1 134.9,494.2 135.4,493.4 135.9,504.7 136.4,493.9 136.9,495.5 137.4,497.7 137.9,499.3 138.4,501.3 138.9,499.7 139.4,496.2 139.9,500.7 140.4,500.2 140.9,505.4 141.4,500.0 141.9,496.3 142.4,497.4 142.9,505.2 143.4,499.5 143.9,495.1 144.4,499.9 144.9,501.9 145.4,505.7 145.9,499.4 146.4,504.7 146.9,505.3 147.4,501.1 147.9,502.9 148.4,508.9 148.9,509.0 149.4,506.7 149.9,505.4 150.4,508.1 150.9,504.6 151.4,505.0 151.9,502.9 152.4,505.8 152.9,505.8 153.4,514.5 153.9,506.0 154.4,510.5 154.9,510.9 155.4,506.8 155.9,511.0 156.4,501.4 156.9,508.4 157.4,510.9 157.9,501.6 158.4,505.5 158.9,512.2 159.4,508.6 159.9,506.4 160.4,508.8 160.9,508.6 161.4,512.5 161.9,512.0 162.4,510.2 162.9,509.3 163.4,511.3 163.9,515.6 164.4,513.0 164.9,514.1 165.4,512.1 165.9,509.1 166.4,511.0 166.9,515.2 167.4,513.9 167.9,511.3 168.4,509.5 168.9,514.7 169.4,513.7 169.9,513.9 170.4,514.3 170.9,516.3 171.4,516.6 171.9,518.8 172.4,519.0 172.9,520.4 173.4,519.2 173.9,516.2 174.4,517.3 174.9,519.1 175.4,517.1 175.9,519.8 176.4,521.8 176.9,516.5 177.4,514.1 177.9,522.7 178.4,519.6 178.9,521.8 179.4,516.3 179.9,525.1 180.4,522.5 180.9,520.3 181.4,519.9 181.9,521.4 182.4,520.7 182.9,520.6 183.4,518.4 183.9,525.2 184.4,521.8 184.9,522.2 185.4,522.4 185.9,515.8 186.4,524.0 186.9,521.7 187.4,522.0 187.9,523.2 188.4,520.5 188.9,525.7 189.4,521.6 189.9,521.3 190.4,521.6 190.9,524.6 191.4,526.5 191.9,523.0 192.4,520.7 192.9,528.1 193.4,522.5 193.9,529.0 194.4,525.8 194.9,524.3 195.4,524.7 195.9,528.0 196.4,529.5 196.9,526.8 197.4,530.2 197.9,533.6 198.4,527.6 198.9,525.3 199.4,525.8 199.9,525.2 200.4,527.5 200.9,527.5 201.4,526.2 201.9,531.5 202.4,523.2 202.9,527.0 203.4,536.3 203.9,533.9 204.4,532.8 204.9,532.9 205.4,536.7 205.9,533.6 206.4,532.7 206.9,529.5 207.4,532.8 207.9,531.3 208.4,531.7 208.9,531.9 209.4,533.9 209.9,533.4 210.4,536.8 210.9,531.2 211.4,534.5 211.9,540.0 212.4,535.5 212.9,538.8 213.4,538.8 213.9,539.5 214.4,538.3 214.9,533.0 215.4,536.1 215.9,536.0 216.4,533.2 216.9,536.2 217.4,534.4 217.9,533.5 218.4,538.5 218.9,538.0 219.4,536.6 219.9,536.1 220.4,537.2 220.9,537.8 221.4,537.9 221.9,538.9 222.4,538.1 222.9,540.3 223.4,540.7 223.9,540.4 224.4,538.0 224.9,538.2 225.4,541.0 225.9,539.5 226.4,540.0 226.9,534.0 227.4,533.6 227.9,541.2 228.4,541.3 228.9,544.0 229.4,542.5 229.9,541.3 230.4,540.9 230.9,537.5 231.4,543.2 231.9,539.6 232.4,542.4 232.9,541.7 233.4,542.0 233.9,543.6 234.4,540.3 234.9,540.6 235.4,539.5 235.9,540.8 236.4,545.7 236.9,540.9 237.4,544.7 237.9,543.9 238.4,543.7 238.9,544.0 239.4,539.7 239.9,543.1 240.4,546.0 240.9,540.7 241.4,542.3 241.9,540.8 242.4,543.3 242.9,540.1 243.4,546.4 243.9,541.8 244.4,539.2 244.9,547.0 245.4,545.1 245.9,544.2 246.4,544.3 246.9,542.3 247.4,542.6 247.9,544.9 248.4,545.4 248.9,545.5 249.4,543.9 249.9,542.4 250.4,543.1 250.9,546.1 251.4,547.0 251.9,543.0 252.4,542.8 252.9,546.7 253.4,545.6 253.9,545.7 254.4,541.2 254.9,543.4 255.4,543.2 255.9,544.9 256.4,540.7 256.9,547.4 257.4,545.3 257.9,545.6 258.4,542.1 258.9,544.7 259.4,547.8 259.9,541.4 260.4,545.6 260.9,546.5 261.4,543.5 261.9,546.8 262.4,544.4 262.9,547.8 263.4,546.3 263.9,545.7 264.4,549.6 264.9,547.1 265.4,548.1 265.9,542.7 266.4,544.0 266.9,547.2 267.4,547.4 267.9,545.3 268.4,547.1 268.9,543.2 269.4,546.0 269.9,543.1 270.4,546.3 270.9,544.6 271.4,544.2 271.9,545.8 272.4,549.5 272.9,543.5 273.4,544.4 273.9,548.0 274.4,544.9 274.9,549.5 275.4,546.3 275.9,546.0 276.4,546.6 276.9,549.6 277.4,547.3 277.9,547.1 278.4,546.5 278.9,542.8 279.4,544.2 279.9,549.2 280.4,547.8 280.9,547.2 281.4,547.5 281.9,545.1 282.4,547.0 282.9,544.4 283.4,547.2 283.9,544.9 284.4,546.0 284.9,547.4 285.4,545.8 285.9,547.9 286.4,547.5 286.9,547.4 287.4,549.4 287.9,543.7 288.4,543.5 288.9,548.0 289.4,548.7 289.9,550.9 290.4,548.4 290.9,548.6 291.4,545.2 291.9,548.6 292.4,548.4 292.9,545.0 293.4,545.4 293.9,547.0 294.4,547.8 294.9,541.4 295.4,547.5 295.9,547.8 296.4,547.1 296.9,548.0 297.4,548.4 297.9,545.6 298.4,548.4 298.9,547.2 299.4,545.8 299.9,548.2 300.4,550.7 300.9,545.0 301.4,544.7 301.9,544.7 302.4,551.8 302.9,547.5 303.4,548.0 303.9,546.6 304.4,546.3 304.9,544.3 305.4,548.6 305.9,548.8 306.4,544.5 306.9,546.4 307.4,547.0 307.9,548.4 308.4,549.0 308.9,550.7 309.4,551.2 309.9,550.7 310.4,551.3 310.9,546.5 311.4,547.8 311.9,551.0 312.4,549.5 312.9,549.0 313.4,545.3 313.9,545.5 314.4,550.5 314.9,549.8 315.4,548.6 315.9,548.4 316.4,546.0 316.9,550.0 317.4,551.3 317.9,552.4 318.4,549.5 318.9,549.1 319.4,547.5 319.9,551.8 320.4,552.8 320.9,548.5 321.4,550.2 321.9,549.9 322.4,548.7 322.9,545.2 323.4,549.2 323.9,551.0 324.4,547.3 324.9,548.4 325.4,544.0 325.9,552.4 326.4,551.0 326.9,550.2 327.4,549.6 327.9,549.0 328.4,550.1 328.9,549.7 329.4,549.8 329.9,550.2 330.4,550.6 330.9,553.1 331.4,547.8 331.9,550.9 332.4,549.3 332.9,548.5 333.4,546.3 333.9,551.6 334.4,548.8 334.9,549.3 335.4,551.5 335.9,548.8 336.4,550.7 336.9,550.6 337.4,552.2 337.9,552.6 338.4,549.3 338.9,552.5 339.4,550.7 339.9,551.2 340.4,550.6 340.9,552.4 341.4,548.9 341.9,551.5 342.4,553.1 342.9,550.7 343.4,554.7 343.9,549.9 344.4,551.6 344.9,550.5 345.4,550.3 345.9,549.4 346.4,550.5 346.9,551.3 347.4,550.1 347.9,553.0 348.4,554.1 348.9,549.0 349.4,553.0 349.9,551.9 350.4,552.0 350.9,555.8 351.4,553.7 351.9,552.3 352.4,552.1 352.9,548.2 353.4,553.1 353.9,550.6 354.4,552.2 354.9,552.1 355.4,553.5 355.9,555.3 356.4,553.6 356.9,554.1 357.4,551.7 357.9,552.8 358.4,553.4 358.9,549.8 359.4,555.5 359.9,551.0 360.4,550.2 360.9,554.9 361.4,555.7 361.9,551.2 362.4,551.3 362.9,557.4 363.4,552.6 363.9,549.2 364.4,551.5 364.9,555.7 365.4,553.5 365.9,553.7 366.4,554.5 366.9,553.6 367.4,552.0 367.9,550.1 368.4,553.3 368.9,550.9 369.4,552.6 369.9,555.4 370.4,553.5 370.9,552.8 371.4,552.8 371.9,553.9 372.4,554.2 372.9,550.7 373.4,553.1 373.9,555.5 374.4,554.0 374.9,551.6 375.4,551.8 375.9,549.7 376.4,551.6 376.9,555.3 377.4,552.8 377.9,551.6 378.4,552.0 378.9,552.7 379.4,552.7 379.9,552.4 380.4,551.7 380.9,553.9 381.4,555.2 381.9,552.1 382.4,552.1 382.9,554.7 383.4,550.7 383.9,552.1 384.4,552.4 384.9,553.2 385.4,552.5 385.9,551.6 386.4,553.4 386.9,551.2 387.4,550.4 387.9,550.0 388.4,554.1 388.9,550.4 389.4,553.6 389.9,554.0 390.4,554.2 390.9,552.7 391.4,552.2 391.9,553.1 392.4,552.1 392.9,551.1 393.4,554.8 393.9,551.7 394.4,555.6 394.9,553.8 395.4,552.4 395.9,553.7 396.4,554.8 396.9,551.1 397.4,551.7 397.9,551.5 398.4,553.3 398.9,553.6 399.4,553.1 399.9,552.0 400.4,552.3 400.9,554.7 401.4,554.6 401.9,553.3 402.4,551.2 402.9,554.0 403.4,553.5 403.9,553.4 404.4,555.5 404.9,554.2 405.4,551.7 405.9,551.7 406.4,555.0 406.9,553.4 407.4,554.3 407.9,552.9 408.4,551.8 408.9,553.5 409.4,555.3 409.9,553.7 410.4,551.6 410.9,552.8 411.4,552.5 411.9,553.4 412.4,554.6 412.9,555.9 413.4,553.5 413.9,552.7 414.4,553.4 414.9,553.3 415.4,552.7 415.9,553.3 416.4,553.3 416.9,551.7 417.4,554.0 417.9,552.8 418.4,551.9 418.9,553.9 419.4,552.6 419.9,555.6 420.4,553.9 420.9,553.4 421.4,552.2 421.9,552.7 422.4,554.4 422.9,552.3 423.4,554.3 423.9,550.4 424.4,553.5 424.9,554.4 425.4,553.7 425.9,553.3 426.4,554.6 426.9,552.1 427.4,551.9 427.9,553.4 428.4,554.9 428.9,553.9 429.4,553.0 429.9,553.7 430.4,553.9 430.9,551.6 431.4,549.5 431.9,551.9 432.4,551.3 432.9,552.5 433.4,551.7 433.9,552.1 434.4,553.9 434.9,553.4 435.4,553.3 435.9,555.5 436.4,552.7 436.9,552.8 437.4,555.0 437.9,551.8 438.4,551.1 438.9,555.1 439.4,553.8 439.9,554.2 440.4,554.2 440.9,554.6 441.4,552.7 441.9,553.3 442.4,551.9 442.9,553.6 443.4,553.7 443.9,552.8 444.4,554.3 444.9,557.4 445.4,551.9 445.9,554.5 446.4,554.7 446.9,554.9 447.4,552.4 447.9,555.1 448.4,554.3 448.9,553.3 449.4,553.0 449.9,553.8 450.4,554.7 450.9,554.7 451.4,556.6 451.9,553.0 452.4,554.4 452.9,553.0 453.4,554.6 453.9,553.7 454.4,552.7 454.9,551.8 455.4,552.5 455.9,553.9 456.4,555.5 456.9,554.6 457.4,552.0 457.9,552.9 458.4,553.6 458.9,553.4 459.4,553.6 459.9,554.6 460.4,553.8 460.9,552.6 461.4,550.9 461.9,553.1 462.4,551.3 462.9,553.3 463.4,553.9 463.9,551.7 464.4,553.3 464.9,553.0 465.4,556.0 465.9,554.1 466.4,550.9 466.9,554.0 467.4,554.0 467.9,553.2 468.4,552.9 468.9,554.2 469.4,554.3 469.9,554.0 470.4,552.1 470.9,553.1 471.4,551.4 471.9,551.4 472.4,552.7 472.9,552.0 473.4,552.9 473.9,556.8 474.4,554.1 474.9,552.3 475.4,550.6 475.9,552.3 476.4,551.5 476.9,550.5 477.4,554.4 477.9,552.8 478.4,554.0 478.9,557.6 479.4,553.8 479.9,553.6 480.4,554.0 480.9,553.1 481.4,552.4 481.9,553.2 482.4,555.0 482.9,553.2 483.4,551.7 483.9,551.9 484.4,552.2 484.9,553.6 485.4,554.2 485.9,554.2 486.4,555.2 486.9,553.3 487.4,554.8 487.9,554.1 488.4,554.6 488.9,551.2 489.4,555.4 489.9,551.7 490.4,552.2 490.9,554.8 491.4,553.3 491.9,556.1 492.4,554.0 492.9,552.5 493.4,554.0 493.9,553.3 494.4,555.9 494.9,556.0 495.4,554.9 495.9,553.4 496.4,554.0 496.9,555.3 497.4,552.9 497.9,552.9 498.4,555.1 498.9,554.9 499.4,553.7 499.9,553.6 500.4,551.4 500.9,555.6 501.4,553.9 501.9,552.1 502.4,552.5 502.9,552.9 503.4,556.3 503.9,555.0 504.4,552.3 504.9,556.6 505.4,555.9 505.9,552.7 506.4,550.6 506.9,555.4 507.4,553.4 507.9,554.0 508.4,553.5 508.9,555.9 509.4,556.2 509.9,555.3 510.4,554.1 510.9,554.6 511.4,555.1 511.9,552.2 512.4,556.0 512.9,553.9 513.4,554.7 513.9,554.6 514.4,555.6 514.9,555.9 515.4,557.4 515.9,554.0 516.4,553.3 516.9,554.7 517.4,553.7 517.9,555.7 518.4,553.5 518.9,554.8 519.4,555.9 519.9,556.0 520.4,554.9 520.9,556.6 521.4,556.4 521.9,552.5 522.4,555.2 522.9,555.0 523.4,554.4 523.9,554.0 524.4,554.9 524.9,555.4 525.4,555.2 525.9,556.7 526.4,556.2 526.9,554.2 527.4,554.0 527.9,556.1 528.4,554.1 528.9,555.3 529.4,555.7 529.9,556.4 530.4,555.8 530.9,557.0 531.4,554.5 531.9,556.0 532.4,554.3 532.9,555.4 533.4,555.4 533.9,554.0 534.4,551.8 534.9,556.5 535.4,555.8 535.9,555.5 536.4,554.4 536.9,554.9 537.4,556.0 537.9,555.4 538.4,557.0 538.9,555.6 539.4,554.4 539.9,556.3 540.4,554.7 540.9,555.8 541.4,553.1 541.9,555.1 542.4,556.3 542.9,554.7 543.4,555.6 543.9,556.4 544.4,555.7 544.9,558.0 545.4,555.3 545.9,555.5 546.4,555.5 546.9,553.1 547.4,553.7 547.9,556.5 548.4,555.3 548.9,557.6 549.4,555.7 549.9,555.6 550.4,557.2 550.9,556.2 551.4,558.0 551.9,554.5 552.4,556.5 552.9,556.8 553.4,556.7 553.9,557.5 554.4,557.3 554.9,556.0 555.4,555.3 555.9,557.3 556.4,556.1 556.9,557.3 557.4,557.9 557.9,556.4 558.4,555.0 558.9,555.8 559.4,557.2 559.9,555.9 560.4,557.8 560.9,556.3 561.4,556.4 561.9,555.5 562.4,556.2 562.9,557.8 563.4,555.9 563.9,555.9 564.4,555.3 564.9,557.4 565.4,554.4 565.9,555.5 566.4,557.6 566.9,558.3 567.4,556.1 567.9,557.7 568.4,553.8 568.9,557.4 569.4,556.8 569.9,554.9 570.4,554.1 570.9,555.8 571.4,556.8 571.9,557.0 572.4,556.7 572.9,557.6 573.4,557.5 573.9,554.8 574.4,556.1 574.9,555.9 575.4,558.0 575.9,556.0 576.4,558.0 576.9,556.8 577.4,559.7 577.9,556.6 578.4,556.7 578.9,556.6 579.4,556.9 579.9,559.9 580.4,556.1 580.9,555.6 581.4,556.5 581.9,557.7 582.4,555.5 582.9,557.9 583.4,557.8 583.9,556.6 584.4,556.5 584.9,555.8 585.4,556.5 585.9,555.8 586.4,558.5 586.9,559.1 587.4,556.6 587.9,556.9 588.4,554.5 588.9,556.3 589.4,557.4 589.9,557.4 590.4,557.2 590.9,558.1 591.4,557.2 591.9,556.6 592.4,559.2 592.9,554.6 593.4,555.6 593.9,556.2 594.4,556.2 594.9,556.1 595.4,556.9 595.9,556.3 596.4,557.1 596.9,558.0 597.4,557.3 597.9,557.4 598.4,556.0 598.9,555.8 599.4,556.9 599.9,558.5 600.4,557.8 600.9,558.8 601.4,558.7 601.9,558.8 602.4,556.4 602.9,559.0 603.4,558.4 603.9,560.2 604.4,558.3 604.9,557.9 605.4,557.4 605.9,557.8 606.4,555.4 606.9,557.3 607.4,557.6 607.9,558.9 608.4,556.8 608.9,557.9 609.4,560.1 609.9,557.0 610.4,558.8 610.9,557.1 611.4,557.7 611.9,558.4 612.4,559.0 612.9,557.2 613.4,556.6 613.9,559.9 614.4,558.2 614.9,559.0 615.4,559.2 615.9,559.0 616.4,557.7 616.9,557.9 617.4,556.1 617.9,558.3 618.4,557.5 618.9,558.1 619.4,560.6 619.9,559.1 620.4,558.3 620.9,556.5 621.4,559.2 621.9,560.3 622.4,557.3 622.9,558.9 623.4,557.7 623.9,558.2 624.4,558.0 624.9,556.4 625.4,557.8 625.9,556.4 626.4,560.3 626.9,559.9 627.4,558.7 627.9,559.0 628.4,558.7 628.9,558.9 629.4,559.0 629.9,558.4 630.4,558.5 630.9,557.1 631.4,557.5 631.9,558.1 632.4,559.1 632.9,558.4 633.4,561.3 633.9,558.7 634.4,558.5 634.9,559.5 635.4,560.3 635.9,561.4 636.4,560.3 636.9,558.3 637.4,558.9 637.9,560.5 638.4,559.5 638.9,560.2 639.4,559.1 639.9,561.3 640.4,561.1 640.9,560.7 641.4,559.5 641.9,557.3 642.4,557.7 642.9,559.8 643.4,560.3 643.9,555.8 644.4,558.9 644.9,561.0 645.4,560.7 645.9,558.9 646.4,560.4 646.9,559.6 647.4,559.3 647.9,561.1 648.4,561.1 648.9,559.0 649.4,558.5 649.9,558.1 650.4,558.0 650.9,561.5 651.4,562.2 651.9,560.1 652.4,561.2 652.9,559.0 653.4,559.8 653.9,561.1 654.4,560.3 654.9,559.9 655.4,557.9 655.9,558.2 656.4,559.5 656.9,559.3 657.4,560.0 657.9,559.3 658.4,559.8 658.9,560.2 659.4,560.8 659.9,560.3 660.4,559.5 660.9,559.9 661.4,561.4 661.9,560.0 662.4,559.1 662.9,559.0 663.4,560.7 663.9,561.1 664.4,561.9 664.9,560.0 665.4,562.1 665.9,560.0 666.4,560.2 666.9,559.8 667.4,561.1 667.9,561.8 668.4,560.5 668.9,559.9 669.4,558.6 669.9,560.8 670.4,560.2 670.9,560.4 671.4,559.9 671.9,559.6 672.4,560.2 672.9,561.3 673.4,561.9 673.9,560.7 674.4,561.2 674.9,560.5 675.4,560.7 675.9,559.1 676.4,562.0 676.9,561.6 677.4,562.7 677.9,560.1 678.4,561.1 678.9,559.8 679.4,561.3 679.9,560.8 680.4,561.9 680.9,560.8 681.4,561.9 681.9,560.5 682.4,561.8 682.9,560.7 683.4,560.6 683.9,561.3 684.4,561.6 684.9,559.4 685.4,559.3 685.9,561.5 686.4,561.2 686.9,558.7 687.4,559.2 687.9,560.3 688.4,561.7 688.9,561.6 689.4,562.6 689.9,562.8 690.4,564.4 690.9,559.6 691.4,561.4 691.9,562.8 692.4,559.9 692.9,559.7 693.4,561.8 693.9,562.9 694.4,563.1 694.9,559.3 695.4,560.1 695.9,561.5 696.4,561.0 696.9,562.0 697.4,561.8 697.9,563.9 698.4,561.6 698.9,561.9 699.4,561.8 699.9,563.1 700.4,560.4 700.9,562.2 701.4,560.8 701.9,560.0 702.4,563.3 702.9,562.5 703.4,563.6 703.9,562.2 704.4,562.7 704.9,562.1 705.4,562.6 705.9,561.4 706.4,564.1 706.9,560.9 707.4,564.1 707.9,561.8 708.4,563.1 708.9,562.2 709.4,562.6 709.9,563.9 710.4,562.3 710.9,560.9 711.4,562.4 711.9,563.0 712.4,559.1 712.9,563.4 713.4,563.6 713.9,560.0 714.4,562.0 714.9,563.3 715.4,560.8 715.9,561.8 716.4,561.9 716.9,563.0 717.4,563.7 717.9,562.3 718.4,562.4 718.9,563.5 719.4,563.1 719.9,562.3 720.4,564.1 720.9,560.7 721.4,562.6 721.9,561.9 722.4,561.9 722.9,562.7 723.4,562.6 723.9,565.6 724.4,563.4 724.9,563.0 725.4,564.7 725.9,563.9 726.4,560.3 726.9,562.8 727.4,563.6 727.9,561.9 728.4,563.0 728.9,562.1 729.4,563.2 729.9,560.7 730.4,560.3 730.9,562.0 731.4,563.0 731.9,564.4 732.4,562.4 732.9,561.8 733.4,564.0 733.9,562.9 734.4,565.1 734.9,562.7 735.4,560.4 735.9,561.9 736.4,561.7 736.9,561.1 737.4,561.9 737.9,562.1 738.4,562.6 738.9,562.3 739.4,563.5 739.9,563.5 740.4,563.2 740.9,563.3 741.4,560.6 741.9,560.9 742.4,561.9 742.9,563.4 743.4,561.2 743.9,562.6 744.4,563.4 744.9,565.6 745.4,563.5 745.9,562.5 746.4,564.5 746.9,563.4 747.4,562.8 747.9,564.6 748.4,562.0 748.9,563.4 749.4,563.3 749.9,564.4 750.4,561.8 750.9,561.6 751.4,562.8 751.9,562.9 752.4,563.3 752.9,562.8 753.4,563.9 753.9,564.2 754.4,563.6 754.9,562.0 755.4,564.8 755.9,561.4 756.4,563.1 756.9,564.5 757.4,562.6 757.9,565.0 758.4,565.8 758.9,565.4 759.4,564.0 759.9,564.7 760.4,562.8 760.9,564.0 761.4,564.1 761.9,563.6 762.4,563.7 762.9,563.3 763.4,561.1 763.9,564.1 764.4,564.0 764.9,566.2 765.4,564.5 765.9,563.7 766.4,564.7 766.9,564.4 767.4,563.6 767.9,563.2 768.4,561.8 768.9,563.8 769.4,565.7 769.9,561.3 770.4,562.5 770.9,564.7 771.4,564.0 771.9,564.3 772.4,561.4 772.9,563.0 773.4,564.4 773.9,564.5 774.4,564.2 774.9,562.7 775.4,564.5 775.9,562.3 776.4,562.7 776.9,562.4 777.4,565.7 777.9,563.4 778.4,564.0 778.9,561.1 779.4,565.3 779.9,564.5 780.4,561.8 780.9,561.9 781.4,566.0 781.9,562.8 782.4,566.3 782.9,563.4 783.4,560.8"/>
<polyline fill="none" stroke="#990000" stroke-width="2.2" stroke-linejoin="round" points="43.4,426.4 44.4,426.3 45.4,422.0 46.4,423.9 47.4,423.7 48.4,423.7 49.4,430.6 50.4,422.0 51.4,421.7 52.4,420.7 53.4,425.3 54.4,420.3 55.4,421.3 56.4,424.5 57.4,424.1 58.4,418.4 59.4,427.5 60.4,422.5 61.4,424.6 62.4,422.7 63.4,427.0 64.4,420.5 65.4,419.7 66.4,423.5 67.4,427.4 68.4,424.2 69.4,428.2 70.4,431.2 71.4,423.1 72.4,432.7 73.4,433.0 74.4,429.0 75.4,431.2 76.4,430.7 77.4,435.3 78.4,431.7 79.4,436.2 80.4,439.2 81.4,431.0 82.4,438.4 83.4,438.0 84.4,437.9 85.4,441.5 86.4,440.7 87.4,437.5 88.4,441.0 89.4,443.5 90.4,442.4 91.4,441.8 92.4,453.5 93.4,451.6 94.4,452.2 95.4,449.9 96.4,444.9 97.4,450.6 98.4,453.7 99.4,451.9 100.4,452.4 101.4,455.8 102.4,461.4 103.4,457.4 104.4,457.9 105.4,456.6 106.4,463.5 107.4,461.5 108.4,461.5 109.4,461.9 110.4,462.2 111.4,465.2 112.4,470.7 113.4,466.7 114.4,468.7 115.4,466.3 116.4,469.7 117.4,466.1 118.4,473.8 119.4,469.8 120.4,473.0 121.4,472.9 122.4,476.8 123.4,475.6 124.4,476.5 125.4,472.1 126.4,474.3 127.4,475.4 128.4,476.6 129.4,477.8 130.4,482.5 131.4,480.9 132.4,481.6 133.4,479.9 134.4,480.4 135.4,479.8 136.4,485.7 137.4,483.9 138.4,485.6 139.4,484.9 140.4,482.6 141.4,484.8 142.4,480.4 143.4,487.0 144.4,485.7 145.4,486.4 146.4,486.4 147.4,487.7 148.4,486.1 149.4,486.9 150.4,485.6 151.4,486.9 152.4,488.5 153.4,490.1 154.4,487.7 155.4,485.9 156.4,485.2 157.4,489.0 158.4,488.3 159.4,491.4 160.4,493.9 161.4,489.2 162.4,493.8 163.4,493.9 164.4,489.7 165.4,491.0 166.4,493.7 167.4,490.8 168.4,490.7 169.4,494.5 170.4,491.9 171.4,492.0 172.4,494.7 173.4,493.8 174.4,494.2 175.4,496.7 176.4,496.5 177.4,490.8 178.4,496.1 179.4,494.4 180.4,495.2 181.4,496.3 182.4,498.4 183.4,496.6 184.4,495.1 185.4,496.3 186.4,492.8 187.4,496.8 188.4,496.4 189.4,493.9 190.4,493.7 191.4,493.9 192.4,495.0 193.4,497.7 194.4,496.5 195.4,495.7 196.4,496.6 197.4,499.4 198.4,496.8 199.4,496.0 200.4,501.4 201.4,496.2 202.4,498.6 203.4,499.4 204.4,498.2 205.4,497.7 206.4,500.3 207.4,498.5 208.4,499.4 209.4,498.4 210.4,501.3 211.4,497.2 212.4,496.7 213.4,497.5 214.4,498.7 215.4,498.6 216.4,499.3 217.4,498.1 218.4,499.9 219.4,497.1 220.4,497.4 221.4,498.9 222.4,498.3 223.4,498.2 224.4,498.6 225.4,498.5 226.4,500.0 227.4,500.6 228.4,501.4 229.4,499.9 230.4,498.7 231.4,498.3 232.4,498.3 233.4,497.6 234.4,500.7 235.4,502.2 236.4,499.8 237.4,500.3 238.4,497.0 239.4,499.9 240.4,499.2 241.4,500.2 242.4,499.1 243.4,499.2 244.4,499.1 245.4,499.4 246.4,502.8 247.4,501.1 248.4,498.5 249.4,500.0 250.4,499.9 251.4,502.8 252.4,498.2 253.4,501.1 254.4,501.4 255.4,503.0 256.4,502.5 257.4,500.3 258.4,498.6 259.4,499.4 260.4,499.8 261.4,500.3 262.4,499.8 263.4,499.1 264.4,501.4 265.4,500.9 266.4,500.3 267.4,500.3 268.4,500.1 269.4,499.7 270.4,503.7 271.4,500.6 272.4,500.3 273.4,502.7 274.4,500.7 275.4,501.5 276.4,500.1 277.4,500.8 278.4,499.3 279.4,501.8 280.4,503.5 281.4,501.7 282.4,501.8 283.4,502.7 284.4,502.7 285.4,500.7 286.4,500.9 287.4,501.3 288.4,503.0 289.4,500.6 290.4,501.2 291.4,501.6 292.4,501.9 293.4,502.1 294.4,501.6 295.4,503.2 296.4,501.3 297.4,504.0 298.4,502.3 299.4,502.8 300.4,501.0 301.4,502.5 302.4,501.1 303.4,500.9 304.4,503.0 305.4,502.3 306.4,501.3 307.4,500.6 308.4,503.0 309.4,502.4 310.4,503.1 311.4,503.3 312.4,503.5 313.4,500.6 314.4,499.8 315.4,503.1 316.4,501.0 317.4,503.5 318.4,503.0 319.4,502.7 320.4,502.6 321.4,501.4 322.4,502.7 323.4,502.6 324.4,503.1 325.4,504.4 326.4,502.4 327.4,503.4 328.4,504.3 329.4,502.4 330.4,502.3 331.4,502.4 332.4,502.2 333.4,501.8 334.4,503.5 335.4,504.2 336.4,503.6 337.4,502.8 338.4,502.8 339.4,503.4 340.4,502.7 341.4,503.2 342.4,502.9 343.4,503.9 344.4,503.8 345.4,503.5 346.4,502.6 347.4,503.1 348.4,503.9 349.4,504.6 350.4,503.2 351.4,505.2 352.4,503.3 353.4,503.3 354.4,503.8 355.4,503.2 356.4,503.7 357.4,503.7 358.4,503.4 359.4,503.5 360.4,504.0 361.4,504.5 362.4,505.1 363.4,503.9 364.4,503.0 365.4,503.5 366.4,502.9 367.4,503.9 368.4,503.5 369.4,504.1 370.4,503.7 371.4,503.9 372.4,503.7 373.4,504.8 374.4,503.0 375.4,504.5 376.4,504.6 377.4,504.3 378.4,504.1 379.4,504.2 380.4,503.8 381.4,503.5 382.4,504.4 383.4,504.4 384.4,504.5 385.4,504.0 386.4,504.6 387.4,504.4 388.4,505.0 389.4,504.1 390.4,503.1 391.4,503.6 392.4,504.3 393.4,503.5 394.4,504.4 395.4,503.8 396.4,504.2 397.4,504.3 398.4,503.8 399.4,504.3 400.4,504.7 401.4,504.0 402.4,504.1 403.4,503.9 404.4,504.5 405.4,504.6 406.4,503.9 407.4,504.0 408.4,504.6 409.4,504.2 410.4,504.9 411.4,504.2 412.4,504.0 413.4,503.8 414.4,504.0 415.4,503.6 416.4,504.4 417.4,504.9 418.4,503.6 419.4,503.7 420.4,503.8 421.4,504.2 422.4,503.9 423.4,504.6 424.4,504.7 425.4,504.0 426.4,504.2 427.4,504.0 428.4,504.6 429.4,505.0 430.4,504.0 431.4,504.2 432.4,503.9 433.4,504.6 434.4,504.6 435.4,504.1 436.4,504.3 437.4,505.3 438.4,505.2 439.4,504.1 440.4,504.4 441.4,504.3 442.4,504.6 443.4,504.0 444.4,504.7 445.4,504.9 446.4,505.0 447.4,503.9 448.4,505.2 449.4,504.2 450.4,504.0 451.4,505.0 452.4,504.9 453.4,504.5 454.4,504.9 455.4,504.8 456.4,504.7 457.4,504.2 458.4,504.5 459.4,504.6 460.4,505.1 461.4,505.2 462.4,504.6 463.4,504.4 464.4,504.4 465.4,505.0 466.4,504.4 467.4,505.5 468.4,504.8 469.4,504.8 470.4,505.0 471.4,504.7 472.4,504.4 473.4,504.8 474.4,504.9 475.4,504.6 476.4,504.7 477.4,504.8 478.4,504.1 479.4,504.6 480.4,504.8 481.4,504.5 482.4,505.1 483.4,505.1 484.4,504.1 485.4,504.7 486.4,505.1 487.4,504.8 488.4,505.1 489.4,505.2 490.4,504.4 491.4,505.1 492.4,504.7 493.4,504.2 494.4,505.2 495.4,504.8 496.4,505.0 497.4,505.3 498.4,505.4 499.4,505.0 500.4,504.8 501.4,504.9 502.4,505.5 503.4,505.0 504.4,505.8 505.4,505.7 506.4,504.9 507.4,505.8 508.4,505.0 509.4,505.1 510.4,505.2 511.4,504.8 512.4,505.3 513.4,505.5 514.4,506.1 515.4,505.7 516.4,505.1 517.4,505.4 518.4,505.7 519.4,505.2 520.4,505.0 521.4,505.2 522.4,504.9 523.4,505.3 524.4,505.1 525.4,505.7 526.4,505.2 527.4,504.9 528.4,505.6 529.4,505.2 530.4,505.0 531.4,505.4 532.4,505.0 533.4,504.7 534.4,504.9 535.4,505.7 536.4,505.8 537.4,505.2 538.4,505.5 539.4,504.7 540.4,505.6 541.4,505.3 542.4,505.5 543.4,505.2 544.4,505.3 545.4,504.7 546.4,505.5 547.4,505.1 548.4,505.4 549.4,505.9 550.4,504.5 551.4,505.7 552.4,505.5 553.4,505.5 554.4,505.7 555.4,505.2 556.4,504.7 557.4,505.1 558.4,505.2 559.4,504.5 560.4,505.5 561.4,505.5 562.4,504.9 563.4,505.4 564.4,505.4 565.4,505.3 566.4,505.3 567.4,505.7 568.4,505.4 569.4,506.1 570.4,505.4 571.4,505.8 572.4,505.9 573.4,504.8 574.4,505.5 575.4,505.5 576.4,505.6 577.4,505.6 578.4,505.8 579.4,505.7 580.4,505.3 581.4,505.8 582.4,505.4 583.4,505.6 584.4,505.2 585.4,505.0 586.4,505.0 587.4,505.9 588.4,505.7 589.4,505.2 590.4,505.7 591.4,505.1 592.4,505.2 593.4,504.8 594.4,505.3 595.4,505.6 596.4,506.3 597.4,505.3 598.4,505.5 599.4,505.6 600.4,505.8 601.4,505.2 602.4,505.1 603.4,505.8 604.4,505.0 605.4,505.7 606.4,505.3 607.4,505.5 608.4,505.7 609.4,504.9 610.4,506.2 611.4,505.0 612.4,505.1 613.4,505.7 614.4,504.4 615.4,505.2 616.4,505.6 617.4,505.4 618.4,505.5 619.4,505.4 620.4,505.4 621.4,505.4 622.4,506.2 623.4,505.7 624.4,505.2 625.4,505.4 626.4,505.8 627.4,506.0 628.4,505.1 629.4,505.5 630.4,504.7 631.4,505.3 632.4,506.1 633.4,505.7 634.4,505.4 635.4,505.1 636.4,505.5 637.4,505.5 638.4,505.6 639.4,505.8 640.4,505.6 641.4,504.9 642.4,505.3 643.4,505.4 644.4,505.1 645.4,506.0 646.4,505.2 647.4,505.7 648.4,505.7 649.4,505.6 650.4,505.6 651.4,505.3 652.4,505.6 653.4,505.9 654.4,505.2 655.4,506.0 656.4,505.4 657.4,505.9 658.4,505.5 659.4,506.2 660.4,506.1 661.4,506.2 662.4,506.3 663.4,505.5 664.4,504.6 665.4,505.1 666.4,505.2 667.4,505.9 668.4,505.9 669.4,505.3 670.4,505.8 671.4,505.5 672.4,505.4 673.4,505.7 674.4,505.2 675.4,505.9 676.4,505.8 677.4,506.2 678.4,506.0 679.4,505.8 680.4,506.1 681.4,505.6 682.4,505.7 683.4,505.3 684.4,505.5 685.4,505.7 686.4,506.0 687.4,506.2 688.4,506.2 689.4,505.6 690.4,505.7 691.4,505.4 692.4,505.2 693.4,506.0 694.4,505.3 695.4,506.0 696.4,505.6 697.4,505.7 698.4,506.1 699.4,505.5 700.4,505.9 701.4,505.5 702.4,505.7 703.4,505.7 704.4,505.8 705.4,505.3 706.4,505.7 707.4,505.9 708.4,505.5 709.4,506.0 710.4,505.9 711.4,505.7 712.4,505.6 713.4,505.8 714.4,505.5 715.4,505.9 716.4,505.8 717.4,506.2 718.4,505.8 719.4,505.5 720.4,505.9 721.4,505.7 722.4,506.3 723.4,505.5 724.4,505.6 725.4,505.7 726.4,505.7 727.4,505.8 728.4,506.6 729.4,505.8 730.4,506.2 731.4,505.6 732.4,505.6 733.4,505.8 734.4,506.3 735.4,505.9 736.4,506.0 737.4,505.7 738.4,505.8 739.4,506.6 740.4,505.5 741.4,505.2 742.4,505.8 743.4,505.5 744.4,505.4 745.4,505.2 746.4,506.0 747.4,505.8 748.4,505.7 749.4,506.1 750.4,506.2 751.4,505.9 752.4,506.1 753.4,505.4 754.4,506.0 755.4,505.6 756.4,505.8 757.4,506.3 758.4,505.9 759.4,506.5 760.4,506.3 761.4,506.1 762.4,505.5 763.4,505.9 764.4,506.0 765.4,506.2 766.4,505.9 767.4,505.5 768.4,506.2 769.4,505.4 770.4,505.7 771.4,505.3 772.4,505.9 773.4,506.2 774.4,506.2 775.4,505.6 776.4,506.1 777.4,506.0 778.4,506.1 779.4,506.2 780.4,506.1 781.4,506.5 782.4,505.6 783.4,506.1"/><polyline fill="none" stroke="#990000" stroke-width="1.5" stroke-linejoin="round" points="43.4,422.6 43.9,423.9 44.4,429.3 44.9,426.2 45.4,419.3 45.9,424.0 46.4,422.1 46.9,424.3 47.4,419.0 47.9,424.3 48.4,424.2 48.9,428.0 49.4,424.2 49.9,424.6 50.4,418.7 50.9,429.3 51.4,417.1 51.9,425.6 52.4,421.3 52.9,419.5 53.4,420.0 53.9,419.8 54.4,422.7 54.9,421.3 55.4,425.8 55.9,416.4 56.4,421.6 56.9,419.1 57.4,423.8 57.9,415.6 58.4,420.6 58.9,422.2 59.4,417.4 59.9,424.3 60.4,422.1 60.9,424.4 61.4,424.3 61.9,418.9 62.4,419.4 62.9,421.0 63.4,423.7 63.9,423.9 64.4,419.7 64.9,419.9 65.4,419.5 65.9,420.3 66.4,421.5 66.9,422.2 67.4,428.7 67.9,422.3 68.4,423.5 68.9,426.1 69.4,422.8 69.9,424.9 70.4,426.4 70.9,428.9 71.4,423.9 71.9,431.6 72.4,427.5 72.9,429.4 73.4,431.7 73.9,431.7 74.4,433.2 74.9,431.4 75.4,431.3 75.9,432.5 76.4,429.5 76.9,435.6 77.4,430.8 77.9,429.9 78.4,438.8 78.9,433.5 79.4,431.2 79.9,439.3 80.4,434.2 80.9,438.2 81.4,433.9 81.9,435.9 82.4,432.8 82.9,432.8 83.4,435.7 83.9,438.5 84.4,441.2 84.9,445.8 85.4,437.6 85.9,443.1 86.4,439.5 86.9,441.1 87.4,438.2 87.9,438.6 88.4,440.8 88.9,440.2 89.4,443.5 89.9,442.3 90.4,447.5 90.9,445.3 91.4,445.9 91.9,448.8 92.4,447.8 92.9,447.0 93.4,447.4 93.9,447.8 94.4,451.2 94.9,451.0 95.4,450.4 95.9,451.9 96.4,449.2 96.9,452.1 97.4,448.0 97.9,454.9 98.4,452.4 98.9,453.1 99.4,454.5 99.9,453.5 100.4,453.4 100.9,457.1 101.4,455.1 101.9,453.1 102.4,456.7 102.9,452.2 103.4,460.3 103.9,456.6 104.4,457.5 104.9,463.0 105.4,463.2 105.9,459.1 106.4,460.8 106.9,462.3 107.4,464.1 107.9,460.6 108.4,461.7 108.9,464.6 109.4,463.0 109.9,464.6 110.4,464.7 110.9,461.4 111.4,462.4 111.9,459.0 112.4,464.6 112.9,468.5 113.4,463.7 113.9,469.2 114.4,469.1 114.9,467.2 115.4,467.7 115.9,468.3 116.4,466.6 116.9,468.2 117.4,469.1 117.9,470.8 118.4,471.5 118.9,468.6 119.4,472.3 119.9,469.3 120.4,471.0 120.9,472.4 121.4,472.0 121.9,472.2 122.4,473.4 122.9,472.1 123.4,472.3 123.9,473.6 124.4,476.4 124.9,474.7 125.4,479.3 125.9,476.3 126.4,470.4 126.9,476.1 127.4,480.9 127.9,478.1 128.4,477.7 128.9,477.4 129.4,482.2 129.9,481.9 130.4,481.6 130.9,481.4 131.4,483.7 131.9,482.8 132.4,479.0 132.9,483.2 133.4,482.3 133.9,481.9 134.4,483.9 134.9,482.7 135.4,477.0 135.9,486.1 136.4,485.3 136.9,483.2 137.4,482.9 137.9,484.2 138.4,481.5 138.9,484.7 139.4,483.9 139.9,483.8 140.4,482.8 140.9,483.5 141.4,487.1 141.9,487.6 142.4,486.1 142.9,485.2 143.4,483.7 143.9,486.9 144.4,488.7 144.9,482.7 145.4,488.1 145.9,481.9 146.4,485.5 146.9,486.9 147.4,483.8 147.9,483.6 148.4,486.9 148.9,488.3 149.4,485.9 149.9,489.5 150.4,485.7 150.9,490.5 151.4,487.7 151.9,488.0 152.4,488.9 152.9,488.5 153.4,491.5 153.9,492.4 154.4,489.5 154.9,488.4 155.4,486.7 155.9,487.6 156.4,489.2 156.9,489.2 157.4,489.5 157.9,489.7 158.4,490.8 158.9,487.6 159.4,488.4 159.9,492.4 160.4,492.0 160.9,489.7 161.4,493.1 161.9,489.8 162.4,490.7 162.9,488.0 163.4,492.9 163.9,491.5 164.4,493.6 164.9,493.1 165.4,492.1 165.9,492.4 166.4,494.3 166.9,492.1 167.4,492.2 167.9,492.7 168.4,494.1 168.9,494.4 169.4,496.2 169.9,492.9 170.4,495.3 170.9,492.1 171.4,494.3 171.9,493.6 172.4,496.4 172.9,494.5 173.4,492.8 173.9,494.6 174.4,494.3 174.9,493.2 175.4,493.3 175.9,492.3 176.4,498.6 176.9,494.2 177.4,495.7 177.9,492.1 178.4,492.3 178.9,494.0 179.4,494.0 179.9,495.7 180.4,492.8 180.9,495.4 181.4,497.1 181.9,493.2 182.4,496.3 182.9,493.3 183.4,495.5 183.9,495.6 184.4,497.9 184.9,494.1 185.4,495.6 185.9,497.1 186.4,493.6 186.9,495.5 187.4,494.3 187.9,494.6 188.4,496.9 188.9,497.0 189.4,500.1 189.9,498.3 190.4,498.2 190.9,496.0 191.4,495.8 191.9,496.6 192.4,492.9 192.9,499.1 193.4,495.5 193.9,495.0 194.4,496.0 194.9,498.2 195.4,498.8 195.9,496.4 196.4,497.7 196.9,497.0 197.4,495.6 197.9,497.5 198.4,497.3 198.9,495.0 199.4,499.1 199.9,495.0 200.4,497.8 200.9,496.0 201.4,496.4 201.9,496.6 202.4,498.8 202.9,495.9 203.4,497.5 203.9,500.2 204.4,496.9 204.9,497.9 205.4,499.0 205.9,497.2 206.4,498.8 206.9,497.2 207.4,499.2 207.9,498.4 208.4,497.0 208.9,500.4 209.4,498.3 209.9,498.1 210.4,497.2 210.9,497.9 211.4,498.5 211.9,498.9 212.4,500.2 212.9,496.9 213.4,498.3 213.9,500.5 214.4,499.1 214.9,499.4 215.4,501.1 215.9,499.4 216.4,499.6 216.9,499.0 217.4,501.5 217.9,500.5 218.4,498.1 218.9,499.9 219.4,497.6 219.9,500.7 220.4,500.1 220.9,499.0 221.4,498.8 221.9,496.9 222.4,500.3 222.9,499.2 223.4,499.0 223.9,500.3 224.4,498.6 224.9,498.7 225.4,498.6 225.9,497.8 226.4,502.6 226.9,499.3 227.4,499.1 227.9,500.7 228.4,495.6 228.9,499.6 229.4,499.6 229.9,498.4 230.4,500.2 230.9,497.2 231.4,499.7 231.9,500.8 232.4,497.0 232.9,497.9 233.4,499.5 233.9,499.7 234.4,498.9 234.9,500.2 235.4,500.0 235.9,498.1 236.4,499.6 236.9,498.2 237.4,497.3 237.9,496.9 238.4,501.0 238.9,499.6 239.4,502.1 239.9,498.1 240.4,499.4 240.9,500.2 241.4,499.7 241.9,500.4 242.4,500.0 242.9,499.2 243.4,497.3 243.9,498.9 244.4,501.9 244.9,500.8 245.4,501.5 245.9,499.3 246.4,499.8 246.9,499.1 247.4,500.5 247.9,500.1 248.4,500.6 248.9,502.0 249.4,499.2 249.9,500.9 250.4,498.6 250.9,501.3 251.4,499.7 251.9,500.1 252.4,500.3 252.9,501.9 253.4,500.2 253.9,499.7 254.4,499.0 254.9,500.5 255.4,499.4 255.9,499.7 256.4,500.2 256.9,501.0 257.4,499.6 257.9,501.0 258.4,502.1 258.9,498.8 259.4,501.8 259.9,502.6 260.4,499.8 260.9,501.0 261.4,499.0 261.9,500.8 262.4,500.1 262.9,500.8 263.4,499.6 263.9,499.7 264.4,500.1 264.9,499.8 265.4,499.9 265.9,500.4 266.4,499.5 266.9,500.5 267.4,501.1 267.9,498.4 268.4,500.8 268.9,500.0 269.4,499.6 269.9,499.4 270.4,499.9 270.9,500.0 271.4,501.1 271.9,499.6 272.4,501.8 272.9,500.1 273.4,501.5 273.9,501.9 274.4,499.8 274.9,501.9 275.4,503.0 275.9,500.6 276.4,501.6 276.9,500.9 277.4,501.2 277.9,500.9 278.4,500.7 278.9,501.8 279.4,502.0 279.9,501.2 280.4,502.6 280.9,502.3 281.4,502.0 281.9,500.7 282.4,503.1 282.9,502.6 283.4,499.5 283.9,500.5 284.4,501.1 284.9,502.3 285.4,502.6 285.9,501.3 286.4,501.8 286.9,502.2 287.4,500.5 287.9,502.2 288.4,501.4 288.9,501.8 289.4,501.7 289.9,500.7 290.4,500.9 290.9,501.8 291.4,501.9 291.9,501.6 292.4,502.7 292.9,501.5 293.4,500.9 293.9,501.6 294.4,501.8 294.9,501.8 295.4,502.9 295.9,502.4 296.4,502.8 296.9,502.5 297.4,501.9 297.9,502.9 298.4,501.8 298.9,502.3 299.4,501.3 299.9,502.2 300.4,501.9 300.9,502.4 301.4,503.6 301.9,504.0 302.4,503.0 302.9,502.2 303.4,502.9 303.9,502.4 304.4,501.8 304.9,502.2 305.4,502.1 305.9,501.8 306.4,503.4 306.9,501.9 307.4,502.0 307.9,502.9 308.4,501.8 308.9,501.5 309.4,501.8 309.9,502.8 310.4,502.7 310.9,502.7 311.4,502.1 311.9,501.8 312.4,503.2 312.9,501.4 313.4,502.4 313.9,501.6 314.4,502.3 314.9,502.5 315.4,503.5 315.9,500.5 316.4,503.6 316.9,502.0 317.4,502.8 317.9,503.2 318.4,502.1 318.9,502.6 319.4,503.0 319.9,502.6 320.4,502.2 320.9,502.9 321.4,502.8 321.9,501.7 322.4,503.7 322.9,503.0 323.4,501.2 323.9,502.3 324.4,504.0 324.9,503.9 325.4,503.1 325.9,501.8 326.4,502.7 326.9,503.6 327.4,503.2 327.9,502.7 328.4,502.5 328.9,503.5 329.4,502.9 329.9,503.2 330.4,503.3 330.9,504.1 331.4,503.2 331.9,503.2 332.4,501.9 332.9,503.8 333.4,503.7 333.9,503.1 334.4,501.7 334.9,502.8 335.4,503.2 335.9,504.5 336.4,503.5 336.9,503.7 337.4,503.7 337.9,504.0 338.4,502.5 338.9,502.7 339.4,502.5 339.9,503.1 340.4,503.1 340.9,503.4 341.4,502.7 341.9,503.4 342.4,502.8 342.9,504.6 343.4,503.0 343.9,504.9 344.4,504.3 344.9,502.7 345.4,504.0 345.9,503.8 346.4,502.5 346.9,503.8 347.4,503.4 347.9,503.7 348.4,503.0 348.9,503.4 349.4,503.7 349.9,503.4 350.4,503.2 350.9,503.4 351.4,503.0 351.9,503.7 352.4,502.1 352.9,504.4 353.4,503.6 353.9,503.8 354.4,504.1 354.9,502.9 355.4,504.8 355.9,503.0 356.4,503.9 356.9,503.8 357.4,504.4 357.9,503.7 358.4,502.9 358.9,503.9 359.4,502.4 359.9,503.6 360.4,503.5 360.9,504.5 361.4,503.6 361.9,503.5 362.4,503.4 362.9,503.3 363.4,503.5 363.9,504.1 364.4,503.1 364.9,503.7 365.4,503.1 365.9,503.7 366.4,503.9 366.9,503.2 367.4,503.6 367.9,503.9 368.4,504.2 368.9,504.3 369.4,503.8 369.9,503.4 370.4,503.1 370.9,504.3 371.4,504.5 371.9,504.1 372.4,504.6 372.9,503.7 373.4,503.7 373.9,504.6 374.4,503.5 374.9,504.2 375.4,504.1 375.9,504.0 376.4,504.7 376.9,503.6 377.4,503.8 377.9,503.0 378.4,503.5 378.9,503.8 379.4,503.8 379.9,503.9 380.4,504.1 380.9,503.7 381.4,503.2 381.9,504.1 382.4,504.2 382.9,503.5 383.4,503.7 383.9,504.8 384.4,504.5 384.9,504.5 385.4,504.3 385.9,504.1 386.4,503.9 386.9,504.3 387.4,504.0 387.9,503.9 388.4,504.1 388.9,504.1 389.4,504.4 389.9,503.7 390.4,505.1 390.9,503.7 391.4,503.9 391.9,504.5 392.4,503.8 392.9,503.9 393.4,504.1 393.9,503.0 394.4,503.9 394.9,503.8 395.4,504.0 395.9,504.3 396.4,504.4 396.9,504.7 397.4,504.7 397.9,504.5 398.4,504.2 398.9,504.5 399.4,503.8 399.9,504.1 400.4,504.7 400.9,504.5 401.4,503.7 401.9,504.0 402.4,504.5 402.9,504.4 403.4,504.6 403.9,503.6 404.4,503.8 404.9,504.1 405.4,503.9 405.9,504.2 406.4,504.2 406.9,504.3 407.4,504.2 407.9,504.4 408.4,504.5 408.9,504.3 409.4,503.8 409.9,504.7 410.4,504.3 410.9,504.4 411.4,504.3 411.9,503.7 412.4,504.5 412.9,504.0 413.4,503.9 413.9,504.7 414.4,504.2 414.9,504.4 415.4,504.6 415.9,504.8 416.4,503.7 416.9,504.0 417.4,504.5 417.9,504.1 418.4,503.2 418.9,504.3 419.4,504.4 419.9,504.6 420.4,504.4 420.9,504.2 421.4,504.4 421.9,504.3 422.4,504.2 422.9,504.4 423.4,504.4 423.9,504.0 424.4,504.7 424.9,504.6 425.4,504.6 425.9,503.4 426.4,504.4 426.9,504.3 427.4,504.0 427.9,504.5 428.4,503.9 428.9,504.8 429.4,504.5 429.9,504.2 430.4,504.8 430.9,504.5 431.4,504.5 431.9,503.9 432.4,504.6 432.9,504.9 433.4,504.8 433.9,504.0 434.4,504.9 434.9,504.9 435.4,504.7 435.9,504.3 436.4,503.9 436.9,504.1 437.4,504.2 437.9,504.5 438.4,504.6 438.9,504.2 439.4,503.9 439.9,504.3 440.4,504.0 440.9,504.9 441.4,504.0 441.9,504.6 442.4,504.7 442.9,504.1 443.4,504.8 443.9,504.4 444.4,504.2 444.9,504.1 445.4,504.5 445.9,504.8 446.4,503.8 446.9,504.7 447.4,504.4 447.9,504.2 448.4,504.4 448.9,504.5 449.4,504.5 449.9,504.8 450.4,504.2 450.9,505.1 451.4,504.8 451.9,504.3 452.4,503.9 452.9,504.5 453.4,504.4 453.9,504.8 454.4,504.8 454.9,505.2 455.4,504.5 455.9,504.8 456.4,504.4 456.9,504.4 457.4,505.1 457.9,504.5 458.4,504.5 458.9,504.5 459.4,504.7 459.9,504.8 460.4,504.6 460.9,504.2 461.4,504.7 461.9,504.3 462.4,504.5 462.9,504.7 463.4,504.7 463.9,503.9 464.4,505.2 464.9,504.9 465.4,505.3 465.9,505.5 466.4,504.4 466.9,504.5 467.4,504.8 467.9,505.0 468.4,504.5 468.9,504.6 469.4,505.0 469.9,504.4 470.4,504.8 470.9,505.1 471.4,504.6 471.9,505.0 472.4,504.7 472.9,504.2 473.4,504.6 473.9,504.7 474.4,504.6 474.9,504.7 475.4,504.9 475.9,504.8 476.4,504.8 476.9,504.6 477.4,504.7 477.9,504.6 478.4,504.6 478.9,505.2 479.4,504.2 479.9,504.9 480.4,504.3 480.9,504.6 481.4,505.1 481.9,504.7 482.4,505.3 482.9,504.5 483.4,504.7 483.9,504.6 484.4,504.8 484.9,504.7 485.4,504.7 485.9,504.9 486.4,505.2 486.9,504.9 487.4,504.9 487.9,504.8 488.4,504.6 488.9,504.4 489.4,504.5 489.9,504.9 490.4,504.3 490.9,505.1 491.4,504.7 491.9,504.6 492.4,504.7 492.9,505.1 493.4,505.0 493.9,505.0 494.4,505.5 494.9,505.7 495.4,504.5 495.9,505.2 496.4,504.7 496.9,504.5 497.4,504.8 497.9,505.3 498.4,504.9 498.9,504.9 499.4,505.5 499.9,505.2 500.4,505.0 500.9,505.6 501.4,505.2 501.9,504.8 502.4,504.7 502.9,504.9 503.4,505.1 503.9,505.4 504.4,505.4 504.9,505.1 505.4,504.7 505.9,505.4 506.4,505.2 506.9,504.8 507.4,504.7 507.9,505.2 508.4,505.2 508.9,505.4 509.4,504.8 509.9,505.8 510.4,504.6 510.9,505.1 511.4,505.6 511.9,505.5 512.4,504.9 512.9,505.4 513.4,505.6 513.9,505.4 514.4,504.9 514.9,505.7 515.4,504.7 515.9,505.2 516.4,504.9 516.9,505.1 517.4,505.1 517.9,505.4 518.4,504.8 518.9,505.3 519.4,505.6 519.9,505.2 520.4,505.4 520.9,505.4 521.4,505.0 521.9,505.1 522.4,505.3 522.9,505.4 523.4,505.9 523.9,505.8 524.4,505.1 524.9,505.1 525.4,504.9 525.9,504.5 526.4,505.7 526.9,505.4 527.4,504.7 527.9,505.3 528.4,506.0 528.9,505.4 529.4,505.4 529.9,505.3 530.4,505.0 530.9,504.9 531.4,505.0 531.9,505.3 532.4,505.2 532.9,505.5 533.4,505.8 533.9,505.5 534.4,505.6 534.9,505.2 535.4,504.9 535.9,506.0 536.4,505.5 536.9,505.7 537.4,505.2 537.9,504.8 538.4,505.7 538.9,504.7 539.4,505.3 539.9,505.2 540.4,505.4 540.9,505.6 541.4,505.6 541.9,504.7 542.4,505.6 542.9,504.7 543.4,505.6 543.9,505.2 544.4,505.0 544.9,505.2 545.4,504.9 545.9,505.3 546.4,505.6 546.9,505.6 547.4,505.4 547.9,505.7 548.4,505.5 548.9,506.0 549.4,505.5 549.9,505.2 550.4,505.3 550.9,505.1 551.4,505.3 551.9,505.3 552.4,505.6 552.9,505.6 553.4,505.4 553.9,505.5 554.4,505.1 554.9,505.2 555.4,504.6 555.9,505.1 556.4,505.2 556.9,506.2 557.4,505.0 557.9,505.4 558.4,505.3 558.9,504.9 559.4,505.5 559.9,505.4 560.4,504.9 560.9,504.7 561.4,505.4 561.9,505.0 562.4,505.6 562.9,505.3 563.4,505.6 563.9,505.3 564.4,505.9 564.9,505.6 565.4,505.9 565.9,505.4 566.4,505.1 566.9,505.0 567.4,505.3 567.9,505.5 568.4,505.2 568.9,506.2 569.4,505.4 569.9,505.6 570.4,505.5 570.9,505.0 571.4,505.8 571.9,505.6 572.4,505.7 572.9,505.2 573.4,505.4 573.9,505.4 574.4,505.8 574.9,505.0 575.4,505.7 575.9,505.8 576.4,505.3 576.9,505.2 577.4,505.9 577.9,505.5 578.4,505.8 578.9,505.7 579.4,505.8 579.9,505.4 580.4,504.8 580.9,505.6 581.4,505.3 581.9,505.7 582.4,505.3 582.9,506.0 583.4,505.4 583.9,505.7 584.4,505.8 584.9,505.5 585.4,505.6 585.9,505.5 586.4,505.2 586.9,505.9 587.4,505.2 587.9,505.0 588.4,505.3 588.9,505.5 589.4,505.5 589.9,505.4 590.4,505.4 590.9,504.8 591.4,505.7 591.9,506.0 592.4,505.3 592.9,504.9 593.4,505.7 593.9,505.4 594.4,504.3 594.9,505.3 595.4,505.1 595.9,505.1 596.4,506.1 596.9,505.8 597.4,505.5 597.9,505.5 598.4,506.0 598.9,505.2 599.4,505.7 599.9,505.3 600.4,505.8 600.9,505.6 601.4,505.3 601.9,505.8 602.4,505.7 602.9,506.1 603.4,505.4 603.9,505.6 604.4,505.3 604.9,505.9 605.4,505.3 605.9,505.5 606.4,505.9 606.9,505.7 607.4,505.6 607.9,505.6 608.4,505.6 608.9,505.7 609.4,505.4 609.9,504.9 610.4,505.9 610.9,505.2 611.4,506.1 611.9,505.6 612.4,506.5 612.9,505.9 613.4,505.7 613.9,505.8 614.4,505.1 614.9,505.6 615.4,505.4 615.9,505.6 616.4,504.9 616.9,504.9 617.4,505.8 617.9,505.6 618.4,505.4 618.9,505.5 619.4,505.4 619.9,505.4 620.4,505.8 620.9,505.5 621.4,505.8 621.9,505.4 622.4,505.0 622.9,505.4 623.4,505.5 623.9,505.2 624.4,505.5 624.9,505.4 625.4,505.8 625.9,505.8 626.4,505.9 626.9,505.3 627.4,505.7 627.9,506.0 628.4,505.6 628.9,505.6 629.4,505.3 629.9,505.8 630.4,505.6 630.9,505.9 631.4,505.5 631.9,506.2 632.4,505.6 632.9,505.2 633.4,505.7 633.9,505.7 634.4,506.0 634.9,505.5 635.4,505.4 635.9,505.5 636.4,505.5 636.9,505.0 637.4,505.8 637.9,506.0 638.4,505.4 638.9,505.3 639.4,505.6 639.9,505.4 640.4,505.8 640.9,505.4 641.4,505.8 641.9,505.2 642.4,505.2 642.9,505.2 643.4,505.2 643.9,505.7 644.4,505.9 644.9,505.7 645.4,505.7 645.9,505.0 646.4,506.0 646.9,505.3 647.4,506.0 647.9,506.3 648.4,505.7 648.9,505.8 649.4,505.8 649.9,505.3 650.4,505.3 650.9,505.4 651.4,505.7 651.9,505.9 652.4,505.7 652.9,506.0 653.4,505.5 653.9,505.2 654.4,505.7 654.9,505.6 655.4,505.2 655.9,506.0 656.4,505.4 656.9,505.4 657.4,505.7 657.9,505.3 658.4,505.8 658.9,505.8 659.4,505.8 659.9,505.7 660.4,505.5 660.9,505.5 661.4,505.8 661.9,506.1 662.4,505.9 662.9,505.8 663.4,506.0 663.9,506.1 664.4,505.3 664.9,505.7 665.4,506.0 665.9,505.5 666.4,505.6 666.9,505.9 667.4,505.6 667.9,506.0 668.4,505.6 668.9,505.9 669.4,506.4 669.9,506.0 670.4,505.3 670.9,505.4 671.4,505.4 671.9,505.7 672.4,505.3 672.9,505.9 673.4,506.2 673.9,506.2 674.4,505.5 674.9,505.6 675.4,505.6 675.9,505.5 676.4,506.2 676.9,505.5 677.4,505.4 677.9,505.8 678.4,505.8 678.9,506.2 679.4,506.2 679.9,505.7 680.4,505.1 680.9,505.9 681.4,506.0 681.9,506.2 682.4,505.3 682.9,505.4 683.4,506.2 683.9,506.2 684.4,506.1 684.9,505.7 685.4,506.1 685.9,505.6 686.4,505.4 686.9,505.7 687.4,505.8 687.9,506.0 688.4,506.0 688.9,505.2 689.4,505.8 689.9,505.9 690.4,505.4 690.9,505.7 691.4,505.8 691.9,505.9 692.4,505.5 692.9,505.6 693.4,505.4 693.9,505.8 694.4,505.7 694.9,505.6 695.4,505.9 695.9,505.7 696.4,505.4 696.9,506.1 697.4,506.0 697.9,505.9 698.4,505.5 698.9,506.1 699.4,505.6 699.9,505.2 700.4,505.7 700.9,506.3 701.4,505.6 701.9,505.9 702.4,506.2 702.9,505.8 703.4,505.7 703.9,505.8 704.4,505.9 704.9,505.6 705.4,505.9 705.9,505.9 706.4,505.7 706.9,506.0 707.4,505.9 707.9,505.7 708.4,505.7 708.9,505.8 709.4,505.8 709.9,505.7 710.4,505.5 710.9,505.8 711.4,506.0 711.9,506.0 712.4,505.6 712.9,506.0 713.4,506.0 713.9,505.6 714.4,505.9 714.9,505.8 715.4,505.7 715.9,505.9 716.4,505.8 716.9,505.2 717.4,505.9 717.9,505.5 718.4,505.8 718.9,506.0 719.4,505.8 719.9,505.7 720.4,505.9 720.9,506.0 721.4,505.6 721.9,505.7 722.4,506.0 722.9,506.3 723.4,505.8 723.9,506.1 724.4,505.6 724.9,505.8 725.4,505.9 725.9,505.5 726.4,505.8 726.9,505.8 727.4,505.2 727.9,505.8 728.4,505.9 728.9,505.9 729.4,505.9 729.9,505.5 730.4,505.6 730.9,505.8 731.4,505.6 731.9,505.7 732.4,506.2 732.9,505.6 733.4,505.8 733.9,506.3 734.4,505.8 734.9,505.6 735.4,505.9 735.9,505.9 736.4,505.9 736.9,505.4 737.4,505.9 737.9,506.0 738.4,506.4 738.9,506.0 739.4,505.8 739.9,506.0 740.4,506.1 740.9,505.8 741.4,505.9 741.9,506.2 742.4,506.0 742.9,506.0 743.4,505.6 743.9,506.0 744.4,505.4 744.9,506.2 745.4,505.8 745.9,506.1 746.4,506.3 746.9,505.6 747.4,506.2 747.9,506.0 748.4,506.2 748.9,505.8 749.4,505.7 749.9,506.3 750.4,506.0 750.9,505.9 751.4,505.6 751.9,506.3 752.4,505.9 752.9,505.9 753.4,505.8 753.9,505.9 754.4,506.1 754.9,505.9 755.4,505.9 755.9,505.8 756.4,506.3 756.9,506.4 757.4,505.9 757.9,505.7 758.4,506.0 758.9,505.5 759.4,506.0 759.9,506.0 760.4,506.0 760.9,506.4 761.4,506.4 761.9,506.1 762.4,505.9 762.9,506.2 763.4,506.3 763.9,505.7 764.4,505.8 764.9,505.9 765.4,505.5 765.9,505.7 766.4,506.4 766.9,505.7 767.4,506.2 767.9,505.8 768.4,506.2 768.9,506.1 769.4,506.2 769.9,505.6 770.4,506.1 770.9,505.8 771.4,506.2 771.9,506.2 772.4,506.0 772.9,506.0 773.4,506.0 773.9,506.1 774.4,505.9 774.9,505.9 775.4,505.8 775.9,505.7 776.4,506.3 776.9,505.7 777.4,506.3 777.9,506.2 778.4,505.6 778.9,505.5 779.4,506.0 779.9,505.7 780.4,506.0 780.9,506.2 781.4,506.1 781.9,506.0 782.4,506.0 782.9,506.4 783.4,505.9"/>
<polyline fill="none" stroke="#e068f8" stroke-width="2.2" stroke-linejoin="round" points="43.4,847.7 44.4,849.1 45.4,846.0 46.4,842.7 47.4,850.1 48.4,849.7 49.4,848.3 50.4,849.3 51.4,849.0 52.4,850.9 53.4,850.9 54.4,847.5 55.4,850.7 56.4,848.6 57.4,846.9 58.4,850.7 59.4,854.0 60.4,852.5 61.4,852.8 62.4,856.2 63.4,853.9 64.4,852.6 65.4,852.1 66.4,857.1 67.4,851.7 68.4,852.0 69.4,855.8 70.4,856.7 71.4,851.1 72.4,856.5 73.4,854.7 74.4,855.8 75.4,854.9 76.4,856.0 77.4,860.3 78.4,858.5 79.4,855.2 80.4,856.2 81.4,854.3 82.4,852.0 83.4,855.7 84.4,859.7 85.4,859.2 86.4,855.1 87.4,864.0 88.4,860.3 89.4,856.1 90.4,858.1 91.4,858.3 92.4,857.4 93.4,862.5 94.4,863.2 95.4,858.8 96.4,860.2 97.4,860.2 98.4,858.4 99.4,856.2 100.4,855.8 101.4,859.6 102.4,858.6 103.4,857.6 104.4,857.4 105.4,857.6 106.4,856.1 107.4,852.7 108.4,852.4 109.4,860.2 110.4,857.9 111.4,854.9 112.4,857.0 113.4,860.9 114.4,864.3 115.4,864.0 116.4,862.8 117.4,863.2 118.4,860.1 119.4,863.9 120.4,862.5 121.4,864.6 122.4,861.2 123.4,866.7 124.4,865.0 125.4,868.8 126.4,863.8 127.4,869.4 128.4,868.7 129.4,867.2 130.4,869.8 131.4,867.5 132.4,872.4 133.4,866.1 134.4,875.9 135.4,868.0 136.4,866.8 137.4,866.1 138.4,871.6 139.4,869.9 140.4,868.6 141.4,868.7 142.4,867.9 143.4,872.6 144.4,872.5 145.4,872.6 146.4,868.5 147.4,873.0 148.4,871.0 149.4,872.5 150.4,871.0 151.4,874.1 152.4,876.1 153.4,873.5 154.4,874.8 155.4,874.2 156.4,872.4 157.4,875.6 158.4,873.3 159.4,875.8 160.4,877.4 161.4,879.4 162.4,874.8 163.4,879.2 164.4,881.2 165.4,878.4 166.4,878.9 167.4,879.8 168.4,880.0 169.4,878.5 170.4,880.2 171.4,872.9 172.4,876.0 173.4,878.2 174.4,880.6 175.4,875.5 176.4,875.1 177.4,875.7 178.4,878.6 179.4,874.8 180.4,878.1 181.4,880.2 182.4,876.6 183.4,878.7 184.4,877.5 185.4,879.2 186.4,874.9 187.4,874.8 188.4,879.5 189.4,882.1 190.4,878.2 191.4,882.1 192.4,879.9 193.4,882.6 194.4,881.0 195.4,884.8 196.4,884.7 197.4,890.5 198.4,888.7 199.4,891.9 200.4,894.0 201.4,887.1 202.4,894.8 203.4,891.8 204.4,892.5 205.4,891.1 206.4,888.7 207.4,890.4 208.4,892.2 209.4,890.3 210.4,893.7 211.4,895.5 212.4,892.6 213.4,893.8 214.4,897.2 215.4,892.8 216.4,897.4 217.4,893.4 218.4,899.1 219.4,897.2 220.4,896.5 221.4,897.6 222.4,901.9 223.4,896.0 224.4,896.5 225.4,901.0 226.4,901.2 227.4,899.2 228.4,901.4 229.4,900.1 230.4,901.7 231.4,900.7 232.4,901.5 233.4,901.7 234.4,900.7 235.4,901.9 236.4,903.1 237.4,902.7 238.4,900.4 239.4,903.5 240.4,907.4 241.4,905.1 242.4,904.5 243.4,903.3 244.4,901.4 245.4,903.6 246.4,902.4 247.4,905.0 248.4,901.5 249.4,904.9 250.4,903.8 251.4,905.5 252.4,904.6 253.4,906.6 254.4,901.9 255.4,905.2 256.4,906.4 257.4,908.3 258.4,905.8 259.4,905.2 260.4,905.5 261.4,907.0 262.4,906.0 263.4,904.2 264.4,904.9 265.4,904.2 266.4,905.4 267.4,905.6 268.4,907.6 269.4,906.0 270.4,904.0 271.4,905.4 272.4,904.1 273.4,904.7 274.4,904.9 275.4,905.4 276.4,904.7 277.4,905.8 278.4,907.2 279.4,907.5 280.4,908.3 281.4,904.6 282.4,904.3 283.4,904.5 284.4,906.1 285.4,904.6 286.4,905.3 287.4,903.3 288.4,905.0 289.4,907.7 290.4,903.5 291.4,904.5 292.4,905.5 293.4,906.8 294.4,904.9 295.4,907.7 296.4,908.4 297.4,908.6 298.4,907.3 299.4,906.6 300.4,905.3 301.4,906.8 302.4,907.3 303.4,903.8 304.4,907.5 305.4,907.7 306.4,908.3 307.4,911.1 308.4,908.1 309.4,908.5 310.4,909.4 311.4,907.9 312.4,908.4 313.4,905.5 314.4,906.7 315.4,907.7 316.4,905.7 317.4,909.9 318.4,909.5 319.4,909.6 320.4,908.7 321.4,904.8 322.4,910.1 323.4,908.9 324.4,911.9 325.4,910.4 326.4,907.0 327.4,906.4 328.4,908.8 329.4,909.0 330.4,909.4 331.4,911.8 332.4,911.9 333.4,910.4 334.4,909.9 335.4,909.0 336.4,910.2 337.4,906.4 338.4,910.4 339.4,909.0 340.4,911.5 341.4,906.0 342.4,910.1 343.4,909.5 344.4,908.6 345.4,910.9 346.4,907.1 347.4,906.6 348.4,907.4 349.4,909.6 350.4,909.4 351.4,906.2 352.4,908.6 353.4,911.6 354.4,906.7 355.4,906.5 356.4,907.3 357.4,908.2 358.4,906.1 359.4,908.1 360.4,907.7 361.4,907.6 362.4,904.2 363.4,906.4 364.4,905.5 365.4,906.8 366.4,901.2 367.4,907.0 368.4,906.5 369.4,902.8 370.4,905.0 371.4,902.2 372.4,901.6 373.4,904.3 374.4,904.4 375.4,902.3 376.4,903.9 377.4,901.0 378.4,903.2 379.4,901.9 380.4,903.2 381.4,902.9 382.4,901.4 383.4,901.0 384.4,902.5 385.4,903.1 386.4,904.6 387.4,902.2 388.4,903.3 389.4,902.9 390.4,905.9 391.4,902.1 392.4,903.8 393.4,905.4 394.4,905.1 395.4,904.2 396.4,905.6 397.4,906.8 398.4,905.8 399.4,906.6 400.4,905.9 401.4,909.0 402.4,906.1 403.4,906.6 404.4,905.6 405.4,905.4 406.4,906.2 407.4,908.1 408.4,907.0 409.4,907.9 410.4,906.3 411.4,905.5 412.4,908.0 413.4,907.1 414.4,907.5 415.4,908.2 416.4,908.6 417.4,908.5 418.4,908.1 419.4,906.8 420.4,908.3 421.4,907.0 422.4,908.1 423.4,907.5 424.4,906.5 425.4,908.7 426.4,910.3 427.4,908.6 428.4,907.4 429.4,907.2 430.4,909.1 431.4,907.5 432.4,906.9 433.4,908.5 434.4,908.6 435.4,908.8 436.4,909.3 437.4,907.6 438.4,908.7 439.4,909.6 440.4,909.3 441.4,910.4 442.4,908.3 443.4,908.4 444.4,908.1 445.4,910.1 446.4,909.2 447.4,909.8 448.4,908.3 449.4,909.2 450.4,909.6 451.4,909.8 452.4,908.7 453.4,909.5 454.4,908.8 455.4,910.9 456.4,908.1 457.4,909.5 458.4,907.5 459.4,906.4 460.4,908.0 461.4,911.1 462.4,911.6 463.4,909.7 464.4,909.2 465.4,907.8 466.4,910.4 467.4,909.9 468.4,909.6 469.4,910.0 470.4,909.3 471.4,912.5 472.4,908.4 473.4,910.3 474.4,909.8 475.4,910.3 476.4,910.1 477.4,909.6 478.4,908.8 479.4,910.4 480.4,909.7 481.4,909.7 482.4,909.8 483.4,908.7 484.4,909.8 485.4,909.8 486.4,911.7 487.4,911.2 488.4,909.0 489.4,911.0 490.4,908.4 491.4,909.2 492.4,911.1 493.4,909.8 494.4,910.6 495.4,911.0 496.4,909.4 497.4,911.5 498.4,910.6 499.4,909.7 500.4,911.6 501.4,911.1 502.4,912.8 503.4,912.1 504.4,911.8 505.4,910.4 506.4,911.8 507.4,911.1 508.4,911.3 509.4,912.1 510.4,910.6 511.4,913.0 512.4,912.1 513.4,910.9 514.4,911.8 515.4,912.1 516.4,912.2 517.4,911.3 518.4,910.0 519.4,911.1 520.4,911.9 521.4,911.8 522.4,911.2 523.4,912.4 524.4,912.2 525.4,912.8 526.4,912.6 527.4,913.1 528.4,910.3 529.4,912.6 530.4,909.4 531.4,912.0 532.4,912.5 533.4,911.3 534.4,913.6 535.4,913.5 536.4,912.5 537.4,913.5 538.4,913.9 539.4,910.3 540.4,912.6 541.4,912.7 542.4,915.5 543.4,911.7 544.4,913.1 545.4,915.1 546.4,913.3 547.4,913.3 548.4,916.5 549.4,913.2 550.4,913.7 551.4,913.6 552.4,911.0 553.4,912.2 554.4,911.9 555.4,912.7 556.4,913.0 557.4,914.4 558.4,914.7 559.4,915.0 560.4,914.0 561.4,913.4 562.4,912.6 563.4,909.8 564.4,914.6 565.4,914.3 566.4,913.4 567.4,913.5 568.4,913.9 569.4,913.7 570.4,913.7 571.4,914.1 572.4,913.0 573.4,912.6 574.4,913.3 575.4,913.3 576.4,914.3 577.4,914.0 578.4,913.4 579.4,917.2 580.4,913.8 581.4,913.5 582.4,913.7 583.4,915.0 584.4,914.7 585.4,913.7 586.4,913.2 587.4,916.5 588.4,913.1 589.4,913.1 590.4,914.3 591.4,914.4 592.4,914.6 593.4,913.5 594.4,915.3 595.4,914.4 596.4,915.7 597.4,914.5 598.4,915.3 599.4,914.7 600.4,915.9 601.4,915.8 602.4,913.9 603.4,915.0 604.4,916.1 605.4,914.7 606.4,915.9 607.4,914.3 608.4,914.4 609.4,916.1 610.4,914.6 611.4,913.9 612.4,914.9 613.4,915.1 614.4,915.6 615.4,915.3 616.4,915.5 617.4,916.4 618.4,916.1 619.4,914.4 620.4,914.1 621.4,916.7 622.4,915.5 623.4,915.8 624.4,914.9 625.4,915.8 626.4,915.6 627.4,914.2 628.4,916.8 629.4,914.5 630.4,915.8 631.4,915.3 632.4,916.0 633.4,916.2 634.4,914.9 635.4,917.0 636.4,916.5 637.4,915.0 638.4,915.2 639.4,915.9 640.4,917.3 641.4,915.8 642.4,915.4 643.4,917.3 644.4,916.1 645.4,915.7 646.4,916.9 647.4,915.1 648.4,918.1 649.4,917.2 650.4,917.2 651.4,918.4 652.4,916.1 653.4,916.5 654.4,918.5 655.4,914.6 656.4,916.6 657.4,916.9 658.4,917.0 659.4,917.6 660.4,915.7 661.4,915.0 662.4,916.1 663.4,914.5 664.4,917.0 665.4,917.0 666.4,914.8 667.4,916.5 668.4,915.6 669.4,917.7 670.4,916.6 671.4,917.3 672.4,915.8 673.4,917.2 674.4,917.6 675.4,916.2 676.4,916.9 677.4,917.6 678.4,917.1 679.4,915.4 680.4,916.8 681.4,917.4 682.4,916.5 683.4,917.7 684.4,915.5 685.4,918.0 686.4,917.0 687.4,918.3 688.4,916.9 689.4,916.9 690.4,917.3 691.4,919.2 692.4,917.3 693.4,916.5 694.4,917.9 695.4,916.9 696.4,918.2 697.4,917.7 698.4,916.8 699.4,917.8 700.4,918.2 701.4,916.7 702.4,915.2 703.4,917.2 704.4,917.5 705.4,916.8 706.4,919.0 707.4,917.6 708.4,917.4 709.4,915.0 710.4,917.2 711.4,915.4 712.4,916.7 713.4,917.6 714.4,916.7 715.4,917.8 716.4,916.9 717.4,917.4 718.4,915.9 719.4,917.1 720.4,915.7 721.4,917.5 722.4,918.8 723.4,917.6 724.4,915.3 725.4,916.2 726.4,916.2 727.4,917.3 728.4,917.6 729.4,916.9 730.4,918.5 731.4,917.5 732.4,918.6 733.4,917.3 734.4,917.6 735.4,917.0 736.4,917.4 737.4,916.9 738.4,918.5 739.4,917.3 740.4,918.3 741.4,918.0 742.4,917.6 743.4,918.4 744.4,917.3 745.4,917.4 746.4,915.3 747.4,916.8 748.4,917.2 749.4,917.8 750.4,918.0 751.4,917.1 752.4,914.9 753.4,918.0 754.4,917.3 755.4,916.4 756.4,916.9 757.4,918.2 758.4,917.3 759.4,918.1 760.4,917.1 761.4,917.6 762.4,918.1 763.4,916.9 764.4,916.7 765.4,916.9 766.4,917.2 767.4,915.7 768.4,918.1 769.4,918.4 770.4,917.5 771.4,917.6 772.4,916.7 773.4,916.1 774.4,917.7 775.4,918.1 776.4,918.0 777.4,916.2 778.4,918.4 779.4,917.7 780.4,916.9 781.4,917.6 782.4,917.2 783.4,916.2"/><polyline fill="none" stroke="#e068f8" stroke-width="1.5" stroke-linejoin="round" points="43.4,842.4 43.9,846.0 44.4,840.0 44.9,847.8 45.4,849.8 45.9,844.9 46.4,848.2 46.9,848.0 47.4,846.4 47.9,845.3 48.4,841.9 48.9,853.3 49.4,848.9 49.9,857.4 50.4,852.1 50.9,850.5 51.4,847.6 51.9,854.3 52.4,848.3 52.9,855.1 53.4,848.9 53.9,850.8 54.4,845.5 54.9,857.8 55.4,850.2 55.9,849.4 56.4,853.2 56.9,847.9 57.4,853.2 57.9,847.2 58.4,852.7 58.9,847.8 59.4,845.4 59.9,849.4 60.4,846.8 60.9,853.2 61.4,851.7 61.9,853.3 62.4,852.1 62.9,850.8 63.4,852.1 63.9,855.3 64.4,851.6 64.9,850.0 65.4,849.5 65.9,851.8 66.4,850.3 66.9,858.5 67.4,849.3 67.9,849.7 68.4,852.2 68.9,855.2 69.4,852.5 69.9,850.6 70.4,851.2 70.9,852.7 71.4,856.8 71.9,851.2 72.4,854.0 72.9,852.7 73.4,855.6 73.9,856.1 74.4,850.7 74.9,862.3 75.4,856.0 75.9,854.2 76.4,853.2 76.9,855.3 77.4,856.3 77.9,858.1 78.4,856.5 78.9,858.0 79.4,852.0 79.9,854.6 80.4,853.9 80.9,857.4 81.4,858.3 81.9,852.8 82.4,856.6 82.9,859.2 83.4,859.8 83.9,854.0 84.4,858.8 84.9,858.2 85.4,856.0 85.9,862.9 86.4,854.1 86.9,856.6 87.4,858.7 87.9,858.1 88.4,857.0 88.9,861.4 89.4,861.6 89.9,860.2 90.4,860.4 90.9,857.6 91.4,854.5 91.9,864.0 92.4,855.3 92.9,864.2 93.4,857.8 93.9,858.9 94.4,857.8 94.9,861.0 95.4,857.1 95.9,863.6 96.4,860.1 96.9,859.2 97.4,857.3 97.9,859.6 98.4,858.9 98.9,864.1 99.4,861.5 99.9,854.8 100.4,863.1 100.9,852.4 101.4,862.7 101.9,853.2 102.4,858.0 102.9,859.8 103.4,857.3 103.9,854.2 104.4,860.2 104.9,852.1 105.4,852.9 105.9,860.5 106.4,854.6 106.9,857.6 107.4,859.1 107.9,856.8 108.4,857.9 108.9,857.6 109.4,858.0 109.9,860.7 110.4,860.2 110.9,858.8 111.4,860.6 111.9,857.2 112.4,857.0 112.9,856.8 113.4,861.8 113.9,864.4 114.4,860.8 114.9,855.9 115.4,859.9 115.9,862.7 116.4,862.6 116.9,862.3 117.4,864.8 117.9,864.9 118.4,859.5 118.9,864.2 119.4,861.5 119.9,864.2 120.4,867.0 120.9,868.8 121.4,866.2 121.9,863.6 122.4,864.2 122.9,866.7 123.4,863.3 123.9,865.9 124.4,867.8 124.9,868.9 125.4,866.3 125.9,868.2 126.4,870.9 126.9,868.6 127.4,864.0 127.9,868.9 128.4,869.2 128.9,867.8 129.4,869.1 129.9,865.6 130.4,872.3 130.9,870.5 131.4,868.3 131.9,870.3 132.4,870.2 132.9,867.9 133.4,863.8 133.9,863.4 134.4,875.1 134.9,867.8 135.4,869.8 135.9,872.0 136.4,869.9 136.9,873.6 137.4,868.7 137.9,872.3 138.4,866.2 138.9,872.9 139.4,872.9 139.9,872.2 140.4,872.2 140.9,872.2 141.4,873.7 141.9,874.0 142.4,869.6 142.9,874.4 143.4,869.8 143.9,872.5 144.4,871.6 144.9,873.4 145.4,871.6 145.9,873.4 146.4,871.5 146.9,870.4 147.4,875.2 147.9,874.2 148.4,874.2 148.9,875.3 149.4,870.7 149.9,875.4 150.4,870.9 150.9,874.4 151.4,873.2 151.9,874.4 152.4,875.5 152.9,874.1 153.4,872.1 153.9,876.5 154.4,877.2 154.9,876.2 155.4,877.1 155.9,870.9 156.4,875.2 156.9,874.9 157.4,870.9 157.9,875.7 158.4,875.6 158.9,872.3 159.4,874.0 159.9,876.3 160.4,877.6 160.9,878.0 161.4,874.0 161.9,874.3 162.4,875.7 162.9,877.0 163.4,876.0 163.9,877.0 164.4,879.2 164.9,879.4 165.4,878.3 165.9,875.6 166.4,877.2 166.9,879.7 167.4,880.5 167.9,881.1 168.4,876.4 168.9,877.8 169.4,876.2 169.9,872.3 170.4,876.4 170.9,874.9 171.4,882.0 171.9,879.8 172.4,877.3 172.9,878.8 173.4,879.5 173.9,882.3 174.4,880.1 174.9,881.6 175.4,879.2 175.9,880.9 176.4,881.1 176.9,879.8 177.4,877.7 177.9,879.9 178.4,876.4 178.9,880.3 179.4,876.5 179.9,875.4 180.4,881.0 180.9,875.7 181.4,876.8 181.9,874.0 182.4,874.6 182.9,875.2 183.4,873.6 183.9,878.3 184.4,874.0 184.9,872.8 185.4,878.0 185.9,877.2 186.4,870.8 186.9,875.0 187.4,878.8 187.9,875.3 188.4,876.8 188.9,877.4 189.4,873.5 189.9,876.9 190.4,881.0 190.9,883.0 191.4,880.3 191.9,880.9 192.4,883.0 192.9,882.9 193.4,884.3 193.9,882.0 194.4,884.6 194.9,886.2 195.4,887.0 195.9,882.9 196.4,888.5 196.9,887.6 197.4,888.2 197.9,884.5 198.4,888.9 198.9,885.8 199.4,884.2 199.9,890.1 200.4,890.2 200.9,890.5 201.4,891.0 201.9,890.9 202.4,893.4 202.9,893.0 203.4,894.9 203.9,896.9 204.4,893.4 204.9,893.6 205.4,896.1 205.9,890.4 206.4,891.7 206.9,893.1 207.4,889.5 207.9,894.9 208.4,896.3 208.9,890.6 209.4,891.7 209.9,895.4 210.4,896.5 210.9,890.5 211.4,895.2 211.9,893.9 212.4,890.8 212.9,893.9 213.4,893.8 213.9,895.4 214.4,895.5 214.9,895.0 215.4,895.5 215.9,895.7 216.4,897.3 216.9,898.4 217.4,898.6 217.9,895.0 218.4,895.4 218.9,895.9 219.4,900.2 219.9,898.5 220.4,896.2 220.9,895.6 221.4,896.1 221.9,898.3 222.4,896.2 222.9,898.5 223.4,901.3 223.9,898.3 224.4,900.6 224.9,896.1 225.4,899.9 225.9,899.9 226.4,897.6 226.9,902.3 227.4,899.7 227.9,898.5 228.4,899.4 228.9,901.9 229.4,897.6 229.9,900.7 230.4,898.7 230.9,901.1 231.4,899.8 231.9,900.8 232.4,902.5 232.9,901.3 233.4,902.4 233.9,902.8 234.4,902.4 234.9,902.2 235.4,902.0 235.9,903.3 236.4,904.5 236.9,905.8 237.4,905.8 237.9,900.7 238.4,903.3 238.9,903.7 239.4,905.2 239.9,905.1 240.4,900.5 240.9,903.8 241.4,900.3 241.9,902.7 242.4,901.9 242.9,902.6 243.4,906.7 243.9,903.0 244.4,903.1 244.9,904.4 245.4,906.2 245.9,901.3 246.4,907.4 246.9,903.2 247.4,902.8 247.9,905.0 248.4,906.0 248.9,909.8 249.4,906.6 249.9,904.0 250.4,904.8 250.9,903.5 251.4,906.5 251.9,906.9 252.4,904.9 252.9,907.6 253.4,902.7 253.9,904.9 254.4,904.2 254.9,904.9 255.4,903.2 255.9,907.8 256.4,904.5 256.9,906.0 257.4,908.4 257.9,909.2 258.4,908.5 258.9,902.5 259.4,905.9 259.9,905.9 260.4,905.3 260.9,905.1 261.4,905.5 261.9,907.5 262.4,905.6 262.9,904.1 263.4,903.7 263.9,906.6 264.4,903.4 264.9,907.5 265.4,905.4 265.9,905.4 266.4,906.6 266.9,905.6 267.4,907.4 267.9,903.9 268.4,903.0 268.9,909.4 269.4,906.3 269.9,901.6 270.4,908.9 270.9,903.5 271.4,909.4 271.9,909.0 272.4,907.3 272.9,905.8 273.4,904.3 273.9,907.3 274.4,905.0 274.9,907.5 275.4,905.2 275.9,902.9 276.4,904.4 276.9,905.7 277.4,904.7 277.9,905.8 278.4,904.0 278.9,908.2 279.4,904.6 279.9,906.4 280.4,902.7 280.9,906.9 281.4,908.1 281.9,906.5 282.4,905.1 282.9,904.0 283.4,906.6 283.9,906.6 284.4,903.4 284.9,905.7 285.4,906.5 285.9,904.4 286.4,906.7 286.9,905.3 287.4,908.1 287.9,903.7 288.4,906.7 288.9,906.0 289.4,902.8 289.9,904.4 290.4,904.5 290.9,907.5 291.4,905.4 291.9,906.1 292.4,906.4 292.9,910.4 293.4,905.8 293.9,909.4 294.4,906.0 294.9,903.8 295.4,905.1 295.9,904.4 296.4,905.9 296.9,904.2 297.4,905.1 297.9,909.7 298.4,907.1 298.9,907.3 299.4,909.7 299.9,904.2 300.4,907.8 300.9,906.2 301.4,907.0 301.9,906.0 302.4,907.3 302.9,909.1 303.4,909.1 303.9,907.7 304.4,908.6 304.9,905.5 305.4,902.8 305.9,909.2 306.4,910.8 306.9,908.4 307.4,906.7 307.9,907.8 308.4,909.7 308.9,906.0 309.4,908.0 309.9,908.9 310.4,906.4 310.9,911.3 311.4,909.4 311.9,910.8 312.4,906.6 312.9,908.6 313.4,910.7 313.9,909.1 314.4,910.4 314.9,905.6 315.4,908.4 315.9,905.5 316.4,907.8 316.9,909.1 317.4,908.5 317.9,906.8 318.4,909.2 318.9,909.8 319.4,908.7 319.9,910.1 320.4,910.7 320.9,910.9 321.4,908.5 321.9,909.8 322.4,908.1 322.9,909.0 323.4,910.7 323.9,909.0 324.4,908.5 324.9,908.3 325.4,910.0 325.9,911.6 326.4,910.6 326.9,908.9 327.4,910.5 327.9,910.7 328.4,911.5 328.9,908.3 329.4,910.2 329.9,908.7 330.4,908.5 330.9,911.2 331.4,910.1 331.9,909.4 332.4,911.3 332.9,909.5 333.4,908.0 333.9,910.6 334.4,907.9 334.9,908.0 335.4,908.6 335.9,909.0 336.4,910.5 336.9,908.7 337.4,906.5 337.9,908.3 338.4,909.6 338.9,908.9 339.4,908.9 339.9,907.3 340.4,908.5 340.9,909.8 341.4,909.8 341.9,907.8 342.4,907.9 342.9,907.5 343.4,910.2 343.9,907.8 344.4,908.4 344.9,907.6 345.4,907.4 345.9,908.5 346.4,909.9 346.9,907.8 347.4,910.3 347.9,908.5 348.4,909.5 348.9,912.0 349.4,911.6 349.9,908.8 350.4,908.5 350.9,908.1 351.4,909.3 351.9,905.6 352.4,907.2 352.9,907.9 353.4,907.0 353.9,906.7 354.4,909.8 354.9,905.9 355.4,907.3 355.9,907.0 356.4,907.1 356.9,906.3 357.4,908.7 357.9,907.5 358.4,910.0 358.9,905.6 359.4,907.6 359.9,905.7 360.4,907.7 360.9,908.9 361.4,905.6 361.9,908.5 362.4,905.9 362.9,905.4 363.4,907.2 363.9,907.7 364.4,906.7 364.9,906.9 365.4,906.3 365.9,905.5 366.4,903.1 366.9,905.4 367.4,904.8 367.9,906.3 368.4,904.3 368.9,908.0 369.4,906.0 369.9,904.5 370.4,905.8 370.9,904.4 371.4,906.2 371.9,903.8 372.4,906.0 372.9,902.5 373.4,903.8 373.9,903.4 374.4,902.1 374.9,902.6 375.4,902.9 375.9,901.1 376.4,901.3 376.9,902.9 377.4,901.1 377.9,904.1 378.4,903.9 378.9,901.2 379.4,902.2 379.9,902.4 380.4,902.6 380.9,901.1 381.4,902.8 381.9,901.2 382.4,901.8 382.9,903.6 383.4,902.0 383.9,901.0 384.4,901.7 384.9,903.0 385.4,901.7 385.9,901.6 386.4,903.2 386.9,901.9 387.4,906.0 387.9,902.6 388.4,904.5 388.9,901.9 389.4,903.4 389.9,905.0 390.4,904.8 390.9,905.0 391.4,903.6 391.9,904.7 392.4,904.3 392.9,902.9 393.4,906.3 393.9,904.1 394.4,904.8 394.9,906.3 395.4,906.1 395.9,908.7 396.4,905.5 396.9,907.4 397.4,905.6 397.9,905.9 398.4,907.3 398.9,906.9 399.4,905.5 399.9,906.1 400.4,906.5 400.9,908.4 401.4,905.5 401.9,906.7 402.4,907.2 402.9,906.7 403.4,906.0 403.9,907.7 404.4,905.6 404.9,909.1 405.4,903.7 405.9,904.5 406.4,907.1 406.9,907.7 407.4,907.6 407.9,906.4 408.4,906.9 408.9,907.2 409.4,906.2 409.9,906.8 410.4,906.2 410.9,908.7 411.4,907.9 411.9,906.9 412.4,907.0 412.9,907.0 413.4,907.2 413.9,907.9 414.4,907.2 414.9,907.1 415.4,908.1 415.9,907.5 416.4,907.8 416.9,907.9 417.4,907.6 417.9,906.6 418.4,907.6 418.9,909.3 419.4,907.0 419.9,907.0 420.4,907.5 420.9,907.6 421.4,909.7 421.9,907.8 422.4,909.5 422.9,909.1 423.4,909.0 423.9,909.0 424.4,908.7 424.9,908.9 425.4,909.7 425.9,906.0 426.4,908.8 426.9,909.7 427.4,907.6 427.9,908.4 428.4,909.4 428.9,906.4 429.4,908.8 429.9,907.2 430.4,908.8 430.9,909.0 431.4,908.8 431.9,907.4 432.4,908.6 432.9,907.9 433.4,909.0 433.9,908.2 434.4,907.7 434.9,909.8 435.4,907.3 435.9,908.2 436.4,910.0 436.9,909.2 437.4,909.8 437.9,907.7 438.4,909.0 438.9,907.8 439.4,906.8 439.9,909.5 440.4,907.7 440.9,909.0 441.4,907.8 441.9,909.6 442.4,909.6 442.9,907.8 443.4,907.8 443.9,906.0 444.4,908.5 444.9,908.8 445.4,908.2 445.9,909.8 446.4,909.0 446.9,909.1 447.4,908.4 447.9,907.4 448.4,909.2 448.9,910.1 449.4,910.5 449.9,909.4 450.4,907.7 450.9,908.8 451.4,909.4 451.9,908.0 452.4,908.8 452.9,908.5 453.4,908.3 453.9,908.1 454.4,909.6 454.9,909.9 455.4,910.7 455.9,909.0 456.4,909.4 456.9,907.4 457.4,909.7 457.9,910.9 458.4,908.5 458.9,909.9 459.4,908.8 459.9,910.0 460.4,910.2 460.9,907.8 461.4,908.4 461.9,908.6 462.4,909.2 462.9,911.0 463.4,909.5 463.9,909.7 464.4,909.7 464.9,908.8 465.4,910.8 465.9,910.1 466.4,910.5 466.9,909.9 467.4,908.1 467.9,910.2 468.4,908.9 468.9,908.6 469.4,912.7 469.9,910.7 470.4,909.2 470.9,910.6 471.4,911.0 471.9,910.0 472.4,909.3 472.9,910.9 473.4,910.6 473.9,910.6 474.4,907.9 474.9,910.3 475.4,912.2 475.9,908.6 476.4,909.4 476.9,909.0 477.4,909.3 477.9,909.7 478.4,912.2 478.9,909.6 479.4,911.8 479.9,908.9 480.4,910.7 480.9,910.0 481.4,909.6 481.9,910.4 482.4,911.6 482.9,910.6 483.4,910.9 483.9,910.2 484.4,910.7 484.9,910.7 485.4,911.1 485.9,910.1 486.4,909.6 486.9,909.8 487.4,909.8 487.9,910.9 488.4,909.5 488.9,911.2 489.4,910.7 489.9,911.8 490.4,910.7 490.9,911.7 491.4,911.0 491.9,910.7 492.4,910.2 492.9,911.1 493.4,910.7 493.9,909.9 494.4,910.1 494.9,908.5 495.4,912.0 495.9,912.0 496.4,910.2 496.9,909.3 497.4,911.5 497.9,912.0 498.4,910.8 498.9,910.1 499.4,912.3 499.9,911.9 500.4,912.1 500.9,913.1 501.4,910.9 501.9,911.2 502.4,913.3 502.9,912.0 503.4,913.8 503.9,908.2 504.4,909.4 504.9,911.8 505.4,911.7 505.9,909.9 506.4,910.2 506.9,910.2 507.4,911.9 507.9,909.7 508.4,911.1 508.9,910.4 509.4,908.0 509.9,911.6 510.4,913.4 510.9,911.1 511.4,912.2 511.9,911.5 512.4,911.2 512.9,909.6 513.4,911.3 513.9,909.3 514.4,910.8 514.9,911.7 515.4,911.7 515.9,910.7 516.4,911.4 516.9,910.5 517.4,912.5 517.9,910.4 518.4,914.7 518.9,912.7 519.4,911.7 519.9,913.8 520.4,910.8 520.9,913.2 521.4,911.2 521.9,912.0 522.4,911.4 522.9,911.1 523.4,911.4 523.9,912.2 524.4,911.7 524.9,914.1 525.4,912.2 525.9,909.2 526.4,911.3 526.9,911.8 527.4,912.5 527.9,912.8 528.4,910.7 528.9,912.4 529.4,911.2 529.9,912.3 530.4,911.9 530.9,913.6 531.4,913.3 531.9,913.9 532.4,911.4 532.9,911.7 533.4,912.3 533.9,911.7 534.4,911.7 534.9,912.9 535.4,914.8 535.9,912.8 536.4,914.1 536.9,910.9 537.4,914.6 537.9,914.9 538.4,912.7 538.9,912.0 539.4,913.2 539.9,910.8 540.4,912.9 540.9,910.7 541.4,914.3 541.9,912.6 542.4,911.8 542.9,910.4 543.4,914.3 543.9,912.8 544.4,912.2 544.9,914.0 545.4,911.3 545.9,914.0 546.4,914.2 546.9,912.6 547.4,914.2 547.9,914.7 548.4,912.1 548.9,912.2 549.4,913.9 549.9,913.8 550.4,912.2 550.9,909.7 551.4,911.4 551.9,914.4 552.4,912.6 552.9,912.1 553.4,913.5 553.9,911.3 554.4,915.6 554.9,911.1 555.4,913.0 555.9,913.6 556.4,913.9 556.9,912.1 557.4,912.9 557.9,914.4 558.4,913.4 558.9,914.0 559.4,913.5 559.9,913.6 560.4,912.5 560.9,912.1 561.4,913.1 561.9,912.2 562.4,915.0 562.9,914.2 563.4,914.8 563.9,911.9 564.4,912.1 564.9,914.2 565.4,913.7 565.9,913.8 566.4,914.6 566.9,912.5 567.4,912.2 567.9,912.7 568.4,915.8 568.9,913.6 569.4,912.8 569.9,915.2 570.4,914.6 570.9,914.6 571.4,914.4 571.9,913.5 572.4,915.6 572.9,914.6 573.4,912.5 573.9,912.6 574.4,913.1 574.9,914.7 575.4,913.2 575.9,913.6 576.4,913.4 576.9,914.0 577.4,915.2 577.9,913.5 578.4,914.0 578.9,915.8 579.4,912.4 579.9,914.3 580.4,914.2 580.9,914.0 581.4,915.1 581.9,916.4 582.4,914.1 582.9,914.0 583.4,914.8 583.9,912.9 584.4,913.8 584.9,914.5 585.4,914.4 585.9,913.4 586.4,915.4 586.9,913.0 587.4,913.5 587.9,913.2 588.4,914.7 588.9,915.1 589.4,914.2 589.9,915.5 590.4,913.9 590.9,914.4 591.4,914.6 591.9,914.3 592.4,914.6 592.9,913.3 593.4,912.2 593.9,913.9 594.4,914.1 594.9,914.2 595.4,913.4 595.9,913.2 596.4,916.6 596.9,915.3 597.4,914.9 597.9,914.7 598.4,913.9 598.9,914.4 599.4,915.8 599.9,915.6 600.4,914.0 600.9,914.1 601.4,914.1 601.9,913.9 602.4,915.6 602.9,915.4 603.4,915.0 603.9,914.1 604.4,916.0 604.9,914.8 605.4,912.2 605.9,916.1 606.4,915.0 606.9,914.2 607.4,916.2 607.9,912.4 608.4,914.2 608.9,915.6 609.4,914.2 609.9,917.0 610.4,917.0 610.9,915.2 611.4,915.2 611.9,916.8 612.4,915.6 612.9,913.9 613.4,914.8 613.9,914.2 614.4,915.7 614.9,915.3 615.4,916.6 615.9,915.4 616.4,914.4 616.9,914.0 617.4,916.7 617.9,916.5 618.4,914.4 618.9,913.7 619.4,913.6 619.9,916.3 620.4,914.9 620.9,917.2 621.4,914.9 621.9,915.0 622.4,915.1 622.9,916.0 623.4,917.2 623.9,914.5 624.4,916.2 624.9,916.9 625.4,915.3 625.9,915.1 626.4,916.6 626.9,914.9 627.4,915.3 627.9,914.6 628.4,915.1 628.9,915.9 629.4,916.0 629.9,915.4 630.4,915.8 630.9,914.4 631.4,917.8 631.9,914.6 632.4,916.2 632.9,914.9 633.4,915.7 633.9,913.7 634.4,915.1 634.9,914.5 635.4,916.1 635.9,915.9 636.4,914.9 636.9,914.8 637.4,916.3 637.9,915.4 638.4,916.5 638.9,916.2 639.4,915.4 639.9,915.7 640.4,914.1 640.9,915.9 641.4,915.7 641.9,916.0 642.4,917.5 642.9,916.2 643.4,916.1 643.9,916.1 644.4,915.7 644.9,917.5 645.4,916.1 645.9,917.4 646.4,916.9 646.9,915.4 647.4,916.4 647.9,917.3 648.4,915.9 648.9,916.3 649.4,916.0 649.9,916.1 650.4,917.1 650.9,915.5 651.4,916.0 651.9,916.5 652.4,913.7 652.9,916.1 653.4,916.5 653.9,916.8 654.4,915.8 654.9,915.5 655.4,917.3 655.9,915.8 656.4,916.9 656.9,916.6 657.4,915.7 657.9,916.0 658.4,915.7 658.9,917.5 659.4,916.7 659.9,914.8 660.4,918.4 660.9,918.0 661.4,917.9 661.9,915.7 662.4,916.1 662.9,916.1 663.4,918.1 663.9,916.8 664.4,917.0 664.9,916.5 665.4,915.3 665.9,917.6 666.4,919.0 666.9,916.5 667.4,915.9 667.9,916.1 668.4,916.2 668.9,915.4 669.4,916.3 669.9,916.5 670.4,915.4 670.9,917.3 671.4,916.4 671.9,915.7 672.4,916.9 672.9,918.5 673.4,918.3 673.9,918.1 674.4,918.1 674.9,917.9 675.4,917.7 675.9,917.9 676.4,919.0 676.9,916.6 677.4,917.8 677.9,915.7 678.4,917.7 678.9,918.4 679.4,916.7 679.9,918.8 680.4,916.2 680.9,918.6 681.4,916.9 681.9,917.5 682.4,916.7 682.9,917.8 683.4,917.0 683.9,918.2 684.4,917.2 684.9,917.4 685.4,916.9 685.9,917.6 686.4,916.7 686.9,916.9 687.4,915.8 687.9,916.7 688.4,916.8 688.9,917.0 689.4,917.2 689.9,915.7 690.4,918.0 690.9,919.4 691.4,917.2 691.9,915.3 692.4,918.0 692.9,917.2 693.4,917.0 693.9,917.4 694.4,917.3 694.9,917.0 695.4,917.8 695.9,917.5 696.4,916.9 696.9,917.9 697.4,918.5 697.9,918.5 698.4,916.3 698.9,917.3 699.4,917.9 699.9,917.4 700.4,917.2 700.9,918.4 701.4,917.6 701.9,917.7 702.4,915.8 702.9,915.9 703.4,916.8 703.9,917.5 704.4,918.2 704.9,916.5 705.4,918.8 705.9,917.5 706.4,916.8 706.9,918.1 707.4,918.7 707.9,917.4 708.4,917.3 708.9,917.6 709.4,918.0 709.9,917.1 710.4,917.3 710.9,917.5 711.4,917.2 711.9,917.6 712.4,916.6 712.9,915.4 713.4,916.8 713.9,916.9 714.4,919.1 714.9,918.3 715.4,917.6 715.9,916.8 716.4,916.1 716.9,916.6 717.4,917.7 717.9,917.1 718.4,916.2 718.9,917.4 719.4,916.6 719.9,917.7 720.4,919.0 720.9,918.1 721.4,914.8 721.9,918.3 722.4,916.7 722.9,917.5 723.4,917.5 723.9,917.5 724.4,915.5 724.9,918.4 725.4,916.3 725.9,916.4 726.4,917.5 726.9,917.9 727.4,916.7 727.9,915.7 728.4,917.6 728.9,917.0 729.4,918.0 729.9,918.4 730.4,916.1 730.9,916.0 731.4,917.1 731.9,916.4 732.4,918.8 732.9,917.3 733.4,917.4 733.9,917.5 734.4,918.7 734.9,917.7 735.4,918.0 735.9,916.6 736.4,918.0 736.9,916.9 737.4,916.7 737.9,916.7 738.4,918.4 738.9,916.9 739.4,917.6 739.9,917.3 740.4,917.7 740.9,916.7 741.4,916.0 741.9,916.9 742.4,917.3 742.9,916.4 743.4,917.2 743.9,917.9 744.4,915.3 744.9,918.6 745.4,918.2 745.9,917.5 746.4,918.4 746.9,915.3 747.4,917.4 747.9,917.6 748.4,917.7 748.9,917.7 749.4,919.0 749.9,917.9 750.4,916.7 750.9,915.9 751.4,916.3 751.9,916.9 752.4,917.5 752.9,917.2 753.4,917.5 753.9,916.7 754.4,916.9 754.9,917.6 755.4,917.0 755.9,916.6 756.4,916.8 756.9,917.7 757.4,916.7 757.9,916.9 758.4,918.9 758.9,917.1 759.4,917.4 759.9,918.3 760.4,918.8 760.9,917.9 761.4,916.0 761.9,919.5 762.4,916.4 762.9,916.1 763.4,916.4 763.9,918.6 764.4,917.2 764.9,915.4 765.4,919.0 765.9,915.7 766.4,919.0 766.9,914.8 767.4,917.1 767.9,917.2 768.4,916.6 768.9,917.1 769.4,918.2 769.9,917.4 770.4,917.9 770.9,917.3 771.4,917.4 771.9,916.7 772.4,917.2 772.9,918.1 773.4,918.2 773.9,916.1 774.4,916.6 774.9,917.4 775.4,917.1 775.9,916.5 776.4,915.3 776.9,917.5 777.4,916.6 777.9,919.1 778.4,918.3 778.9,917.6 779.4,916.0 779.9,916.5 780.4,918.2 780.9,916.5 781.4,917.0 781.9,917.6 782.4,917.8 782.9,916.9 783.4,917.7"/>
<polyline fill="none" stroke="#dc2ef8" stroke-width="2.2" stroke-linejoin="round" points="43.4,732.6 44.4,715.6 45.4,725.9 46.4,707.2 47.4,717.2 48.4,719.4 49.4,703.0 50.4,712.7 51.4,718.2 52.4,728.0 53.4,711.3 54.4,716.7 55.4,707.5 56.4,715.3 57.4,722.8 58.4,717.4 59.4,702.0 60.4,705.0 61.4,704.8 62.4,712.2 63.4,709.2 64.4,728.8 65.4,719.6 66.4,731.4 67.4,719.6 68.4,721.0 69.4,719.9 70.4,722.3 71.4,722.3 72.4,721.0 73.4,716.3 74.4,715.9 75.4,725.8 76.4,731.8 77.4,731.5 78.4,724.4 79.4,735.8 80.4,729.6 81.4,724.2 82.4,734.1 83.4,729.2 84.4,744.8 85.4,742.4 86.4,740.4 87.4,744.6 88.4,748.8 89.4,748.1 90.4,747.7 91.4,761.4 92.4,751.3 93.4,751.5 94.4,746.0 95.4,758.0 96.4,757.9 97.4,759.7 98.4,753.4 99.4,764.4 100.4,754.3 101.4,754.7 102.4,759.5 103.4,760.1 104.4,764.7 105.4,773.3 106.4,764.1 107.4,769.9 108.4,767.4 109.4,762.6 110.4,759.5 111.4,767.2 112.4,765.8 113.4,770.1 114.4,776.9 115.4,776.1 116.4,782.9 117.4,773.4 118.4,777.7 119.4,793.4 120.4,788.1 121.4,787.0 122.4,789.5 123.4,783.0 124.4,784.3 125.4,792.1 126.4,782.0 127.4,791.5 128.4,782.2 129.4,794.7 130.4,792.4 131.4,790.7 132.4,793.6 133.4,794.1 134.4,790.7 135.4,789.7 136.4,793.7 137.4,796.5 138.4,791.8 139.4,795.8 140.4,801.8 141.4,795.3 142.4,795.4 143.4,790.7 144.4,801.2 145.4,795.9 146.4,795.5 147.4,793.1 148.4,800.9 149.4,797.7 150.4,799.1 151.4,797.1 152.4,794.4 153.4,799.1 154.4,799.7 155.4,796.1 156.4,796.3 157.4,799.0 158.4,798.5 159.4,805.0 160.4,807.4 161.4,799.6 162.4,798.7 163.4,804.4 164.4,802.7 165.4,801.9 166.4,801.6 167.4,804.6 168.4,802.9 169.4,803.1 170.4,804.3 171.4,794.5 172.4,803.1 173.4,803.2 174.4,802.2 175.4,800.8 176.4,797.7 177.4,796.3 178.4,801.9 179.4,798.0 180.4,807.2 181.4,804.6 182.4,802.2 183.4,806.0 184.4,803.7 185.4,801.8 186.4,806.9 187.4,803.4 188.4,802.8 189.4,804.0 190.4,803.9 191.4,805.4 192.4,803.9 193.4,806.4 194.4,810.6 195.4,810.7 196.4,812.4 197.4,808.3 198.4,811.9 199.4,812.0 200.4,815.7 201.4,820.2 202.4,820.3 203.4,823.6 204.4,824.8 205.4,827.1 206.4,826.8 207.4,826.7 208.4,826.8 209.4,828.4 210.4,833.4 211.4,834.8 212.4,832.5 213.4,830.3 214.4,833.1 215.4,835.6 216.4,829.6 217.4,833.9 218.4,840.3 219.4,836.6 220.4,834.0 221.4,836.2 222.4,833.0 223.4,837.6 224.4,837.9 225.4,838.6 226.4,839.1 227.4,839.6 228.4,842.8 229.4,841.7 230.4,840.5 231.4,842.0 232.4,837.8 233.4,842.5 234.4,848.4 235.4,847.4 236.4,846.2 237.4,843.0 238.4,845.5 239.4,851.5 240.4,846.5 241.4,846.8 242.4,850.0 243.4,851.7 244.4,850.1 245.4,852.3 246.4,847.5 247.4,852.9 248.4,849.4 249.4,851.5 250.4,846.4 251.4,851.5 252.4,850.1 253.4,851.7 254.4,848.9 255.4,847.5 256.4,850.3 257.4,852.7 258.4,850.7 259.4,850.1 260.4,850.4 261.4,854.5 262.4,851.2 263.4,849.0 264.4,854.9 265.4,852.1 266.4,853.2 267.4,849.0 268.4,852.1 269.4,853.6 270.4,854.7 271.4,854.1 272.4,855.8 273.4,853.7 274.4,852.4 275.4,850.3 276.4,856.4 277.4,854.8 278.4,859.0 279.4,857.9 280.4,852.8 281.4,856.0 282.4,856.0 283.4,856.4 284.4,852.3 285.4,853.7 286.4,853.8 287.4,857.0 288.4,854.8 289.4,852.9 290.4,852.9 291.4,854.4 292.4,852.1 293.4,852.9 294.4,854.6 295.4,856.8 296.4,855.4 297.4,854.9 298.4,852.8 299.4,853.1 300.4,851.4 301.4,855.5 302.4,855.0 303.4,853.9 304.4,859.4 305.4,854.6 306.4,857.3 307.4,855.1 308.4,855.8 309.4,852.7 310.4,855.1 311.4,856.3 312.4,850.8 313.4,857.2 314.4,852.9 315.4,854.2 316.4,853.7 317.4,856.3 318.4,855.5 319.4,853.3 320.4,853.4 321.4,855.0 322.4,853.2 323.4,853.0 324.4,853.3 325.4,855.8 326.4,851.5 327.4,851.5 328.4,854.4 329.4,852.6 330.4,851.2 331.4,854.6 332.4,852.3 333.4,851.6 334.4,851.0 335.4,855.4 336.4,852.5 337.4,855.3 338.4,853.6 339.4,851.2 340.4,854.6 341.4,852.1 342.4,853.2 343.4,849.5 344.4,849.2 345.4,850.4 346.4,849.6 347.4,852.2 348.4,851.3 349.4,848.5 350.4,850.2 351.4,845.6 352.4,848.8 353.4,849.1 354.4,846.7 355.4,846.4 356.4,848.1 357.4,847.0 358.4,849.7 359.4,845.7 360.4,847.5 361.4,849.0 362.4,848.2 363.4,846.7 364.4,844.8 365.4,845.0 366.4,846.0 367.4,844.7 368.4,844.7 369.4,843.4 370.4,843.2 371.4,845.9 372.4,844.7 373.4,839.7 374.4,843.1 375.4,843.4 376.4,840.6 377.4,840.2 378.4,840.9 379.4,840.8 380.4,841.0 381.4,840.2 382.4,844.4 383.4,840.1 384.4,842.5 385.4,842.7 386.4,842.0 387.4,842.9 388.4,844.1 389.4,841.6 390.4,843.8 391.4,844.1 392.4,842.1 393.4,840.0 394.4,843.5 395.4,844.2 396.4,843.3 397.4,844.1 398.4,846.6 399.4,845.0 400.4,846.0 401.4,845.2 402.4,845.7 403.4,845.9 404.4,847.0 405.4,846.9 406.4,847.8 407.4,847.7 408.4,848.6 409.4,849.0 410.4,848.6 411.4,848.2 412.4,847.5 413.4,847.7 414.4,850.3 415.4,850.0 416.4,849.8 417.4,849.4 418.4,850.6 419.4,850.1 420.4,851.9 421.4,850.9 422.4,850.1 423.4,850.0 424.4,851.0 425.4,854.0 426.4,851.2 427.4,849.9 428.4,851.2 429.4,852.4 430.4,852.7 431.4,852.8 432.4,852.9 433.4,852.3 434.4,852.3 435.4,851.2 436.4,852.7 437.4,852.1 438.4,854.4 439.4,850.8 440.4,854.2 441.4,851.6 442.4,853.1 443.4,851.8 444.4,854.2 445.4,853.5 446.4,852.7 447.4,854.4 448.4,852.8 449.4,852.2 450.4,851.7 451.4,853.2 452.4,853.3 453.4,852.1 454.4,852.9 455.4,853.9 456.4,852.5 457.4,855.6 458.4,852.5 459.4,853.2 460.4,854.0 461.4,856.7 462.4,854.4 463.4,853.4 464.4,852.1 465.4,853.3 466.4,853.3 467.4,855.5 468.4,853.9 469.4,853.6 470.4,854.7 471.4,855.4 472.4,852.9 473.4,854.3 474.4,855.1 475.4,856.5 476.4,857.4 477.4,856.6 478.4,855.9 479.4,854.8 480.4,857.1 481.4,854.0 482.4,855.8 483.4,856.8 484.4,855.8 485.4,854.9 486.4,856.2 487.4,855.5 488.4,855.0 489.4,856.0 490.4,855.7 491.4,859.9 492.4,855.9 493.4,858.2 494.4,855.2 495.4,858.6 496.4,857.6 497.4,856.6 498.4,855.9 499.4,856.6 500.4,854.9 501.4,857.9 502.4,855.9 503.4,859.5 504.4,859.3 505.4,858.9 506.4,858.5 507.4,858.4 508.4,855.9 509.4,858.0 510.4,858.7 511.4,858.7 512.4,859.9 513.4,859.8 514.4,858.9 515.4,859.4 516.4,860.4 517.4,858.9 518.4,858.9 519.4,858.3 520.4,857.8 521.4,858.4 522.4,859.5 523.4,858.0 524.4,859.0 525.4,858.6 526.4,859.6 527.4,860.8 528.4,860.9 529.4,861.1 530.4,859.4 531.4,859.8 532.4,860.5 533.4,859.4 534.4,862.6 535.4,859.3 536.4,861.3 537.4,859.3 538.4,859.9 539.4,860.8 540.4,861.3 541.4,860.7 542.4,863.5 543.4,862.4 544.4,863.5 545.4,859.7 546.4,862.7 547.4,864.2 548.4,863.7 549.4,861.4 550.4,861.4 551.4,861.5 552.4,863.5 553.4,861.6 554.4,862.3 555.4,864.0 556.4,862.4 557.4,862.9 558.4,862.4 559.4,865.2 560.4,863.1 561.4,864.4 562.4,863.9 563.4,864.8 564.4,865.0 565.4,864.4 566.4,864.8 567.4,863.5 568.4,865.0 569.4,865.0 570.4,865.5 571.4,863.0 572.4,865.6 573.4,865.0 574.4,864.3 575.4,864.9 576.4,866.2 577.4,866.7 578.4,867.6 579.4,865.2 580.4,865.1 581.4,865.7 582.4,867.5 583.4,867.0 584.4,865.6 585.4,867.2 586.4,866.8 587.4,867.1 588.4,867.1 589.4,866.2 590.4,866.6 591.4,869.0 592.4,867.0 593.4,868.0 594.4,866.3 595.4,866.3 596.4,866.1 597.4,868.3 598.4,868.2 599.4,868.5 600.4,868.9 601.4,867.7 602.4,867.2 603.4,867.2 604.4,868.1 605.4,868.7 606.4,868.9 607.4,869.2 608.4,867.6 609.4,868.4 610.4,866.1 611.4,868.2 612.4,869.9 613.4,868.2 614.4,869.8 615.4,870.9 616.4,870.9 617.4,869.0 618.4,868.7 619.4,869.4 620.4,869.3 621.4,868.9 622.4,868.8 623.4,869.4 624.4,869.6 625.4,869.2 626.4,868.9 627.4,869.5 628.4,869.7 629.4,869.3 630.4,868.4 631.4,867.7 632.4,868.7 633.4,866.0 634.4,868.0 635.4,868.1 636.4,869.4 637.4,867.5 638.4,867.3 639.4,869.3 640.4,869.2 641.4,867.5 642.4,868.9 643.4,868.5 644.4,867.8 645.4,867.6 646.4,868.1 647.4,868.8 648.4,869.0 649.4,869.9 650.4,868.9 651.4,867.8 652.4,867.1 653.4,867.8 654.4,868.5 655.4,868.3 656.4,866.9 657.4,870.6 658.4,870.1 659.4,869.0 660.4,868.1 661.4,867.8 662.4,869.8 663.4,868.5 664.4,869.7 665.4,869.2 666.4,867.9 667.4,869.0 668.4,869.1 669.4,868.7 670.4,869.0 671.4,867.9 672.4,868.9 673.4,868.8 674.4,869.2 675.4,868.1 676.4,870.3 677.4,869.8 678.4,868.4 679.4,869.5 680.4,869.1 681.4,869.2 682.4,870.5 683.4,869.0 684.4,867.7 685.4,870.5 686.4,868.6 687.4,869.3 688.4,867.8 689.4,870.1 690.4,868.2 691.4,867.7 692.4,867.3 693.4,868.6 694.4,870.6 695.4,868.1 696.4,869.3 697.4,869.0 698.4,870.6 699.4,870.1 700.4,868.3 701.4,868.1 702.4,868.1 703.4,868.3 704.4,869.7 705.4,869.3 706.4,867.7 707.4,868.4 708.4,868.8 709.4,867.1 710.4,869.2 711.4,870.2 712.4,868.0 713.4,869.9 714.4,868.9 715.4,868.7 716.4,869.1 717.4,868.9 718.4,870.6 719.4,868.5 720.4,869.6 721.4,869.1 722.4,868.7 723.4,867.4 724.4,869.4 725.4,869.0 726.4,870.1 727.4,869.3 728.4,869.4 729.4,869.2 730.4,866.3 731.4,870.0 732.4,869.9 733.4,869.3 734.4,869.5 735.4,870.8 736.4,868.1 737.4,869.8 738.4,868.8 739.4,869.2 740.4,868.9 741.4,866.5 742.4,868.8 743.4,869.5 744.4,869.0 745.4,869.4 746.4,868.0 747.4,868.3 748.4,868.1 749.4,867.8 750.4,870.4 751.4,869.1 752.4,868.6 753.4,869.8 754.4,867.6 755.4,866.8 756.4,869.3 757.4,867.5 758.4,868.9 759.4,868.5 760.4,867.8 761.4,868.3 762.4,868.7 763.4,868.9 764.4,868.6 765.4,868.4 766.4,867.5 767.4,867.6 768.4,868.0 769.4,868.1 770.4,869.4 771.4,868.8 772.4,867.9 773.4,870.3 774.4,867.1 775.4,871.1 776.4,868.6 777.4,868.3 778.4,868.3 779.4,866.9 780.4,869.8 781.4,868.5 782.4,869.1 783.4,870.2"/><polyline fill="none" stroke="#dc2ef8" stroke-width="1.5" stroke-linejoin="round" points="43.4,706.6 43.9,708.4 44.4,708.0 44.9,713.1 45.4,702.1 45.9,713.2 46.4,708.7 46.9,718.4 47.4,718.5 47.9,720.7 48.4,717.4 48.9,713.2 49.4,718.1 49.9,721.7 50.4,710.6 50.9,717.4 51.4,714.1 51.9,721.9 52.4,709.9 52.9,712.2 53.4,715.0 53.9,713.7 54.4,703.2 54.9,712.9 55.4,710.1 55.9,709.0 56.4,709.1 56.9,710.7 57.4,700.1 57.9,717.1 58.4,704.9 58.9,698.3 59.4,709.7 59.9,718.0 60.4,708.7 60.9,719.7 61.4,720.4 61.9,709.3 62.4,702.4 62.9,709.5 63.4,722.4 63.9,713.2 64.4,710.2 64.9,711.4 65.4,718.2 65.9,718.4 66.4,723.0 66.9,723.8 67.4,714.7 67.9,718.7 68.4,714.3 68.9,720.3 69.4,714.6 69.9,714.5 70.4,730.2 70.9,720.0 71.4,722.5 71.9,731.0 72.4,722.4 72.9,718.0 73.4,719.0 73.9,716.3 74.4,726.4 74.9,721.4 75.4,732.7 75.9,724.2 76.4,725.0 76.9,725.5 77.4,731.0 77.9,729.6 78.4,735.6 78.9,727.4 79.4,731.7 79.9,739.7 80.4,730.2 80.9,734.2 81.4,739.3 81.9,735.3 82.4,730.8 82.9,725.5 83.4,746.5 83.9,739.0 84.4,744.0 84.9,737.6 85.4,749.1 85.9,744.8 86.4,744.3 86.9,741.6 87.4,748.5 87.9,745.8 88.4,747.8 88.9,742.5 89.4,748.0 89.9,751.4 90.4,745.9 90.9,752.1 91.4,755.1 91.9,751.4 92.4,750.5 92.9,750.9 93.4,757.9 93.9,747.9 94.4,753.4 94.9,753.2 95.4,755.9 95.9,755.3 96.4,751.4 96.9,764.6 97.4,757.2 97.9,751.3 98.4,753.5 98.9,757.7 99.4,760.1 99.9,752.6 100.4,761.1 100.9,753.2 101.4,755.8 101.9,762.7 102.4,766.4 102.9,759.8 103.4,759.3 103.9,765.8 104.4,757.1 104.9,762.7 105.4,762.9 105.9,766.1 106.4,763.7 106.9,761.8 107.4,765.4 107.9,759.1 108.4,766.7 108.9,761.5 109.4,761.0 109.9,763.5 110.4,765.7 110.9,769.0 111.4,766.8 111.9,771.5 112.4,773.8 112.9,771.3 113.4,769.6 113.9,777.8 114.4,776.7 114.9,769.2 115.4,774.2 115.9,779.1 116.4,774.5 116.9,777.7 117.4,774.9 117.9,783.0 118.4,783.1 118.9,783.5 119.4,788.5 119.9,782.9 120.4,783.7 120.9,792.1 121.4,781.3 121.9,788.7 122.4,782.4 122.9,788.1 123.4,794.8 123.9,789.0 124.4,785.9 124.9,796.6 125.4,787.2 125.9,788.5 126.4,790.3 126.9,785.2 127.4,793.2 127.9,795.0 128.4,792.3 128.9,791.1 129.4,789.8 129.9,793.2 130.4,780.8 130.9,790.7 131.4,792.3 131.9,785.7 132.4,793.7 132.9,792.4 133.4,793.2 133.9,794.0 134.4,795.8 134.9,795.7 135.4,791.2 135.9,794.2 136.4,794.2 136.9,795.0 137.4,793.1 137.9,798.1 138.4,799.2 138.9,800.0 139.4,801.2 139.9,800.1 140.4,794.2 140.9,793.8 141.4,794.6 141.9,797.6 142.4,795.6 142.9,799.1 143.4,801.2 143.9,795.0 144.4,799.4 144.9,795.3 145.4,792.7 145.9,792.9 146.4,795.9 146.9,791.3 147.4,798.7 147.9,801.9 148.4,793.9 148.9,796.6 149.4,802.3 149.9,798.8 150.4,798.5 150.9,797.2 151.4,801.1 151.9,799.1 152.4,794.9 152.9,790.9 153.4,790.3 153.9,800.3 154.4,797.6 154.9,802.8 155.4,800.1 155.9,795.0 156.4,799.8 156.9,802.7 157.4,796.8 157.9,798.2 158.4,805.0 158.9,795.0 159.4,797.1 159.9,803.6 160.4,801.2 160.9,797.4 161.4,796.6 161.9,802.3 162.4,804.6 162.9,803.6 163.4,802.4 163.9,805.7 164.4,802.3 164.9,799.1 165.4,807.5 165.9,798.1 166.4,801.4 166.9,801.6 167.4,806.0 167.9,799.8 168.4,801.2 168.9,797.0 169.4,803.1 169.9,803.5 170.4,804.1 170.9,799.7 171.4,803.0 171.9,799.9 172.4,801.1 172.9,802.3 173.4,806.2 173.9,801.4 174.4,803.2 174.9,800.3 175.4,801.2 175.9,800.8 176.4,802.4 176.9,805.0 177.4,799.8 177.9,804.9 178.4,800.3 178.9,803.9 179.4,801.4 179.9,802.1 180.4,801.9 180.9,806.0 181.4,803.6 181.9,805.9 182.4,801.8 182.9,802.1 183.4,807.2 183.9,798.1 184.4,800.2 184.9,802.1 185.4,807.5 185.9,800.8 186.4,804.5 186.9,806.7 187.4,801.6 187.9,801.7 188.4,806.7 188.9,800.6 189.4,799.3 189.9,804.4 190.4,800.8 190.9,806.1 191.4,804.6 191.9,799.1 192.4,805.5 192.9,805.7 193.4,804.8 193.9,810.5 194.4,803.6 194.9,805.6 195.4,808.2 195.9,812.2 196.4,806.3 196.9,809.1 197.4,809.3 197.9,807.6 198.4,811.0 198.9,809.5 199.4,811.9 199.9,814.5 200.4,812.2 200.9,813.7 201.4,815.0 201.9,816.9 202.4,816.5 202.9,818.6 203.4,822.8 203.9,820.8 204.4,832.2 204.9,822.1 205.4,825.9 205.9,821.3 206.4,824.9 206.9,824.6 207.4,826.2 207.9,830.2 208.4,826.7 208.9,824.4 209.4,828.2 209.9,825.9 210.4,828.5 210.9,833.2 211.4,832.0 211.9,832.8 212.4,831.9 212.9,830.9 213.4,827.5 213.9,830.6 214.4,830.9 214.9,834.3 215.4,835.5 215.9,834.6 216.4,831.9 216.9,838.8 217.4,838.1 217.9,834.4 218.4,835.8 218.9,837.2 219.4,836.3 219.9,836.1 220.4,837.8 220.9,837.0 221.4,837.7 221.9,833.7 222.4,834.0 222.9,842.3 223.4,834.7 223.9,839.8 224.4,839.6 224.9,839.7 225.4,837.7 225.9,842.0 226.4,840.7 226.9,839.3 227.4,837.1 227.9,840.1 228.4,839.4 228.9,838.1 229.4,842.2 229.9,842.9 230.4,843.7 230.9,842.3 231.4,841.7 231.9,845.1 232.4,844.5 232.9,848.3 233.4,844.5 233.9,841.3 234.4,845.9 234.9,849.2 235.4,844.8 235.9,843.9 236.4,843.2 236.9,849.1 237.4,844.6 237.9,844.7 238.4,846.1 238.9,842.5 239.4,845.2 239.9,843.2 240.4,845.9 240.9,847.6 241.4,848.7 241.9,846.0 242.4,848.9 242.9,846.4 243.4,843.9 243.9,849.0 244.4,847.5 244.9,848.3 245.4,842.7 245.9,849.0 246.4,849.2 246.9,849.4 247.4,851.3 247.9,848.4 248.4,853.9 248.9,851.0 249.4,850.8 249.9,844.5 250.4,845.7 250.9,853.1 251.4,850.9 251.9,852.1 252.4,849.5 252.9,850.1 253.4,851.7 253.9,848.9 254.4,853.3 254.9,848.4 255.4,851.2 255.9,850.3 256.4,851.6 256.9,853.5 257.4,848.7 257.9,852.0 258.4,851.4 258.9,853.0 259.4,851.3 259.9,850.4 260.4,852.5 260.9,854.2 261.4,853.2 261.9,851.9 262.4,852.5 262.9,848.6 263.4,850.7 263.9,851.4 264.4,850.9 264.9,850.6 265.4,852.0 265.9,852.9 266.4,856.0 266.9,850.8 267.4,850.5 267.9,854.3 268.4,852.7 268.9,850.7 269.4,855.6 269.9,852.2 270.4,852.0 270.9,851.5 271.4,851.0 271.9,853.0 272.4,851.0 272.9,857.7 273.4,853.7 273.9,852.6 274.4,851.6 274.9,853.7 275.4,855.1 275.9,853.7 276.4,851.1 276.9,852.9 277.4,850.2 277.9,856.2 278.4,854.8 278.9,854.0 279.4,854.2 279.9,852.6 280.4,853.5 280.9,855.6 281.4,853.8 281.9,855.0 282.4,854.4 282.9,854.4 283.4,854.6 283.9,856.0 284.4,853.6 284.9,855.4 285.4,852.8 285.9,853.2 286.4,853.0 286.9,855.9 287.4,853.8 287.9,856.7 288.4,852.6 288.9,855.2 289.4,852.4 289.9,856.6 290.4,853.3 290.9,855.5 291.4,853.4 291.9,853.3 292.4,855.2 292.9,851.6 293.4,852.6 293.9,857.5 294.4,853.3 294.9,856.3 295.4,853.3 295.9,851.9 296.4,854.1 296.9,856.4 297.4,854.8 297.9,854.4 298.4,856.4 298.9,853.6 299.4,856.2 299.9,855.5 300.4,853.1 300.9,856.5 301.4,856.9 301.9,854.5 302.4,855.1 302.9,854.4 303.4,852.9 303.9,856.2 304.4,853.1 304.9,855.7 305.4,853.9 305.9,853.0 306.4,855.9 306.9,855.2 307.4,857.9 307.9,854.6 308.4,855.0 308.9,854.9 309.4,854.3 309.9,856.9 310.4,857.2 310.9,855.8 311.4,853.0 311.9,855.4 312.4,854.7 312.9,853.9 313.4,852.0 313.9,856.1 314.4,856.6 314.9,855.0 315.4,855.3 315.9,857.4 316.4,857.7 316.9,854.8 317.4,849.7 317.9,855.6 318.4,854.6 318.9,855.5 319.4,853.5 319.9,852.6 320.4,855.1 320.9,853.7 321.4,854.4 321.9,854.8 322.4,854.3 322.9,851.8 323.4,855.0 323.9,853.3 324.4,853.7 324.9,854.6 325.4,851.6 325.9,853.5 326.4,850.9 326.9,852.9 327.4,854.3 327.9,853.5 328.4,853.3 328.9,854.6 329.4,853.0 329.9,851.1 330.4,855.2 330.9,853.8 331.4,854.7 331.9,852.7 332.4,852.6 332.9,852.1 333.4,850.2 333.9,852.4 334.4,852.1 334.9,855.4 335.4,850.0 335.9,852.9 336.4,852.5 336.9,852.5 337.4,852.3 337.9,852.8 338.4,853.7 338.9,849.8 339.4,853.4 339.9,851.6 340.4,850.5 340.9,849.1 341.4,849.0 341.9,851.5 342.4,849.8 342.9,849.7 343.4,850.6 343.9,851.2 344.4,850.4 344.9,849.3 345.4,849.9 345.9,850.5 346.4,849.1 346.9,851.8 347.4,852.2 347.9,852.2 348.4,849.7 348.9,849.5 349.4,848.6 349.9,851.8 350.4,849.0 350.9,852.7 351.4,846.5 351.9,849.6 352.4,849.9 352.9,849.0 353.4,849.7 353.9,851.6 354.4,848.6 354.9,849.7 355.4,847.7 355.9,846.5 356.4,846.6 356.9,849.1 357.4,848.3 357.9,845.7 358.4,848.0 358.9,848.3 359.4,848.0 359.9,848.8 360.4,845.0 360.9,845.6 361.4,845.3 361.9,846.8 362.4,848.3 362.9,845.7 363.4,846.6 363.9,847.2 364.4,845.2 364.9,846.8 365.4,845.3 365.9,847.7 366.4,847.0 366.9,844.4 367.4,844.1 367.9,847.1 368.4,843.3 368.9,845.9 369.4,843.7 369.9,842.5 370.4,846.2 370.9,844.3 371.4,842.2 371.9,843.1 372.4,842.3 372.9,841.8 373.4,842.8 373.9,844.2 374.4,840.8 374.9,843.1 375.4,840.4 375.9,842.1 376.4,840.2 376.9,840.2 377.4,840.9 377.9,843.0 378.4,842.7 378.9,841.4 379.4,841.1 379.9,841.6 380.4,845.1 380.9,841.9 381.4,841.4 381.9,840.9 382.4,841.2 382.9,842.4 383.4,842.4 383.9,838.7 384.4,844.4 384.9,842.3 385.4,841.7 385.9,845.2 386.4,840.1 386.9,840.5 387.4,843.5 387.9,842.2 388.4,843.3 388.9,843.8 389.4,844.6 389.9,843.3 390.4,841.8 390.9,840.6 391.4,842.9 391.9,840.7 392.4,843.1 392.9,842.1 393.4,843.7 393.9,844.2 394.4,843.5 394.9,842.0 395.4,844.0 395.9,843.1 396.4,844.5 396.9,843.8 397.4,847.3 397.9,844.0 398.4,842.5 398.9,843.9 399.4,845.2 399.9,848.5 400.4,847.0 400.9,844.9 401.4,845.7 401.9,844.4 402.4,844.3 402.9,847.3 403.4,846.8 403.9,845.6 404.4,845.8 404.9,847.3 405.4,847.8 405.9,846.2 406.4,845.3 406.9,848.5 407.4,846.8 407.9,845.7 408.4,847.8 408.9,848.4 409.4,849.4 409.9,848.0 410.4,849.0 410.9,847.4 411.4,849.5 411.9,847.4 412.4,850.0 412.9,849.6 413.4,847.8 413.9,849.0 414.4,851.7 414.9,848.7 415.4,848.2 415.9,849.9 416.4,850.5 416.9,851.3 417.4,850.3 417.9,850.1 418.4,850.4 418.9,851.6 419.4,850.6 419.9,851.5 420.4,848.9 420.9,850.6 421.4,850.9 421.9,852.2 422.4,851.6 422.9,851.4 423.4,852.4 423.9,851.5 424.4,854.8 424.9,850.3 425.4,851.5 425.9,853.5 426.4,852.3 426.9,851.8 427.4,852.7 427.9,851.1 428.4,851.7 428.9,851.8 429.4,853.8 429.9,852.1 430.4,854.0 430.9,851.7 431.4,852.1 431.9,849.9 432.4,852.5 432.9,849.7 433.4,852.6 433.9,853.0 434.4,852.4 434.9,850.8 435.4,851.7 435.9,849.1 436.4,851.2 436.9,852.3 437.4,852.1 437.9,851.7 438.4,853.6 438.9,852.5 439.4,852.2 439.9,852.4 440.4,851.0 440.9,852.0 441.4,850.1 441.9,849.2 442.4,851.9 442.9,853.3 443.4,851.1 443.9,852.8 444.4,850.5 444.9,852.4 445.4,852.5 445.9,852.5 446.4,850.9 446.9,853.2 447.4,853.3 447.9,853.2 448.4,855.2 448.9,852.3 449.4,852.9 449.9,854.1 450.4,851.3 450.9,851.9 451.4,854.1 451.9,852.6 452.4,852.1 452.9,853.6 453.4,851.6 453.9,853.3 454.4,852.0 454.9,852.5 455.4,850.3 455.9,853.5 456.4,853.6 456.9,853.2 457.4,852.7 457.9,853.8 458.4,855.2 458.9,854.6 459.4,852.9 459.9,854.0 460.4,853.5 460.9,854.4 461.4,853.0 461.9,855.5 462.4,853.1 462.9,852.9 463.4,854.5 463.9,855.9 464.4,852.4 464.9,854.3 465.4,855.0 465.9,857.3 466.4,852.8 466.9,855.7 467.4,853.7 467.9,854.2 468.4,855.7 468.9,854.7 469.4,853.3 469.9,854.6 470.4,854.4 470.9,855.1 471.4,853.9 471.9,854.2 472.4,854.7 472.9,855.1 473.4,855.0 473.9,855.7 474.4,855.9 474.9,855.7 475.4,854.6 475.9,853.7 476.4,854.5 476.9,854.7 477.4,855.2 477.9,856.6 478.4,855.5 478.9,854.6 479.4,854.3 479.9,855.6 480.4,855.5 480.9,854.7 481.4,854.1 481.9,855.5 482.4,856.4 482.9,856.2 483.4,854.5 483.9,855.6 484.4,855.9 484.9,855.1 485.4,856.1 485.9,855.6 486.4,857.3 486.9,855.6 487.4,858.1 487.9,857.5 488.4,856.9 488.9,856.8 489.4,858.1 489.9,856.3 490.4,857.1 490.9,856.5 491.4,858.4 491.9,856.5 492.4,856.6 492.9,854.1 493.4,857.2 493.9,856.6 494.4,857.6 494.9,855.5 495.4,856.2 495.9,858.6 496.4,856.4 496.9,857.5 497.4,858.3 497.9,857.4 498.4,857.4 498.9,858.7 499.4,856.9 499.9,858.1 500.4,857.3 500.9,856.4 501.4,857.7 501.9,859.1 502.4,857.5 502.9,857.0 503.4,857.6 503.9,857.3 504.4,858.4 504.9,856.9 505.4,858.9 505.9,858.5 506.4,859.4 506.9,857.6 507.4,859.2 507.9,857.1 508.4,858.9 508.9,858.1 509.4,857.2 509.9,859.2 510.4,860.0 510.9,860.4 511.4,859.0 511.9,858.3 512.4,860.2 512.9,857.7 513.4,858.9 513.9,857.2 514.4,859.0 514.9,859.1 515.4,858.5 515.9,860.1 516.4,858.9 516.9,859.5 517.4,859.7 517.9,859.0 518.4,856.5 518.9,858.8 519.4,859.4 519.9,858.2 520.4,859.4 520.9,857.8 521.4,860.1 521.9,860.1 522.4,860.0 522.9,859.1 523.4,859.9 523.9,858.3 524.4,858.9 524.9,860.2 525.4,859.1 525.9,859.6 526.4,859.9 526.9,861.1 527.4,859.3 527.9,859.5 528.4,859.4 528.9,858.4 529.4,860.4 529.9,858.1 530.4,859.4 530.9,861.7 531.4,860.4 531.9,858.0 532.4,859.4 532.9,862.3 533.4,860.3 533.9,862.6 534.4,860.1 534.9,858.1 535.4,861.0 535.9,860.6 536.4,861.2 536.9,859.8 537.4,859.8 537.9,860.4 538.4,860.0 538.9,862.0 539.4,862.4 539.9,861.0 540.4,862.3 540.9,860.6 541.4,861.1 541.9,859.7 542.4,862.8 542.9,861.0 543.4,863.0 543.9,863.0 544.4,862.3 544.9,862.1 545.4,860.8 545.9,862.9 546.4,862.7 546.9,863.3 547.4,862.5 547.9,861.0 548.4,861.1 548.9,863.3 549.4,864.1 549.9,862.2 550.4,862.5 550.9,863.0 551.4,862.9 551.9,863.1 552.4,862.6 552.9,863.1 553.4,862.4 553.9,862.9 554.4,863.8 554.9,863.2 555.4,862.6 555.9,863.6 556.4,862.2 556.9,862.7 557.4,862.4 557.9,863.8 558.4,864.3 558.9,863.3 559.4,862.8 559.9,864.3 560.4,864.1 560.9,862.3 561.4,865.0 561.9,865.0 562.4,863.9 562.9,864.1 563.4,864.2 563.9,863.8 564.4,864.9 564.9,863.7 565.4,864.2 565.9,864.7 566.4,862.9 566.9,864.2 567.4,863.5 567.9,864.3 568.4,864.3 568.9,864.7 569.4,865.1 569.9,864.0 570.4,865.4 570.9,863.4 571.4,866.2 571.9,865.2 572.4,866.1 572.9,863.4 573.4,866.8 573.9,865.2 574.4,865.9 574.9,865.7 575.4,865.5 575.9,865.2 576.4,863.7 576.9,867.1 577.4,867.7 577.9,865.3 578.4,867.3 578.9,867.0 579.4,866.4 579.9,865.9 580.4,866.7 580.9,865.5 581.4,865.9 581.9,865.7 582.4,865.6 582.9,865.8 583.4,867.0 583.9,867.1 584.4,865.7 584.9,866.5 585.4,866.4 585.9,864.9 586.4,867.8 586.9,865.6 587.4,867.9 587.9,864.4 588.4,866.1 588.9,867.7 589.4,867.4 589.9,867.5 590.4,867.0 590.9,869.2 591.4,867.2 591.9,867.6 592.4,866.5 592.9,866.5 593.4,868.8 593.9,868.8 594.4,865.6 594.9,866.9 595.4,868.8 595.9,867.7 596.4,868.6 596.9,865.8 597.4,867.9 597.9,867.8 598.4,867.9 598.9,867.2 599.4,867.8 599.9,869.7 600.4,866.9 600.9,867.9 601.4,867.7 601.9,867.8 602.4,870.0 602.9,869.8 603.4,867.8 603.9,868.8 604.4,867.4 604.9,868.6 605.4,867.9 605.9,869.9 606.4,868.8 606.9,867.3 607.4,866.6 607.9,867.3 608.4,870.6 608.9,867.5 609.4,867.1 609.9,867.9 610.4,868.1 610.9,869.2 611.4,867.8 611.9,870.3 612.4,868.7 612.9,869.0 613.4,870.2 613.9,868.9 614.4,869.1 614.9,869.4 615.4,868.0 615.9,868.2 616.4,869.5 616.9,868.0 617.4,868.2 617.9,869.8 618.4,869.4 618.9,869.2 619.4,867.7 619.9,870.8 620.4,868.7 620.9,868.5 621.4,868.6 621.9,868.0 622.4,868.5 622.9,870.8 623.4,867.3 623.9,871.1 624.4,867.8 624.9,867.8 625.4,870.2 625.9,870.7 626.4,868.4 626.9,869.6 627.4,868.0 627.9,868.4 628.4,868.0 628.9,868.9 629.4,868.1 629.9,868.9 630.4,868.4 630.9,868.8 631.4,868.8 631.9,868.1 632.4,868.3 632.9,867.6 633.4,869.2 633.9,869.5 634.4,868.3 634.9,868.4 635.4,868.2 635.9,868.2 636.4,868.9 636.9,867.0 637.4,867.2 637.9,868.8 638.4,869.6 638.9,868.0 639.4,869.5 639.9,869.6 640.4,868.8 640.9,870.9 641.4,868.6 641.9,868.8 642.4,867.6 642.9,867.7 643.4,868.8 643.9,869.3 644.4,868.5 644.9,868.6 645.4,868.8 645.9,869.4 646.4,867.0 646.9,869.5 647.4,867.8 647.9,869.1 648.4,869.4 648.9,867.3 649.4,869.8 649.9,868.7 650.4,868.1 650.9,870.4 651.4,867.4 651.9,867.1 652.4,868.8 652.9,869.0 653.4,868.4 653.9,869.2 654.4,866.3 654.9,869.6 655.4,868.8 655.9,867.5 656.4,867.4 656.9,869.1 657.4,869.0 657.9,868.0 658.4,868.8 658.9,868.7 659.4,869.7 659.9,867.7 660.4,869.7 660.9,868.8 661.4,868.7 661.9,869.2 662.4,868.2 662.9,867.3 663.4,867.1 663.9,869.7 664.4,867.0 664.9,869.7 665.4,868.0 665.9,869.8 666.4,867.8 666.9,869.0 667.4,868.9 667.9,869.5 668.4,868.3 668.9,869.2 669.4,870.3 669.9,867.4 670.4,869.7 670.9,867.7 671.4,869.7 671.9,868.4 672.4,870.2 672.9,868.5 673.4,868.2 673.9,869.8 674.4,868.5 674.9,868.6 675.4,869.7 675.9,870.2 676.4,869.6 676.9,866.9 677.4,869.1 677.9,869.1 678.4,869.6 678.9,869.8 679.4,869.8 679.9,869.3 680.4,870.8 680.9,868.7 681.4,868.2 681.9,867.6 682.4,868.5 682.9,869.6 683.4,868.9 683.9,870.2 684.4,868.9 684.9,868.3 685.4,870.4 685.9,868.7 686.4,870.0 686.9,866.7 687.4,867.6 687.9,868.4 688.4,867.9 688.9,869.1 689.4,869.0 689.9,869.1 690.4,868.0 690.9,868.0 691.4,868.2 691.9,870.3 692.4,868.6 692.9,869.7 693.4,868.1 693.9,867.5 694.4,869.0 694.9,869.8 695.4,867.2 695.9,868.3 696.4,869.4 696.9,868.5 697.4,868.5 697.9,869.5 698.4,868.9 698.9,869.0 699.4,868.3 699.9,869.0 700.4,868.3 700.9,870.2 701.4,865.8 701.9,868.9 702.4,869.5 702.9,867.9 703.4,869.4 703.9,868.1 704.4,869.5 704.9,870.4 705.4,868.6 705.9,870.9 706.4,868.8 706.9,866.4 707.4,868.4 707.9,868.9 708.4,869.0 708.9,868.8 709.4,869.1 709.9,868.6 710.4,870.1 710.9,869.1 711.4,868.6 711.9,870.5 712.4,867.5 712.9,866.9 713.4,868.1 713.9,866.3 714.4,869.2 714.9,868.5 715.4,870.8 715.9,867.9 716.4,867.6 716.9,869.4 717.4,869.4 717.9,869.4 718.4,868.2 718.9,868.2 719.4,869.3 719.9,868.6 720.4,869.3 720.9,869.8 721.4,868.5 721.9,869.3 722.4,866.9 722.9,870.3 723.4,870.2 723.9,868.9 724.4,868.6 724.9,868.9 725.4,869.0 725.9,868.7 726.4,868.2 726.9,869.1 727.4,870.0 727.9,867.0 728.4,868.3 728.9,868.0 729.4,867.7 729.9,868.8 730.4,866.7 730.9,868.4 731.4,869.6 731.9,869.7 732.4,869.5 732.9,869.1 733.4,869.6 733.9,869.0 734.4,869.3 734.9,869.5 735.4,870.3 735.9,869.8 736.4,869.7 736.9,867.4 737.4,869.1 737.9,869.0 738.4,868.3 738.9,867.9 739.4,869.5 739.9,868.9 740.4,868.5 740.9,867.8 741.4,868.1 741.9,868.3 742.4,869.1 742.9,870.4 743.4,869.0 743.9,866.9 744.4,869.2 744.9,869.2 745.4,867.8 745.9,867.5 746.4,868.8 746.9,869.5 747.4,869.2 747.9,870.2 748.4,868.6 748.9,868.8 749.4,867.9 749.9,869.7 750.4,868.9 750.9,869.3 751.4,866.6 751.9,867.1 752.4,869.1 752.9,869.3 753.4,868.3 753.9,868.4 754.4,869.4 754.9,868.0 755.4,868.7 755.9,867.8 756.4,868.2 756.9,869.5 757.4,867.1 757.9,868.0 758.4,866.4 758.9,869.0 759.4,868.9 759.9,871.4 760.4,868.3 760.9,868.9 761.4,869.7 761.9,869.4 762.4,868.5 762.9,869.9 763.4,866.2 763.9,869.2 764.4,868.0 764.9,868.0 765.4,867.7 765.9,869.0 766.4,867.7 766.9,868.9 767.4,870.3 767.9,868.0 768.4,868.8 768.9,868.1 769.4,867.5 769.9,869.2 770.4,869.8 770.9,868.1 771.4,868.7 771.9,868.6 772.4,868.0 772.9,869.5 773.4,866.8 773.9,870.1 774.4,868.2 774.9,870.3 775.4,869.2 775.9,868.6 776.4,867.1 776.9,867.4 777.4,869.3 777.9,868.0 778.4,869.5 778.9,867.5 779.4,869.7 779.9,868.6 780.4,869.0 780.9,867.8 781.4,868.3 781.9,869.1 782.4,868.8 782.9,867.8 783.4,868.8"/>
<polyline fill="none" stroke="#6c068e" stroke-width="2.2" stroke-linejoin="round" points="43.4,744.1 44.4,739.2 45.4,745.6 46.4,751.7 47.4,743.3 48.4,750.1 49.4,747.5 50.4,754.2 51.4,749.3 52.4,749.7 53.4,757.5 54.4,757.9 55.4,754.4 56.4,750.3 57.4,751.4 58.4,757.4 59.4,757.6 60.4,752.5 61.4,760.2 62.4,758.6 63.4,756.1 64.4,757.5 65.4,758.7 66.4,756.8 67.4,760.5 68.4,758.3 69.4,758.6 70.4,761.9 71.4,761.2 72.4,756.7 73.4,761.4 74.4,759.1 75.4,762.7 76.4,763.5 77.4,758.8 78.4,765.1 79.4,767.4 80.4,763.8 81.4,760.1 82.4,763.0 83.4,764.5 84.4,765.4 85.4,766.1 86.4,763.4 87.4,764.8 88.4,768.8 89.4,775.2 90.4,768.9 91.4,768.7 92.4,770.8 93.4,774.0 94.4,770.3 95.4,764.0 96.4,769.5 97.4,769.5 98.4,768.9 99.4,768.4 100.4,769.7 101.4,778.6 102.4,774.4 103.4,773.3 104.4,769.7 105.4,772.0 106.4,774.0 107.4,772.8 108.4,772.8 109.4,777.4 110.4,776.9 111.4,775.1 112.4,770.4 113.4,775.0 114.4,772.5 115.4,773.9 116.4,775.6 117.4,777.2 118.4,779.2 119.4,771.6 120.4,779.2 121.4,776.4 122.4,777.9 123.4,776.1 124.4,782.2 125.4,778.7 126.4,780.9 127.4,777.3 128.4,781.8 129.4,780.2 130.4,778.1 131.4,779.9 132.4,779.4 133.4,779.4 134.4,784.7 135.4,782.4 136.4,781.0 137.4,778.5 138.4,784.4 139.4,782.0 140.4,781.6 141.4,780.6 142.4,786.0 143.4,785.5 144.4,782.3 145.4,782.2 146.4,782.7 147.4,783.6 148.4,784.2 149.4,781.5 150.4,783.3 151.4,785.0 152.4,787.5 153.4,786.7 154.4,786.0 155.4,784.1 156.4,786.9 157.4,788.0 158.4,788.5 159.4,789.5 160.4,786.4 161.4,786.1 162.4,789.9 163.4,787.1 164.4,789.7 165.4,789.0 166.4,786.2 167.4,789.7 168.4,789.5 169.4,789.5 170.4,789.6 171.4,788.1 172.4,789.8 173.4,790.1 174.4,793.3 175.4,791.0 176.4,792.2 177.4,795.3 178.4,788.4 179.4,794.5 180.4,793.0 181.4,792.1 182.4,790.7 183.4,795.4 184.4,794.2 185.4,793.1 186.4,791.9 187.4,796.3 188.4,797.6 189.4,793.1 190.4,795.0 191.4,796.0 192.4,797.3 193.4,795.2 194.4,800.1 195.4,796.4 196.4,796.2 197.4,795.6 198.4,795.3 199.4,799.0 200.4,798.0 201.4,796.8 202.4,796.7 203.4,800.6 204.4,801.2 205.4,800.6 206.4,800.1 207.4,799.1 208.4,802.2 209.4,803.0 210.4,801.4 211.4,800.9 212.4,804.5 213.4,800.5 214.4,802.9 215.4,805.9 216.4,802.8 217.4,802.6 218.4,799.5 219.4,801.9 220.4,803.4 221.4,807.0 222.4,802.2 223.4,808.2 224.4,804.8 225.4,804.7 226.4,806.0 227.4,803.6 228.4,806.6 229.4,808.6 230.4,803.2 231.4,805.0 232.4,804.7 233.4,807.1 234.4,807.2 235.4,810.0 236.4,805.7 237.4,809.3 238.4,806.9 239.4,808.5 240.4,807.8 241.4,809.1 242.4,807.0 243.4,809.9 244.4,809.7 245.4,806.5 246.4,808.3 247.4,809.3 248.4,807.4 249.4,807.4 250.4,808.2 251.4,809.6 252.4,809.9 253.4,808.0 254.4,810.0 255.4,806.6 256.4,812.4 257.4,808.9 258.4,811.5 259.4,809.0 260.4,809.2 261.4,810.3 262.4,810.2 263.4,807.7 264.4,809.1 265.4,809.7 266.4,809.4 267.4,809.5 268.4,809.4 269.4,809.5 270.4,810.8 271.4,810.0 272.4,809.9 273.4,809.2 274.4,812.0 275.4,810.0 276.4,812.5 277.4,810.2 278.4,809.3 279.4,810.3 280.4,810.3 281.4,810.4 282.4,810.7 283.4,810.7 284.4,812.5 285.4,809.8 286.4,809.7 287.4,809.8 288.4,812.7 289.4,810.9 290.4,811.5 291.4,813.0 292.4,811.5 293.4,809.7 294.4,812.0 295.4,812.9 296.4,814.3 297.4,813.6 298.4,811.9 299.4,812.0 300.4,812.0 301.4,811.4 302.4,813.7 303.4,811.7 304.4,811.6 305.4,810.6 306.4,810.2 307.4,811.9 308.4,813.0 309.4,811.2 310.4,811.8 311.4,810.8 312.4,811.2 313.4,811.5 314.4,813.7 315.4,815.3 316.4,814.1 317.4,813.1 318.4,812.1 319.4,814.2 320.4,811.8 321.4,811.3 322.4,814.4 323.4,811.4 324.4,814.3 325.4,813.0 326.4,814.2 327.4,811.2 328.4,813.8 329.4,813.8 330.4,814.0 331.4,811.7 332.4,812.8 333.4,811.5 334.4,815.0 335.4,813.3 336.4,813.2 337.4,814.5 338.4,812.9 339.4,813.6 340.4,813.1 341.4,814.3 342.4,811.0 343.4,814.8 344.4,813.7 345.4,812.5 346.4,815.0 347.4,816.1 348.4,812.9 349.4,813.8 350.4,813.8 351.4,814.5 352.4,812.2 353.4,813.8 354.4,813.0 355.4,814.2 356.4,812.9 357.4,813.4 358.4,813.3 359.4,813.3 360.4,814.0 361.4,814.0 362.4,812.5 363.4,813.3 364.4,813.8 365.4,814.8 366.4,815.5 367.4,813.8 368.4,814.5 369.4,815.7 370.4,815.0 371.4,813.9 372.4,814.0 373.4,813.3 374.4,816.1 375.4,814.8 376.4,814.1 377.4,814.2 378.4,815.8 379.4,815.5 380.4,815.5 381.4,815.5 382.4,814.0 383.4,814.0 384.4,814.9 385.4,814.2 386.4,814.9 387.4,814.4 388.4,814.5 389.4,815.7 390.4,814.1 391.4,814.3 392.4,816.4 393.4,813.6 394.4,815.3 395.4,815.0 396.4,814.6 397.4,816.7 398.4,814.5 399.4,813.1 400.4,816.3 401.4,817.2 402.4,813.7 403.4,815.6 404.4,815.4 405.4,815.6 406.4,816.2 407.4,815.8 408.4,815.9 409.4,814.0 410.4,814.4 411.4,816.4 412.4,815.9 413.4,816.2 414.4,816.5 415.4,814.3 416.4,814.3 417.4,815.1 418.4,816.5 419.4,816.1 420.4,814.9 421.4,815.8 422.4,816.0 423.4,815.8 424.4,816.0 425.4,817.3 426.4,816.1 427.4,816.4 428.4,815.7 429.4,817.9 430.4,816.7 431.4,816.2 432.4,816.4 433.4,817.2 434.4,815.7 435.4,817.5 436.4,815.3 437.4,815.3 438.4,815.7 439.4,815.1 440.4,816.9 441.4,816.3 442.4,816.8 443.4,817.9 444.4,815.7 445.4,817.3 446.4,816.3 447.4,817.5 448.4,817.7 449.4,816.5 450.4,817.4 451.4,816.5 452.4,818.2 453.4,816.1 454.4,817.0 455.4,815.5 456.4,816.2 457.4,817.3 458.4,817.4 459.4,817.4 460.4,819.4 461.4,817.7 462.4,816.0 463.4,817.0 464.4,817.7 465.4,816.3 466.4,816.0 467.4,818.3 468.4,817.2 469.4,815.4 470.4,817.0 471.4,817.5 472.4,817.6 473.4,817.5 474.4,817.5 475.4,816.7 476.4,817.0 477.4,817.6 478.4,817.0 479.4,818.3 480.4,816.5 481.4,817.4 482.4,817.8 483.4,817.7 484.4,817.6 485.4,817.1 486.4,817.0 487.4,816.2 488.4,817.0 489.4,817.9 490.4,818.9 491.4,816.6 492.4,816.2 493.4,819.6 494.4,816.5 495.4,819.0 496.4,818.5 497.4,818.6 498.4,817.4 499.4,817.9 500.4,818.1 501.4,817.0 502.4,819.0 503.4,816.0 504.4,817.4 505.4,817.0 506.4,817.7 507.4,818.6 508.4,817.2 509.4,818.4 510.4,816.6 511.4,819.5 512.4,817.8 513.4,819.0 514.4,818.2 515.4,818.1 516.4,818.6 517.4,818.3 518.4,818.9 519.4,819.9 520.4,817.1 521.4,816.9 522.4,819.2 523.4,816.9 524.4,819.8 525.4,819.4 526.4,819.5 527.4,819.5 528.4,818.3 529.4,818.7 530.4,818.3 531.4,819.6 532.4,821.1 533.4,819.1 534.4,818.4 535.4,819.0 536.4,816.8 537.4,818.7 538.4,819.7 539.4,818.9 540.4,819.1 541.4,819.7 542.4,819.6 543.4,819.3 544.4,818.9 545.4,820.0 546.4,818.3 547.4,818.8 548.4,819.5 549.4,819.5 550.4,820.0 551.4,818.0 552.4,818.2 553.4,819.3 554.4,817.9 555.4,819.8 556.4,819.5 557.4,819.7 558.4,818.5 559.4,819.2 560.4,818.8 561.4,817.9 562.4,818.5 563.4,819.9 564.4,819.1 565.4,818.7 566.4,819.1 567.4,820.4 568.4,819.0 569.4,819.3 570.4,819.7 571.4,817.7 572.4,818.7 573.4,818.9 574.4,819.7 575.4,819.1 576.4,819.2 577.4,818.3 578.4,818.2 579.4,820.4 580.4,819.5 581.4,820.5 582.4,818.6 583.4,819.5 584.4,820.1 585.4,819.1 586.4,819.4 587.4,818.2 588.4,817.7 589.4,818.6 590.4,818.0 591.4,818.3 592.4,819.5 593.4,819.2 594.4,820.3 595.4,820.5 596.4,820.2 597.4,819.8 598.4,819.3 599.4,820.2 600.4,818.5 601.4,818.9 602.4,820.5 603.4,819.4 604.4,820.4 605.4,820.0 606.4,819.9 607.4,820.4 608.4,819.7 609.4,819.1 610.4,819.5 611.4,820.4 612.4,818.9 613.4,821.0 614.4,819.8 615.4,820.1 616.4,820.5 617.4,820.8 618.4,819.1 619.4,820.0 620.4,819.1 621.4,820.1 622.4,820.3 623.4,820.2 624.4,819.9 625.4,819.6 626.4,819.9 627.4,818.3 628.4,820.0 629.4,820.2 630.4,820.6 631.4,820.7 632.4,820.0 633.4,820.3 634.4,820.2 635.4,820.7 636.4,820.1 637.4,821.4 638.4,821.2 639.4,819.4 640.4,819.7 641.4,819.4 642.4,820.0 643.4,819.8 644.4,820.4 645.4,820.4 646.4,820.1 647.4,819.7 648.4,819.8 649.4,821.3 650.4,820.1 651.4,820.7 652.4,820.1 653.4,821.6 654.4,820.0 655.4,819.8 656.4,819.9 657.4,820.6 658.4,819.6 659.4,818.7 660.4,821.4 661.4,821.9 662.4,821.9 663.4,820.1 664.4,821.1 665.4,821.1 666.4,821.4 667.4,820.5 668.4,820.4 669.4,820.9 670.4,820.3 671.4,819.8 672.4,821.1 673.4,822.4 674.4,820.3 675.4,820.6 676.4,819.3 677.4,821.8 678.4,821.5 679.4,820.0 680.4,820.6 681.4,819.3 682.4,821.3 683.4,820.7 684.4,821.6 685.4,821.1 686.4,821.4 687.4,820.4 688.4,820.7 689.4,822.2 690.4,820.0 691.4,819.8 692.4,822.1 693.4,820.9 694.4,821.5 695.4,821.2 696.4,821.3 697.4,819.9 698.4,820.5 699.4,820.8 700.4,820.6 701.4,821.1 702.4,821.0 703.4,819.6 704.4,821.9 705.4,819.8 706.4,821.6 707.4,820.9 708.4,821.5 709.4,822.1 710.4,820.5 711.4,821.1 712.4,821.1 713.4,819.9 714.4,819.9 715.4,821.3 716.4,821.6 717.4,820.9 718.4,819.4 719.4,821.3 720.4,822.2 721.4,821.1 722.4,821.0 723.4,821.0 724.4,821.1 725.4,819.8 726.4,820.7 727.4,820.7 728.4,820.6 729.4,820.9 730.4,822.2 731.4,821.6 732.4,821.5 733.4,820.6 734.4,821.7 735.4,821.5 736.4,821.1 737.4,821.8 738.4,821.4 739.4,821.9 740.4,820.2 741.4,821.0 742.4,822.1 743.4,822.8 744.4,821.7 745.4,821.4 746.4,821.4 747.4,821.8 748.4,822.9 749.4,821.7 750.4,820.8 751.4,820.9 752.4,821.4 753.4,822.5 754.4,821.2 755.4,820.6 756.4,822.0 757.4,821.2 758.4,820.9 759.4,822.9 760.4,822.4 761.4,823.8 762.4,823.2 763.4,822.5 764.4,821.7 765.4,822.2 766.4,821.2 767.4,822.4 768.4,822.5 769.4,821.6 770.4,821.7 771.4,821.1 772.4,822.0 773.4,822.0 774.4,823.7 775.4,821.8 776.4,823.8 777.4,821.6 778.4,821.8 779.4,821.7 780.4,822.3 781.4,821.0 782.4,823.1 783.4,823.0"/><polyline fill="none" stroke="#6c068e" stroke-width="1.5" stroke-linejoin="round" points="43.4,743.0 43.9,744.7 44.4,743.7 44.9,742.6 45.4,744.4 45.9,743.4 46.4,746.9 46.9,750.9 47.4,746.2 47.9,746.3 48.4,749.8 48.9,749.8 49.4,749.4 49.9,746.9 50.4,749.7 50.9,752.1 51.4,746.8 51.9,749.6 52.4,746.1 52.9,748.5 53.4,747.7 53.9,752.9 54.4,750.7 54.9,755.6 55.4,755.8 55.9,755.2 56.4,748.9 56.9,754.4 57.4,755.8 57.9,756.3 58.4,751.9 58.9,754.8 59.4,753.5 59.9,754.1 60.4,759.3 60.9,754.3 61.4,756.6 61.9,759.3 62.4,755.5 62.9,757.0 63.4,757.8 63.9,757.8 64.4,754.5 64.9,758.2 65.4,761.8 65.9,754.1 66.4,760.6 66.9,758.8 67.4,756.8 67.9,764.0 68.4,760.8 68.9,755.7 69.4,759.2 69.9,760.7 70.4,758.9 70.9,761.4 71.4,759.8 71.9,762.1 72.4,764.5 72.9,759.2 73.4,761.9 73.9,760.5 74.4,762.2 74.9,759.0 75.4,760.7 75.9,761.7 76.4,764.7 76.9,765.3 77.4,759.0 77.9,760.4 78.4,764.2 78.9,757.4 79.4,761.4 79.9,762.4 80.4,766.0 80.9,764.7 81.4,762.2 81.9,762.2 82.4,762.7 82.9,767.4 83.4,762.6 83.9,763.1 84.4,765.0 84.9,764.0 85.4,764.1 85.9,762.1 86.4,765.2 86.9,764.5 87.4,769.0 87.9,768.1 88.4,766.7 88.9,768.9 89.4,766.7 89.9,770.5 90.4,768.1 90.9,769.8 91.4,765.4 91.9,769.7 92.4,764.9 92.9,764.2 93.4,768.8 93.9,767.5 94.4,770.4 94.9,775.7 95.4,768.3 95.9,769.0 96.4,771.3 96.9,772.2 97.4,770.7 97.9,770.8 98.4,773.2 98.9,773.0 99.4,769.3 99.9,771.8 100.4,772.2 100.9,769.6 101.4,773.0 101.9,770.4 102.4,774.9 102.9,773.1 103.4,773.0 103.9,771.4 104.4,772.6 104.9,768.2 105.4,770.3 105.9,774.0 106.4,768.0 106.9,775.2 107.4,769.0 107.9,775.1 108.4,771.3 108.9,775.2 109.4,773.7 109.9,769.8 110.4,776.5 110.9,777.1 111.4,773.7 111.9,773.4 112.4,773.9 112.9,772.2 113.4,777.4 113.9,773.7 114.4,775.1 114.9,773.6 115.4,774.2 115.9,772.9 116.4,779.0 116.9,775.9 117.4,778.8 117.9,776.8 118.4,775.3 118.9,776.4 119.4,776.0 119.9,777.5 120.4,776.8 120.9,777.1 121.4,774.7 121.9,776.2 122.4,782.0 122.9,776.8 123.4,776.0 123.9,779.3 124.4,781.9 124.9,775.5 125.4,778.4 125.9,777.6 126.4,775.1 126.9,780.9 127.4,779.3 127.9,779.6 128.4,777.9 128.9,780.7 129.4,778.6 129.9,779.7 130.4,777.6 130.9,777.6 131.4,783.5 131.9,779.6 132.4,781.6 132.9,781.1 133.4,780.4 133.9,780.5 134.4,783.2 134.9,781.2 135.4,781.6 135.9,782.1 136.4,784.7 136.9,783.7 137.4,783.1 137.9,781.0 138.4,779.3 138.9,784.4 139.4,784.5 139.9,782.2 140.4,783.7 140.9,784.3 141.4,784.5 141.9,784.8 142.4,781.9 142.9,786.3 143.4,780.4 143.9,785.1 144.4,784.4 144.9,785.4 145.4,787.6 145.9,786.9 146.4,781.4 146.9,780.4 147.4,785.9 147.9,782.2 148.4,784.5 148.9,786.5 149.4,781.3 149.9,780.5 150.4,785.6 150.9,785.3 151.4,784.8 151.9,785.5 152.4,783.7 152.9,782.5 153.4,785.4 153.9,783.8 154.4,782.5 154.9,787.1 155.4,786.0 155.9,787.1 156.4,784.3 156.9,785.1 157.4,784.5 157.9,784.9 158.4,787.2 158.9,785.3 159.4,787.8 159.9,787.9 160.4,791.5 160.9,784.6 161.4,789.4 161.9,787.6 162.4,787.9 162.9,785.2 163.4,787.4 163.9,790.0 164.4,788.6 164.9,789.1 165.4,788.5 165.9,791.6 166.4,789.5 166.9,785.3 167.4,788.5 167.9,786.1 168.4,783.7 168.9,789.3 169.4,793.2 169.9,790.8 170.4,788.5 170.9,789.1 171.4,793.3 171.9,791.5 172.4,791.4 172.9,791.3 173.4,791.6 173.9,793.2 174.4,792.8 174.9,792.2 175.4,789.8 175.9,793.0 176.4,790.7 176.9,794.3 177.4,789.8 177.9,792.1 178.4,792.5 178.9,790.0 179.4,796.0 179.9,795.6 180.4,792.0 180.9,794.5 181.4,793.8 181.9,788.2 182.4,793.8 182.9,793.3 183.4,793.7 183.9,791.6 184.4,793.3 184.9,793.6 185.4,796.3 185.9,794.8 186.4,794.2 186.9,797.2 187.4,793.4 187.9,793.9 188.4,791.3 188.9,797.8 189.4,796.8 189.9,796.8 190.4,796.4 190.9,795.5 191.4,795.9 191.9,795.1 192.4,795.3 192.9,795.9 193.4,798.8 193.9,797.1 194.4,796.1 194.9,795.3 195.4,795.3 195.9,799.6 196.4,797.7 196.9,797.1 197.4,796.4 197.9,795.2 198.4,797.2 198.9,799.1 199.4,796.9 199.9,797.4 200.4,797.5 200.9,798.3 201.4,795.3 201.9,797.9 202.4,797.0 202.9,800.2 203.4,797.4 203.9,800.0 204.4,801.8 204.9,798.7 205.4,798.4 205.9,799.9 206.4,799.7 206.9,798.2 207.4,800.8 207.9,803.7 208.4,799.9 208.9,800.1 209.4,798.8 209.9,801.3 210.4,798.8 210.9,799.2 211.4,803.4 211.9,799.8 212.4,803.3 212.9,804.2 213.4,802.1 213.9,802.8 214.4,805.2 214.9,801.8 215.4,801.2 215.9,800.1 216.4,802.5 216.9,805.1 217.4,804.3 217.9,801.3 218.4,801.6 218.9,802.3 219.4,803.7 219.9,803.0 220.4,803.9 220.9,804.1 221.4,803.3 221.9,803.8 222.4,804.4 222.9,804.0 223.4,805.1 223.9,807.4 224.4,805.5 224.9,804.8 225.4,802.2 225.9,805.6 226.4,802.1 226.9,803.1 227.4,806.7 227.9,806.6 228.4,805.4 228.9,803.1 229.4,805.3 229.9,804.9 230.4,807.1 230.9,809.7 231.4,806.6 231.9,805.2 232.4,804.7 232.9,806.5 233.4,806.4 233.9,805.0 234.4,807.0 234.9,805.2 235.4,808.7 235.9,808.7 236.4,808.8 236.9,806.6 237.4,808.1 237.9,807.3 238.4,807.0 238.9,807.1 239.4,805.8 239.9,805.7 240.4,809.0 240.9,807.7 241.4,808.3 241.9,809.6 242.4,805.7 242.9,807.2 243.4,808.6 243.9,809.0 244.4,808.0 244.9,810.1 245.4,809.0 245.9,807.1 246.4,807.5 246.9,810.0 247.4,809.6 247.9,806.4 248.4,811.0 248.9,810.0 249.4,811.0 249.9,808.7 250.4,808.8 250.9,807.7 251.4,812.7 251.9,809.0 252.4,811.5 252.9,808.4 253.4,809.5 253.9,807.1 254.4,808.8 254.9,810.7 255.4,807.7 255.9,810.8 256.4,809.9 256.9,808.0 257.4,808.7 257.9,808.8 258.4,809.4 258.9,808.7 259.4,808.4 259.9,809.1 260.4,808.1 260.9,807.8 261.4,809.5 261.9,810.8 262.4,807.5 262.9,809.6 263.4,808.8 263.9,808.4 264.4,810.8 264.9,809.0 265.4,811.7 265.9,808.7 266.4,810.3 266.9,809.5 267.4,808.9 267.9,810.7 268.4,809.7 268.9,810.7 269.4,809.9 269.9,808.6 270.4,809.9 270.9,810.1 271.4,811.4 271.9,808.9 272.4,810.1 272.9,807.9 273.4,811.1 273.9,808.8 274.4,807.9 274.9,810.2 275.4,811.8 275.9,808.4 276.4,809.0 276.9,809.5 277.4,809.0 277.9,811.0 278.4,809.5 278.9,809.6 279.4,811.3 279.9,809.6 280.4,811.2 280.9,809.4 281.4,809.1 281.9,808.3 282.4,813.1 282.9,810.4 283.4,811.1 283.9,810.8 284.4,811.1 284.9,810.9 285.4,813.3 285.9,809.6 286.4,809.0 286.9,809.7 287.4,809.3 287.9,812.0 288.4,812.1 288.9,809.9 289.4,809.4 289.9,810.7 290.4,813.0 290.9,807.7 291.4,811.9 291.9,809.9 292.4,812.6 292.9,810.0 293.4,811.0 293.9,809.5 294.4,810.2 294.9,813.2 295.4,812.5 295.9,811.0 296.4,810.5 296.9,809.3 297.4,811.1 297.9,811.6 298.4,811.6 298.9,811.6 299.4,810.4 299.9,811.7 300.4,811.8 300.9,813.4 301.4,814.2 301.9,811.7 302.4,811.0 302.9,811.9 303.4,811.3 303.9,811.1 304.4,812.0 304.9,810.8 305.4,812.9 305.9,812.0 306.4,812.5 306.9,812.0 307.4,811.4 307.9,811.1 308.4,812.0 308.9,811.7 309.4,812.6 309.9,812.4 310.4,810.8 310.9,812.5 311.4,810.9 311.9,811.8 312.4,812.2 312.9,810.1 313.4,812.7 313.9,812.8 314.4,812.4 314.9,812.1 315.4,812.2 315.9,811.5 316.4,812.4 316.9,812.1 317.4,812.9 317.9,811.4 318.4,813.1 318.9,813.0 319.4,812.7 319.9,812.4 320.4,813.6 320.9,811.0 321.4,813.5 321.9,813.3 322.4,813.3 322.9,813.5 323.4,812.3 323.9,812.8 324.4,813.8 324.9,813.6 325.4,813.4 325.9,811.4 326.4,813.8 326.9,814.5 327.4,814.4 327.9,813.5 328.4,811.4 328.9,814.4 329.4,813.1 329.9,810.4 330.4,813.7 330.9,811.6 331.4,811.9 331.9,812.6 332.4,814.8 332.9,813.0 333.4,813.7 333.9,815.4 334.4,815.2 334.9,813.3 335.4,813.2 335.9,812.0 336.4,812.7 336.9,814.0 337.4,814.0 337.9,813.6 338.4,814.7 338.9,812.7 339.4,813.5 339.9,814.4 340.4,814.2 340.9,814.8 341.4,814.0 341.9,813.3 342.4,814.0 342.9,812.5 343.4,811.8 343.9,814.3 344.4,813.6 344.9,814.0 345.4,811.8 345.9,813.3 346.4,813.0 346.9,812.8 347.4,811.2 347.9,813.4 348.4,814.7 348.9,814.2 349.4,813.1 349.9,813.8 350.4,814.6 350.9,810.8 351.4,813.7 351.9,814.4 352.4,814.6 352.9,815.7 353.4,815.1 353.9,814.2 354.4,814.2 354.9,814.7 355.4,813.3 355.9,813.8 356.4,814.9 356.9,816.0 357.4,813.7 357.9,813.9 358.4,814.1 358.9,815.4 359.4,813.9 359.9,815.5 360.4,812.9 360.9,813.8 361.4,813.8 361.9,814.8 362.4,815.1 362.9,812.4 363.4,813.1 363.9,814.4 364.4,813.3 364.9,812.4 365.4,815.2 365.9,814.6 366.4,814.6 366.9,813.6 367.4,815.2 367.9,813.9 368.4,815.3 368.9,813.2 369.4,813.3 369.9,814.4 370.4,813.4 370.9,814.9 371.4,814.5 371.9,813.2 372.4,814.3 372.9,813.9 373.4,815.2 373.9,813.6 374.4,813.8 374.9,815.5 375.4,816.6 375.9,816.3 376.4,814.4 376.9,814.5 377.4,815.9 377.9,814.2 378.4,813.4 378.9,814.5 379.4,814.8 379.9,813.6 380.4,812.7 380.9,813.0 381.4,815.1 381.9,813.7 382.4,814.3 382.9,814.7 383.4,815.1 383.9,814.2 384.4,815.0 384.9,813.7 385.4,814.2 385.9,813.6 386.4,815.7 386.9,814.6 387.4,813.9 387.9,814.3 388.4,814.5 388.9,815.4 389.4,813.1 389.9,813.7 390.4,814.4 390.9,817.3 391.4,815.7 391.9,814.7 392.4,815.5 392.9,816.9 393.4,814.6 393.9,814.5 394.4,816.1 394.9,815.4 395.4,815.6 395.9,814.5 396.4,816.9 396.9,816.7 397.4,815.6 397.9,815.7 398.4,813.1 398.9,815.7 399.4,814.9 399.9,815.6 400.4,815.8 400.9,814.9 401.4,813.6 401.9,815.6 402.4,814.5 402.9,815.0 403.4,814.7 403.9,815.0 404.4,813.1 404.9,816.5 405.4,815.6 405.9,816.4 406.4,817.3 406.9,815.5 407.4,813.8 407.9,814.6 408.4,814.4 408.9,815.1 409.4,815.6 409.9,813.7 410.4,815.9 410.9,814.2 411.4,815.9 411.9,815.6 412.4,815.4 412.9,815.6 413.4,815.2 413.9,815.2 414.4,814.2 414.9,815.7 415.4,817.5 415.9,817.6 416.4,817.1 416.9,816.5 417.4,815.3 417.9,817.2 418.4,815.9 418.9,815.9 419.4,815.7 419.9,816.1 420.4,815.6 420.9,815.9 421.4,815.0 421.9,815.7 422.4,818.1 422.9,816.0 423.4,815.9 423.9,816.6 424.4,816.8 424.9,815.1 425.4,816.0 425.9,817.0 426.4,816.4 426.9,816.3 427.4,817.6 427.9,815.6 428.4,816.3 428.9,815.8 429.4,817.6 429.9,814.5 430.4,815.7 430.9,815.8 431.4,816.9 431.9,816.9 432.4,817.6 432.9,815.0 433.4,817.1 433.9,816.1 434.4,815.8 434.9,816.9 435.4,815.6 435.9,814.6 436.4,816.1 436.9,815.1 437.4,815.9 437.9,816.8 438.4,816.8 438.9,818.0 439.4,816.4 439.9,815.2 440.4,815.9 440.9,815.7 441.4,815.5 441.9,817.0 442.4,816.0 442.9,814.8 443.4,817.2 443.9,816.5 444.4,817.0 444.9,816.7 445.4,817.2 445.9,816.7 446.4,817.8 446.9,817.1 447.4,817.1 447.9,817.1 448.4,815.4 448.9,816.6 449.4,816.5 449.9,816.9 450.4,815.5 450.9,818.2 451.4,816.9 451.9,815.7 452.4,815.3 452.9,816.6 453.4,816.7 453.9,816.2 454.4,816.9 454.9,816.3 455.4,817.4 455.9,816.2 456.4,816.8 456.9,817.8 457.4,819.2 457.9,816.0 458.4,816.5 458.9,816.2 459.4,817.6 459.9,815.9 460.4,816.5 460.9,816.9 461.4,816.1 461.9,816.1 462.4,816.6 462.9,815.1 463.4,815.7 463.9,816.6 464.4,817.2 464.9,816.9 465.4,815.5 465.9,816.6 466.4,817.8 466.9,817.6 467.4,817.0 467.9,816.3 468.4,817.7 468.9,816.6 469.4,816.1 469.9,816.4 470.4,818.4 470.9,817.3 471.4,818.2 471.9,816.7 472.4,818.0 472.9,816.6 473.4,817.0 473.9,819.4 474.4,817.9 474.9,816.8 475.4,817.1 475.9,817.5 476.4,818.3 476.9,816.8 477.4,815.7 477.9,817.0 478.4,817.3 478.9,817.4 479.4,818.5 479.9,817.6 480.4,818.0 480.9,816.3 481.4,818.1 481.9,819.2 482.4,818.0 482.9,817.6 483.4,817.5 483.9,818.9 484.4,816.6 484.9,817.3 485.4,817.8 485.9,818.1 486.4,817.0 486.9,817.7 487.4,817.2 487.9,817.5 488.4,817.3 488.9,816.5 489.4,817.5 489.9,818.3 490.4,816.6 490.9,817.3 491.4,818.1 491.9,816.6 492.4,817.7 492.9,816.6 493.4,818.6 493.9,819.6 494.4,819.4 494.9,817.4 495.4,818.2 495.9,817.7 496.4,817.7 496.9,819.0 497.4,816.5 497.9,818.6 498.4,817.6 498.9,818.9 499.4,817.9 499.9,817.1 500.4,818.0 500.9,818.4 501.4,817.8 501.9,818.2 502.4,817.3 502.9,815.9 503.4,818.6 503.9,818.4 504.4,817.9 504.9,817.9 505.4,818.7 505.9,817.4 506.4,817.2 506.9,817.7 507.4,818.9 507.9,816.7 508.4,819.0 508.9,817.4 509.4,817.0 509.9,819.1 510.4,817.9 510.9,816.9 511.4,817.7 511.9,818.8 512.4,819.1 512.9,817.7 513.4,818.4 513.9,818.7 514.4,817.5 514.9,818.4 515.4,818.1 515.9,817.7 516.4,817.7 516.9,818.2 517.4,818.2 517.9,817.7 518.4,817.8 518.9,819.2 519.4,818.4 519.9,819.0 520.4,819.3 520.9,818.8 521.4,820.3 521.9,817.6 522.4,819.0 522.9,818.1 523.4,820.0 523.9,819.8 524.4,816.7 524.9,817.5 525.4,819.0 525.9,819.1 526.4,819.1 526.9,818.4 527.4,818.8 527.9,819.0 528.4,818.4 528.9,819.4 529.4,816.5 529.9,819.0 530.4,817.6 530.9,819.4 531.4,818.3 531.9,817.8 532.4,818.9 532.9,817.8 533.4,817.8 533.9,817.2 534.4,818.6 534.9,819.0 535.4,819.5 535.9,818.5 536.4,819.5 536.9,818.7 537.4,818.6 537.9,819.2 538.4,819.6 538.9,818.4 539.4,818.5 539.9,818.6 540.4,818.8 540.9,817.9 541.4,819.6 541.9,818.4 542.4,819.1 542.9,818.0 543.4,819.1 543.9,819.1 544.4,818.4 544.9,820.5 545.4,819.1 545.9,820.3 546.4,819.6 546.9,818.2 547.4,818.5 547.9,819.2 548.4,818.9 548.9,818.9 549.4,818.6 549.9,817.3 550.4,818.7 550.9,817.0 551.4,819.2 551.9,818.3 552.4,818.3 552.9,818.7 553.4,819.2 553.9,817.7 554.4,817.4 554.9,818.0 555.4,817.2 555.9,818.1 556.4,820.3 556.9,818.1 557.4,819.5 557.9,817.8 558.4,819.3 558.9,818.7 559.4,819.0 559.9,819.5 560.4,820.5 560.9,819.2 561.4,819.2 561.9,818.2 562.4,819.6 562.9,818.9 563.4,819.8 563.9,819.0 564.4,820.6 564.9,817.4 565.4,818.9 565.9,819.9 566.4,818.8 566.9,818.4 567.4,818.9 567.9,818.0 568.4,819.3 568.9,821.2 569.4,820.1 569.9,818.2 570.4,818.4 570.9,818.8 571.4,820.1 571.9,818.5 572.4,818.6 572.9,820.0 573.4,820.0 573.9,818.9 574.4,818.3 574.9,817.9 575.4,818.7 575.9,817.4 576.4,819.9 576.9,818.7 577.4,819.7 577.9,820.9 578.4,820.3 578.9,818.3 579.4,820.0 579.9,820.3 580.4,818.7 580.9,818.5 581.4,819.2 581.9,818.0 582.4,820.6 582.9,817.3 583.4,818.4 583.9,819.1 584.4,819.2 584.9,819.5 585.4,819.6 585.9,819.2 586.4,820.4 586.9,817.6 587.4,819.4 587.9,818.8 588.4,819.5 588.9,819.6 589.4,818.7 589.9,818.9 590.4,820.1 590.9,819.8 591.4,818.9 591.9,821.2 592.4,821.4 592.9,818.3 593.4,819.8 593.9,821.6 594.4,820.2 594.9,819.7 595.4,819.4 595.9,819.1 596.4,819.4 596.9,819.1 597.4,820.2 597.9,819.2 598.4,819.2 598.9,818.6 599.4,819.5 599.9,818.8 600.4,819.5 600.9,820.5 601.4,819.9 601.9,820.1 602.4,819.9 602.9,819.7 603.4,819.5 603.9,819.4 604.4,820.3 604.9,818.8 605.4,820.8 605.9,819.7 606.4,819.1 606.9,819.3 607.4,819.1 607.9,819.9 608.4,819.1 608.9,820.7 609.4,819.1 609.9,817.8 610.4,819.1 610.9,818.1 611.4,819.7 611.9,820.7 612.4,820.3 612.9,818.7 613.4,819.2 613.9,821.3 614.4,820.1 614.9,819.8 615.4,820.7 615.9,821.9 616.4,820.9 616.9,820.0 617.4,820.2 617.9,820.4 618.4,819.4 618.9,819.0 619.4,819.9 619.9,819.1 620.4,819.8 620.9,820.0 621.4,821.9 621.9,819.2 622.4,819.8 622.9,819.8 623.4,820.3 623.9,820.8 624.4,819.5 624.9,819.3 625.4,818.6 625.9,819.2 626.4,820.4 626.9,820.0 627.4,819.1 627.9,819.7 628.4,820.0 628.9,820.4 629.4,819.5 629.9,819.8 630.4,818.5 630.9,819.1 631.4,821.4 631.9,818.2 632.4,819.8 632.9,820.3 633.4,819.8 633.9,819.4 634.4,820.0 634.9,820.1 635.4,820.0 635.9,818.6 636.4,820.0 636.9,819.4 637.4,819.7 637.9,820.3 638.4,820.7 638.9,820.9 639.4,819.8 639.9,820.9 640.4,821.1 640.9,821.1 641.4,821.3 641.9,820.1 642.4,820.1 642.9,820.9 643.4,819.1 643.9,820.4 644.4,819.8 644.9,819.9 645.4,818.8 645.9,819.5 646.4,820.2 646.9,821.0 647.4,821.1 647.9,820.2 648.4,820.1 648.9,819.6 649.4,820.6 649.9,820.1 650.4,820.8 650.9,821.8 651.4,820.3 651.9,819.1 652.4,819.6 652.9,819.1 653.4,819.4 653.9,821.4 654.4,820.6 654.9,819.1 655.4,820.9 655.9,821.4 656.4,820.1 656.9,819.8 657.4,820.1 657.9,820.7 658.4,821.0 658.9,821.4 659.4,821.4 659.9,821.4 660.4,821.6 660.9,821.0 661.4,819.2 661.9,820.4 662.4,820.7 662.9,820.2 663.4,821.2 663.9,820.2 664.4,819.7 664.9,821.7 665.4,821.1 665.9,820.7 666.4,821.3 666.9,821.4 667.4,820.8 667.9,818.5 668.4,820.0 668.9,820.2 669.4,819.8 669.9,820.7 670.4,821.6 670.9,820.2 671.4,819.7 671.9,822.3 672.4,820.2 672.9,819.6 673.4,820.8 673.9,821.0 674.4,820.1 674.9,821.3 675.4,820.3 675.9,819.9 676.4,820.8 676.9,821.3 677.4,820.2 677.9,821.0 678.4,820.6 678.9,823.0 679.4,820.1 679.9,821.8 680.4,820.7 680.9,820.6 681.4,821.3 681.9,821.5 682.4,821.8 682.9,821.0 683.4,820.3 683.9,820.3 684.4,821.2 684.9,821.3 685.4,821.9 685.9,821.1 686.4,821.7 686.9,822.0 687.4,821.0 687.9,819.6 688.4,819.9 688.9,819.7 689.4,822.1 689.9,820.2 690.4,821.9 690.9,821.3 691.4,822.3 691.9,821.7 692.4,820.8 692.9,820.7 693.4,821.0 693.9,821.1 694.4,820.5 694.9,820.9 695.4,822.2 695.9,819.6 696.4,821.2 696.9,820.2 697.4,821.1 697.9,821.6 698.4,820.9 698.9,821.6 699.4,819.7 699.9,821.9 700.4,820.5 700.9,821.5 701.4,821.2 701.9,818.9 702.4,820.4 702.9,821.2 703.4,822.3 703.9,821.3 704.4,821.3 704.9,819.9 705.4,822.2 705.9,822.5 706.4,821.1 706.9,820.9 707.4,819.8 707.9,821.8 708.4,823.3 708.9,821.7 709.4,822.1 709.9,821.6 710.4,820.4 710.9,822.2 711.4,820.2 711.9,821.0 712.4,821.4 712.9,821.9 713.4,821.5 713.9,821.5 714.4,820.6 714.9,820.2 715.4,821.3 715.9,820.7 716.4,820.2 716.9,820.2 717.4,820.9 717.9,819.8 718.4,820.2 718.9,820.0 719.4,821.4 719.9,821.6 720.4,822.9 720.9,820.1 721.4,820.8 721.9,822.0 722.4,821.1 722.9,821.1 723.4,822.7 723.9,821.1 724.4,820.4 724.9,820.3 725.4,821.6 725.9,821.6 726.4,820.3 726.9,820.6 727.4,821.8 727.9,821.9 728.4,820.9 728.9,821.9 729.4,821.9 729.9,820.0 730.4,821.2 730.9,821.8 731.4,821.0 731.9,819.8 732.4,821.2 732.9,822.1 733.4,822.7 733.9,819.7 734.4,823.6 734.9,820.6 735.4,822.3 735.9,822.5 736.4,822.3 736.9,821.6 737.4,820.6 737.9,822.0 738.4,821.0 738.9,819.6 739.4,823.8 739.9,822.1 740.4,823.0 740.9,820.9 741.4,822.8 741.9,822.9 742.4,822.8 742.9,821.6 743.4,820.7 743.9,821.5 744.4,819.9 744.9,820.3 745.4,821.7 745.9,820.9 746.4,821.5 746.9,821.6 747.4,823.2 747.9,822.7 748.4,821.7 748.9,822.7 749.4,821.1 749.9,821.4 750.4,822.4 750.9,820.7 751.4,821.5 751.9,820.7 752.4,821.8 752.9,823.0 753.4,821.2 753.9,822.0 754.4,821.1 754.9,820.9 755.4,820.8 755.9,822.9 756.4,823.7 756.9,822.2 757.4,821.3 757.9,822.4 758.4,821.6 758.9,822.5 759.4,822.1 759.9,822.1 760.4,822.3 760.9,821.4 761.4,821.6 761.9,820.5 762.4,821.5 762.9,820.8 763.4,821.8 763.9,821.2 764.4,822.0 764.9,822.3 765.4,820.8 765.9,821.3 766.4,821.2 766.9,822.5 767.4,823.3 767.9,822.6 768.4,821.7 768.9,823.1 769.4,820.8 769.9,823.2 770.4,821.5 770.9,819.8 771.4,824.1 771.9,823.3 772.4,821.2 772.9,822.2 773.4,821.9 773.9,822.1 774.4,820.9 774.9,821.5 775.4,822.4 775.9,822.3 776.4,823.0 776.9,822.2 777.4,823.9 777.9,821.6 778.4,822.3 778.9,820.6 779.4,821.2 779.9,823.2 780.4,821.4 780.9,822.6 781.4,822.1 781.9,821.4 782.4,821.9 782.9,821.8 783.4,821.8"/>
<rect x="43.4" y="2.65" width="740.0" height="299.65000000000003" fill="none" stroke="#000" stroke-width="2.8"/><path d="M96.26 302.30V297.60M149.11 302.30V292.70M201.97 302.30V297.60M254.83 302.30V292.70M307.69 302.30V297.60M360.54 302.30V292.70M413.40 302.30V297.60M466.26 302.30V292.70M519.11 302.30V297.60M571.97 302.30V292.70M624.83 302.30V297.60M677.69 302.30V292.70M730.54 302.30V297.60" stroke="#000" stroke-width="2.5" fill="none"/>
<rect x="43.4" y="337.1" width="740.0" height="299.1" fill="none" stroke="#000" stroke-width="2.8"/><path d="M96.26 636.20V631.50M149.11 636.20V626.60M201.97 636.20V631.50M254.83 636.20V626.60M307.69 636.20V631.50M360.54 636.20V626.60M413.40 636.20V631.50M466.26 636.20V626.60M519.11 636.20V631.50M571.97 636.20V626.60M624.83 636.20V631.50M677.69 636.20V626.60M730.54 636.20V631.50" stroke="#000" stroke-width="2.5" fill="none"/>
<rect x="43.4" y="670.6" width="740.0" height="298.0" fill="none" stroke="#000" stroke-width="2.8"/><path d="M96.26 968.60V963.90M149.11 968.60V959.00M201.97 968.60V963.90M254.83 968.60V959.00M307.69 968.60V963.90M360.54 968.60V959.00M413.40 968.60V963.90M466.26 968.60V959.00M519.11 968.60V963.90M571.97 968.60V959.00M624.83 968.60V963.90M677.69 968.60V959.00M730.54 968.60V963.90" stroke="#000" stroke-width="2.5" fill="none"/>
<path d="M113.28 301.2V240.2M190.24 301.2V253.2M233.16 301.2V290.4M243.94 301.2V300.2M282.74 301.2V301.2M379.36 301.2V265.8M410.86 301.2V294.6M443.21 301.2V299.1M486.03 301.2V295.9M493.74 301.2V301.2M516.15 301.2V295.9M529.05 301.2V293.3M585.50 301.2V299.8M620.60 301.2V301.2M664.05 301.2V298.6M690.37 301.2V301.2M716.80 301.2V299.8M754.86 301.2V301.2M780.23 301.2V299.1" stroke="#168a16" stroke-width="3.9" stroke-linecap="round" fill="none"/>
<g font-family="Liberation Serif, serif" font-weight="bold" fill="#000">
<text x="0.6" y="21.7" font-size="31" text-anchor="start" >(a)</text>
<text x="-0.4" y="358.0" font-size="31" text-anchor="start" >(b)</text>
<text x="1.9" y="689.7" font-size="31" text-anchor="start" >(c)</text>
<text x="43.40" y="325.6" font-size="29.3" text-anchor="middle" >20</text>
<text x="149.11" y="325.6" font-size="29.3" text-anchor="middle" >30</text>
<text x="254.83" y="325.6" font-size="29.3" text-anchor="middle" >40</text>
<text x="360.54" y="325.6" font-size="29.3" text-anchor="middle" >50</text>
<text x="466.26" y="325.6" font-size="29.3" text-anchor="middle" >60</text>
<text x="571.97" y="325.6" font-size="29.3" text-anchor="middle" >70</text>
<text x="677.69" y="325.6" font-size="29.3" text-anchor="middle" >80</text>
<text x="783.40" y="325.6" font-size="29.3" text-anchor="middle" >90</text>
<text x="43.40" y="659.6" font-size="29.3" text-anchor="middle" >20</text>
<text x="149.11" y="659.6" font-size="29.3" text-anchor="middle" >30</text>
<text x="254.83" y="659.6" font-size="29.3" text-anchor="middle" >40</text>
<text x="360.54" y="659.6" font-size="29.3" text-anchor="middle" >50</text>
<text x="466.26" y="659.6" font-size="29.3" text-anchor="middle" >60</text>
<text x="571.97" y="659.6" font-size="29.3" text-anchor="middle" >70</text>
<text x="677.69" y="659.6" font-size="29.3" text-anchor="middle" >80</text>
<text x="783.40" y="659.6" font-size="29.3" text-anchor="middle" >90</text>
<text x="43.40" y="994.3" font-size="29.3" text-anchor="middle" >20</text>
<text x="149.11" y="994.3" font-size="29.3" text-anchor="middle" >30</text>
<text x="254.83" y="994.3" font-size="29.3" text-anchor="middle" >40</text>
<text x="360.54" y="994.3" font-size="29.3" text-anchor="middle" >50</text>
<text x="466.26" y="994.3" font-size="29.3" text-anchor="middle" >60</text>
<text x="571.97" y="994.3" font-size="29.3" text-anchor="middle" >70</text>
<text x="677.69" y="994.3" font-size="29.3" text-anchor="middle" >80</text>
<text x="783.40" y="994.3" font-size="29.3" text-anchor="middle" >90</text>
<text transform="translate(25.9,155.6) rotate(-90)" font-size="30.7" text-anchor="middle">Intensity (a.u.)</text>
<text transform="translate(25.0,485.5) rotate(-90)" font-size="30.7" text-anchor="middle">Intensity (a.u.)</text>
<text transform="translate(28.2,829.0) rotate(-90)" font-size="30.7" text-anchor="middle">Intensity (a.u.)</text>
<text x="766.0" y="33.9" font-size="29" text-anchor="end" >UID-SnO</text>
<text x="764.6" y="43.9" font-size="15.5" text-anchor="start" >2</text>
<text x="778.5" y="138.9" font-size="27.3" text-anchor="end" >As-dep.</text>
<text x="777.2" y="190.6" font-size="28.3" text-anchor="end" >300 °C</text>
<text x="779.3" y="247.6" font-size="28.3" text-anchor="end" >500 °C</text>
<text x="777.3" y="288.9" font-size="26" text-anchor="end" textLength="174" lengthAdjust="spacingAndGlyphs">JCPDS: 99-0024</text>
<text x="111.8" y="45.1" font-size="28.5" text-anchor="middle" >(110)</text>
<text x="192.0" y="63.0" font-size="28.5" text-anchor="middle" >(101)</text>
<text x="381.6" y="106.0" font-size="28.5" text-anchor="middle" >(211)</text>
<text x="772.5" y="369.8" font-size="28.5" text-anchor="end" >SnO<tspan font-size="15.5" dy="10">2</tspan><tspan dy="-10">:1.0%In</tspan></text>
<text x="775.5" y="491.6" font-size="27.3" text-anchor="end" >As-dep.</text>
<text x="775.4" y="553.7" font-size="28.3" text-anchor="end" >300 °C</text>
<text x="776.6" y="605.9" font-size="28.3" text-anchor="end" >500 °C</text>
<text x="772.5" y="704.8" font-size="28.5" text-anchor="end" >SnO<tspan font-size="15.5" dy="10">2</tspan><tspan dy="-10">:18.2%In</tspan></text>
<text x="779.5" y="810.5" font-size="27.6" text-anchor="end" >As-dep.</text>
<text x="780.5" y="861.3" font-size="28.3" text-anchor="end" >300 °C</text>
<text x="780.5" y="910.9" font-size="28.3" text-anchor="end" >500 °C</text>
<text x="382.6" y="1025.5" font-size="29" text-anchor="start" >2<tspan font-size="27" dx="1.2">θ</tspan></text>
<text x="418.5" y="1025.5" font-size="24" text-anchor="start" font-weight="normal">(°)</text>
</g></svg></body></html>
